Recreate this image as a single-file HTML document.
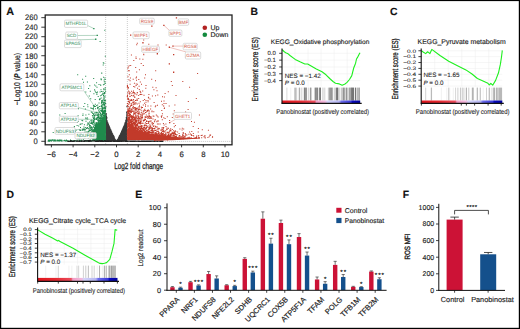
<!DOCTYPE html>
<html><head><meta charset="utf-8"><style>
html,body{margin:0;padding:0;background:#fff;overflow:hidden;width:520px;height:329px;}
svg{display:block;}
text{font-family:"Liberation Sans",sans-serif;text-rendering:geometricPrecision;}
</style></head><body>
<svg width="520" height="329" viewBox="0 0 520 329">
<rect x="0" y="0" width="520" height="329" fill="#fff"/>
<text x="6.20" y="14.70" font-size="10.8" text-anchor="start" fill="#111" font-weight="bold" font-style="normal" stroke="#111" stroke-width="0.14" >A</text>
<line x1="41.30" y1="141.30" x2="45.20" y2="141.30" stroke="#222" stroke-width="0.9" />
<text x="37.70" y="144.10" font-size="8.0" text-anchor="end" fill="#222" font-weight="normal" font-style="normal" stroke="#222" stroke-width="0.14" textLength="4.2" lengthAdjust="spacingAndGlyphs">0</text>
<line x1="41.30" y1="131.79" x2="45.20" y2="131.79" stroke="#222" stroke-width="0.9" />
<text x="37.70" y="134.59" font-size="8.0" text-anchor="end" fill="#222" font-weight="normal" font-style="normal" stroke="#222" stroke-width="0.14" textLength="8.4" lengthAdjust="spacingAndGlyphs">20</text>
<line x1="41.30" y1="122.28" x2="45.20" y2="122.28" stroke="#222" stroke-width="0.9" />
<text x="37.70" y="125.08" font-size="8.0" text-anchor="end" fill="#222" font-weight="normal" font-style="normal" stroke="#222" stroke-width="0.14" textLength="8.4" lengthAdjust="spacingAndGlyphs">40</text>
<line x1="41.30" y1="112.77" x2="45.20" y2="112.77" stroke="#222" stroke-width="0.9" />
<text x="37.70" y="115.57" font-size="8.0" text-anchor="end" fill="#222" font-weight="normal" font-style="normal" stroke="#222" stroke-width="0.14" textLength="8.4" lengthAdjust="spacingAndGlyphs">60</text>
<line x1="41.30" y1="103.26" x2="45.20" y2="103.26" stroke="#222" stroke-width="0.9" />
<text x="37.70" y="106.06" font-size="8.0" text-anchor="end" fill="#222" font-weight="normal" font-style="normal" stroke="#222" stroke-width="0.14" textLength="8.4" lengthAdjust="spacingAndGlyphs">80</text>
<line x1="41.30" y1="93.75" x2="45.20" y2="93.75" stroke="#222" stroke-width="0.9" />
<text x="37.70" y="96.55" font-size="8.0" text-anchor="end" fill="#222" font-weight="normal" font-style="normal" stroke="#222" stroke-width="0.14" textLength="12.6" lengthAdjust="spacingAndGlyphs">100</text>
<line x1="41.30" y1="84.24" x2="45.20" y2="84.24" stroke="#222" stroke-width="0.9" />
<text x="37.70" y="87.04" font-size="8.0" text-anchor="end" fill="#222" font-weight="normal" font-style="normal" stroke="#222" stroke-width="0.14" textLength="12.6" lengthAdjust="spacingAndGlyphs">120</text>
<line x1="41.30" y1="74.73" x2="45.20" y2="74.73" stroke="#222" stroke-width="0.9" />
<text x="37.70" y="77.53" font-size="8.0" text-anchor="end" fill="#222" font-weight="normal" font-style="normal" stroke="#222" stroke-width="0.14" textLength="12.6" lengthAdjust="spacingAndGlyphs">140</text>
<line x1="41.30" y1="65.22" x2="45.20" y2="65.22" stroke="#222" stroke-width="0.9" />
<text x="37.70" y="68.02" font-size="8.0" text-anchor="end" fill="#222" font-weight="normal" font-style="normal" stroke="#222" stroke-width="0.14" textLength="12.6" lengthAdjust="spacingAndGlyphs">160</text>
<line x1="41.30" y1="55.71" x2="45.20" y2="55.71" stroke="#222" stroke-width="0.9" />
<text x="37.70" y="58.51" font-size="8.0" text-anchor="end" fill="#222" font-weight="normal" font-style="normal" stroke="#222" stroke-width="0.14" textLength="12.6" lengthAdjust="spacingAndGlyphs">180</text>
<line x1="41.30" y1="46.20" x2="45.20" y2="46.20" stroke="#222" stroke-width="0.9" />
<text x="37.70" y="49.00" font-size="8.0" text-anchor="end" fill="#222" font-weight="normal" font-style="normal" stroke="#222" stroke-width="0.14" textLength="12.6" lengthAdjust="spacingAndGlyphs">200</text>
<line x1="41.30" y1="36.69" x2="45.20" y2="36.69" stroke="#222" stroke-width="0.9" />
<text x="37.70" y="39.49" font-size="8.0" text-anchor="end" fill="#222" font-weight="normal" font-style="normal" stroke="#222" stroke-width="0.14" textLength="12.6" lengthAdjust="spacingAndGlyphs">220</text>
<line x1="41.30" y1="27.18" x2="45.20" y2="27.18" stroke="#222" stroke-width="0.9" />
<text x="37.70" y="29.98" font-size="8.0" text-anchor="end" fill="#222" font-weight="normal" font-style="normal" stroke="#222" stroke-width="0.14" textLength="12.6" lengthAdjust="spacingAndGlyphs">240</text>
<line x1="41.30" y1="17.67" x2="45.20" y2="17.67" stroke="#222" stroke-width="0.9" />
<text x="37.70" y="20.47" font-size="8.0" text-anchor="end" fill="#222" font-weight="normal" font-style="normal" stroke="#222" stroke-width="0.14" textLength="12.6" lengthAdjust="spacingAndGlyphs">260</text>
<line x1="51.40" y1="144.80" x2="51.40" y2="147.30" stroke="#222" stroke-width="0.9" />
<text x="51.40" y="157.00" font-size="7.8" text-anchor="middle" fill="#222" font-weight="normal" font-style="normal" stroke="#222" stroke-width="0.14" >&#8722;6</text>
<line x1="73.10" y1="144.80" x2="73.10" y2="147.30" stroke="#222" stroke-width="0.9" />
<text x="73.10" y="157.00" font-size="7.8" text-anchor="middle" fill="#222" font-weight="normal" font-style="normal" stroke="#222" stroke-width="0.14" >&#8722;4</text>
<line x1="94.80" y1="144.80" x2="94.80" y2="147.30" stroke="#222" stroke-width="0.9" />
<text x="94.80" y="157.00" font-size="7.8" text-anchor="middle" fill="#222" font-weight="normal" font-style="normal" stroke="#222" stroke-width="0.14" >&#8722;2</text>
<line x1="116.50" y1="144.80" x2="116.50" y2="147.30" stroke="#222" stroke-width="0.9" />
<text x="116.50" y="157.00" font-size="7.8" text-anchor="middle" fill="#222" font-weight="normal" font-style="normal" stroke="#222" stroke-width="0.14" >0</text>
<line x1="138.20" y1="144.80" x2="138.20" y2="147.30" stroke="#222" stroke-width="0.9" />
<text x="138.20" y="157.00" font-size="7.8" text-anchor="middle" fill="#222" font-weight="normal" font-style="normal" stroke="#222" stroke-width="0.14" >2</text>
<line x1="159.90" y1="144.80" x2="159.90" y2="147.30" stroke="#222" stroke-width="0.9" />
<text x="159.90" y="157.00" font-size="7.8" text-anchor="middle" fill="#222" font-weight="normal" font-style="normal" stroke="#222" stroke-width="0.14" >4</text>
<line x1="181.60" y1="144.80" x2="181.60" y2="147.30" stroke="#222" stroke-width="0.9" />
<text x="181.60" y="157.00" font-size="7.8" text-anchor="middle" fill="#222" font-weight="normal" font-style="normal" stroke="#222" stroke-width="0.14" >6</text>
<line x1="203.30" y1="144.80" x2="203.30" y2="147.30" stroke="#222" stroke-width="0.9" />
<text x="203.30" y="157.00" font-size="7.8" text-anchor="middle" fill="#222" font-weight="normal" font-style="normal" stroke="#222" stroke-width="0.14" >8</text>
<line x1="225.00" y1="144.80" x2="225.00" y2="147.30" stroke="#222" stroke-width="0.9" />
<text x="225.00" y="157.00" font-size="7.8" text-anchor="middle" fill="#222" font-weight="normal" font-style="normal" stroke="#222" stroke-width="0.14" >10</text>
<text transform="translate(20.2,79) rotate(-90)" font-size="8.4" text-anchor="middle" fill="#222" stroke="#222" stroke-width="0.2" textLength="52.3" lengthAdjust="spacingAndGlyphs">&#8722;Log10 (<tspan font-style="italic" font-weight="bold">P</tspan> value)</text>
<text x="138.65" y="169.40" font-size="9.0" text-anchor="middle" fill="#222" font-weight="normal" font-style="normal"  textLength="49" lengthAdjust="spacingAndGlyphs" stroke="#222" stroke-width="0.25">Log2 fold change</text>
<line x1="105.65" y1="15.00" x2="105.65" y2="144.80" stroke="#999" stroke-width="0.5" stroke-dasharray="1,1"/>
<line x1="127.35" y1="15.00" x2="127.35" y2="144.80" stroke="#999" stroke-width="0.5" stroke-dasharray="1,1"/>
<line x1="45.20" y1="141.40" x2="232.00" y2="141.40" stroke="#aaa" stroke-width="0.7" stroke-dasharray="1,1"/>
<polygon points="105.65,118.48 106.19,119.73 106.73,120.97 107.28,122.21 107.82,123.44 108.36,124.67 108.91,125.88 109.45,127.09 109.99,128.29 110.53,129.48 111.08,130.65 111.62,131.82 112.16,132.97 112.70,134.11 113.25,135.23 113.79,136.33 114.33,137.41 114.87,138.47 115.42,139.49 115.96,140.45 116.50,141.30 117.04,140.45 117.59,139.49 118.13,138.47 118.67,137.41 119.21,136.33 119.75,135.23 120.30,134.11 120.84,132.97 121.38,131.82 121.92,130.65 122.47,129.48 123.01,128.29 123.55,127.09 124.09,125.88 124.64,124.67 125.18,123.44 125.72,122.21 126.27,120.97 126.81,119.73 127.35,118.48 127.35,141.54 105.65,141.54" fill="#3a3a3a"/>
<polygon points="127.4,128.3 135,129.5 140,131.0 145,133.0 155,134.2 163,135.3 172,136.5 182,137.4 192,137.9 200,137.8 200,138.5 192,139.1 182,139.8 172,140.3 127.4,140.3" fill="#c23a2a"/>
<polygon points="92.5,132 95,126 98,123.5 102,122.5 105.6,121.5 105.6,140.3 92.5,140.3" fill="#1f8a4c"/>
<path d="M106.4,121.8h1.1v1.1h-1.1zM107.1,122.3h1.1v1.1h-1.1zM107.8,124.2h1.1v1.1h-1.1zM125.7,121.0h1.1v1.1h-1.1zM126.3,112.7h1.1v1.1h-1.1zM107.7,123.9h1.1v1.1h-1.1zM109.0,128.0h1.1v1.1h-1.1zM106.5,120.9h1.1v1.1h-1.1zM122.3,129.7h1.1v1.1h-1.1zM124.1,125.9h1.1v1.1h-1.1zM126.4,117.1h1.1v1.1h-1.1zM121.5,130.0h1.1v1.1h-1.1zM106.0,118.2h1.1v1.1h-1.1zM117.5,138.5h1.1v1.1h-1.1zM115.0,140.4h1.1v1.1h-1.1zM106.4,121.4h1.1v1.1h-1.1zM126.7,119.0h1.1v1.1h-1.1zM113.5,136.3h1.1v1.1h-1.1zM108.7,126.4h1.1v1.1h-1.1zM121.8,129.4h1.1v1.1h-1.1zM113.6,136.6h1.1v1.1h-1.1zM117.0,140.6h1.1v1.1h-1.1zM124.3,128.1h1.1v1.1h-1.1zM108.9,127.0h1.1v1.1h-1.1zM117.4,139.9h1.1v1.1h-1.1zM118.5,136.2h1.1v1.1h-1.1zM122.0,131.6h1.1v1.1h-1.1zM107.3,124.5h1.1v1.1h-1.1zM106.6,121.4h1.1v1.1h-1.1zM105.1,117.5h1.1v1.1h-1.1zM124.1,125.5h1.1v1.1h-1.1zM123.5,132.4h1.1v1.1h-1.1zM107.3,123.5h1.1v1.1h-1.1zM123.1,126.6h1.1v1.1h-1.1zM125.7,121.2h1.1v1.1h-1.1zM116.6,140.6h1.1v1.1h-1.1zM121.9,130.1h1.1v1.1h-1.1zM122.7,133.1h1.1v1.1h-1.1zM122.6,129.9h1.1v1.1h-1.1zM110.0,130.0h1.1v1.1h-1.1zM105.7,118.5h1.1v1.1h-1.1zM110.7,135.0h1.1v1.1h-1.1zM125.4,123.7h1.1v1.1h-1.1zM110.0,129.3h1.1v1.1h-1.1zM118.6,138.4h1.1v1.1h-1.1zM119.3,134.7h1.1v1.1h-1.1zM124.8,123.8h1.1v1.1h-1.1zM122.2,128.8h1.1v1.1h-1.1zM126.2,118.5h1.1v1.1h-1.1zM125.6,122.1h1.1v1.1h-1.1zM107.9,124.0h1.1v1.1h-1.1zM122.6,127.6h1.1v1.1h-1.1zM126.4,118.9h1.1v1.1h-1.1zM105.4,119.3h1.1v1.1h-1.1zM116.5,140.7h1.1v1.1h-1.1zM123.0,126.8h1.1v1.1h-1.1zM124.8,122.7h1.1v1.1h-1.1zM117.8,138.3h1.1v1.1h-1.1zM105.2,119.4h1.1v1.1h-1.1zM115.4,140.5h1.1v1.1h-1.1zM117.2,138.9h1.1v1.1h-1.1zM110.5,130.5h1.1v1.1h-1.1zM121.6,133.1h1.1v1.1h-1.1zM116.2,140.5h1.1v1.1h-1.1zM125.5,119.8h1.1v1.1h-1.1zM125.5,120.1h1.1v1.1h-1.1zM125.6,123.2h1.1v1.1h-1.1zM107.7,124.8h1.1v1.1h-1.1zM110.3,129.8h1.1v1.1h-1.1zM122.1,131.7h1.1v1.1h-1.1zM120.6,131.9h1.1v1.1h-1.1zM126.1,111.8h1.1v1.1h-1.1zM126.6,120.2h1.1v1.1h-1.1zM112.0,133.3h1.1v1.1h-1.1zM112.3,134.9h1.1v1.1h-1.1zM126.5,106.2h1.1v1.1h-1.1zM107.4,123.6h1.1v1.1h-1.1zM122.0,129.2h1.1v1.1h-1.1zM114.3,140.2h1.1v1.1h-1.1zM108.3,128.8h1.1v1.1h-1.1zM106.3,121.7h1.1v1.1h-1.1zM106.7,124.6h1.1v1.1h-1.1zM122.5,127.8h1.1v1.1h-1.1zM106.5,123.4h1.1v1.1h-1.1zM125.2,121.9h1.1v1.1h-1.1zM107.5,123.6h1.1v1.1h-1.1zM109.5,128.4h1.1v1.1h-1.1zM121.6,130.1h1.1v1.1h-1.1zM109.0,127.3h1.1v1.1h-1.1zM109.2,128.1h1.1v1.1h-1.1zM107.4,125.4h1.1v1.1h-1.1zM115.8,140.4h1.1v1.1h-1.1zM126.4,112.5h1.1v1.1h-1.1zM120.4,132.9h1.1v1.1h-1.1zM106.3,120.7h1.1v1.1h-1.1zM108.6,126.0h1.1v1.1h-1.1zM124.0,125.9h1.1v1.1h-1.1zM110.4,130.2h1.1v1.1h-1.1zM108.5,126.5h1.1v1.1h-1.1zM126.0,123.2h1.1v1.1h-1.1zM110.4,134.7h1.1v1.1h-1.1zM105.6,118.7h1.1v1.1h-1.1zM121.4,131.6h1.1v1.1h-1.1zM124.2,124.5h1.1v1.1h-1.1zM126.5,113.6h1.1v1.1h-1.1zM123.2,129.2h1.1v1.1h-1.1zM121.0,131.1h1.1v1.1h-1.1zM116.0,140.5h1.1v1.1h-1.1zM124.5,124.5h1.1v1.1h-1.1zM110.1,129.2h1.1v1.1h-1.1zM123.2,127.1h1.1v1.1h-1.1zM118.7,136.7h1.1v1.1h-1.1zM122.4,129.8h1.1v1.1h-1.1zM116.7,139.6h1.1v1.1h-1.1zM110.9,131.2h1.1v1.1h-1.1zM126.3,118.5h1.1v1.1h-1.1zM115.5,140.4h1.1v1.1h-1.1zM106.8,121.8h1.1v1.1h-1.1zM106.4,120.0h1.1v1.1h-1.1zM120.1,133.3h1.1v1.1h-1.1zM107.7,126.9h1.1v1.1h-1.1zM126.3,122.9h1.1v1.1h-1.1zM115.1,140.6h1.1v1.1h-1.1zM109.7,132.4h1.1v1.1h-1.1zM116.5,140.1h1.1v1.1h-1.1zM116.1,140.3h1.1v1.1h-1.1zM105.2,115.8h1.1v1.1h-1.1zM123.3,125.7h1.1v1.1h-1.1zM123.3,125.9h1.1v1.1h-1.1zM120.6,132.3h1.1v1.1h-1.1zM113.6,137.8h1.1v1.1h-1.1zM106.1,117.3h1.1v1.1h-1.1zM111.3,132.2h1.1v1.1h-1.1zM113.2,138.8h1.1v1.1h-1.1zM118.8,139.6h1.1v1.1h-1.1zM121.4,131.5h1.1v1.1h-1.1zM106.2,123.9h1.1v1.1h-1.1zM111.6,137.7h1.1v1.1h-1.1zM108.7,126.4h1.1v1.1h-1.1zM124.8,123.5h1.1v1.1h-1.1zM124.8,130.3h1.1v1.1h-1.1zM108.1,125.1h1.1v1.1h-1.1zM110.3,130.0h1.1v1.1h-1.1zM124.4,125.3h1.1v1.1h-1.1zM106.4,117.3h1.1v1.1h-1.1zM107.8,125.0h1.1v1.1h-1.1zM123.8,125.0h1.1v1.1h-1.1zM110.5,130.8h1.1v1.1h-1.1zM125.8,119.1h1.1v1.1h-1.1zM105.6,114.8h1.1v1.1h-1.1zM124.5,123.7h1.1v1.1h-1.1zM105.1,103.2h1.1v1.1h-1.1zM123.0,129.1h1.1v1.1h-1.1zM110.5,130.2h1.1v1.1h-1.1zM116.4,140.4h1.1v1.1h-1.1zM121.7,130.3h1.1v1.1h-1.1zM106.0,121.5h1.1v1.1h-1.1zM125.1,123.1h1.1v1.1h-1.1zM107.9,124.5h1.1v1.1h-1.1zM106.6,121.7h1.1v1.1h-1.1zM125.9,116.9h1.1v1.1h-1.1zM110.5,134.6h1.1v1.1h-1.1zM115.9,140.4h1.1v1.1h-1.1zM125.2,122.0h1.1v1.1h-1.1zM122.4,129.8h1.1v1.1h-1.1zM109.6,133.0h1.1v1.1h-1.1zM122.9,127.1h1.1v1.1h-1.1zM121.6,130.1h1.1v1.1h-1.1zM109.9,129.6h1.1v1.1h-1.1zM125.7,119.9h1.1v1.1h-1.1zM109.7,133.6h1.1v1.1h-1.1zM106.2,119.8h1.1v1.1h-1.1zM124.6,125.5h1.1v1.1h-1.1zM126.7,119.6h1.1v1.1h-1.1zM109.1,130.9h1.1v1.1h-1.1zM105.8,119.8h1.1v1.1h-1.1zM108.8,126.3h1.1v1.1h-1.1zM112.7,134.9h1.1v1.1h-1.1zM109.6,128.7h1.1v1.1h-1.1zM122.9,127.5h1.1v1.1h-1.1zM125.1,121.9h1.1v1.1h-1.1zM124.6,122.9h1.1v1.1h-1.1zM122.7,129.2h1.1v1.1h-1.1zM105.9,113.5h1.1v1.1h-1.1zM110.7,133.7h1.1v1.1h-1.1zM111.0,132.5h1.1v1.1h-1.1zM121.5,133.4h1.1v1.1h-1.1zM125.6,120.4h1.1v1.1h-1.1zM115.4,140.6h1.1v1.1h-1.1zM125.2,120.3h1.1v1.1h-1.1zM121.1,132.8h1.1v1.1h-1.1zM113.0,135.3h1.1v1.1h-1.1zM121.4,130.4h1.1v1.1h-1.1zM105.8,119.8h1.1v1.1h-1.1zM126.4,105.8h1.1v1.1h-1.1zM107.2,123.1h1.1v1.1h-1.1zM114.1,139.2h1.1v1.1h-1.1zM123.5,127.0h1.1v1.1h-1.1zM123.3,126.2h1.1v1.1h-1.1zM113.2,136.0h1.1v1.1h-1.1zM110.4,130.1h1.1v1.1h-1.1zM113.7,137.7h1.1v1.1h-1.1zM122.6,128.8h1.1v1.1h-1.1zM107.3,123.3h1.1v1.1h-1.1zM123.3,129.3h1.1v1.1h-1.1zM109.2,132.4h1.1v1.1h-1.1zM125.3,120.1h1.1v1.1h-1.1zM122.0,132.9h1.1v1.1h-1.1zM118.0,137.4h1.1v1.1h-1.1zM108.2,125.2h1.1v1.1h-1.1zM118.1,137.2h1.1v1.1h-1.1zM112.2,134.0h1.1v1.1h-1.1zM109.5,130.2h1.1v1.1h-1.1zM106.5,120.6h1.1v1.1h-1.1zM117.0,139.1h1.1v1.1h-1.1zM125.8,119.3h1.1v1.1h-1.1zM123.9,132.7h1.1v1.1h-1.1zM109.4,129.5h1.1v1.1h-1.1zM105.2,118.7h1.1v1.1h-1.1zM122.9,127.4h1.1v1.1h-1.1zM105.4,115.6h1.1v1.1h-1.1zM124.8,122.0h1.1v1.1h-1.1zM108.3,125.5h1.1v1.1h-1.1zM125.2,121.2h1.1v1.1h-1.1zM122.6,132.4h1.1v1.1h-1.1zM107.8,127.6h1.1v1.1h-1.1zM125.2,120.3h1.1v1.1h-1.1zM118.6,136.2h1.1v1.1h-1.1zM109.9,129.5h1.1v1.1h-1.1zM123.1,126.6h1.1v1.1h-1.1zM110.5,131.8h1.1v1.1h-1.1zM106.0,118.2h1.1v1.1h-1.1zM105.9,122.1h1.1v1.1h-1.1zM114.3,138.8h1.1v1.1h-1.1zM105.6,118.2h1.1v1.1h-1.1zM110.2,131.5h1.1v1.1h-1.1zM107.9,125.1h1.1v1.1h-1.1zM106.0,121.2h1.1v1.1h-1.1zM121.0,131.9h1.1v1.1h-1.1zM125.7,117.2h1.1v1.1h-1.1zM126.7,110.9h1.1v1.1h-1.1zM109.3,133.1h1.1v1.1h-1.1zM125.9,123.3h1.1v1.1h-1.1zM122.2,132.1h1.1v1.1h-1.1zM112.7,135.0h1.1v1.1h-1.1zM111.1,131.5h1.1v1.1h-1.1zM125.1,122.0h1.1v1.1h-1.1zM105.9,119.6h1.1v1.1h-1.1zM125.4,120.1h1.1v1.1h-1.1zM108.8,128.4h1.1v1.1h-1.1zM116.6,140.3h1.1v1.1h-1.1zM124.3,122.7h1.1v1.1h-1.1zM122.4,128.2h1.1v1.1h-1.1zM121.7,130.2h1.1v1.1h-1.1zM122.9,127.2h1.1v1.1h-1.1zM126.5,115.6h1.1v1.1h-1.1zM105.8,117.4h1.1v1.1h-1.1zM124.5,123.2h1.1v1.1h-1.1zM105.2,118.1h1.1v1.1h-1.1zM109.5,129.3h1.1v1.1h-1.1zM108.0,128.5h1.1v1.1h-1.1zM108.3,125.4h1.1v1.1h-1.1zM124.0,126.4h1.1v1.1h-1.1zM112.7,135.5h1.1v1.1h-1.1zM124.7,122.4h1.1v1.1h-1.1zM106.4,123.0h1.1v1.1h-1.1zM117.1,139.1h1.1v1.1h-1.1zM119.0,135.3h1.1v1.1h-1.1zM124.4,125.2h1.1v1.1h-1.1zM105.2,113.9h1.1v1.1h-1.1zM115.2,140.4h1.1v1.1h-1.1zM107.4,123.5h1.1v1.1h-1.1zM112.4,135.7h1.1v1.1h-1.1zM122.2,129.3h1.1v1.1h-1.1zM119.0,135.4h1.1v1.1h-1.1zM105.4,118.0h1.1v1.1h-1.1zM121.2,132.3h1.1v1.1h-1.1zM124.2,124.4h1.1v1.1h-1.1zM124.8,123.3h1.1v1.1h-1.1zM119.5,134.9h1.1v1.1h-1.1zM120.2,133.3h1.1v1.1h-1.1zM109.7,129.7h1.1v1.1h-1.1zM124.9,122.6h1.1v1.1h-1.1zM107.4,126.9h1.1v1.1h-1.1zM108.2,125.0h1.1v1.1h-1.1zM120.1,134.5h1.1v1.1h-1.1zM106.5,122.0h1.1v1.1h-1.1zM122.8,129.3h1.1v1.1h-1.1zM106.5,121.4h1.1v1.1h-1.1zM125.6,120.5h1.1v1.1h-1.1zM107.5,123.0h1.1v1.1h-1.1zM122.7,128.6h1.1v1.1h-1.1zM107.3,122.5h1.1v1.1h-1.1zM109.5,128.5h1.1v1.1h-1.1zM105.6,118.2h1.1v1.1h-1.1zM112.1,134.4h1.1v1.1h-1.1zM121.9,129.6h1.1v1.1h-1.1zM123.8,124.7h1.1v1.1h-1.1zM108.8,126.3h1.1v1.1h-1.1zM121.6,135.0h1.1v1.1h-1.1zM122.4,128.2h1.1v1.1h-1.1zM112.6,135.0h1.1v1.1h-1.1zM107.5,124.8h1.1v1.1h-1.1zM122.2,130.0h1.1v1.1h-1.1zM124.4,122.8h1.1v1.1h-1.1zM105.6,118.5h1.1v1.1h-1.1zM124.7,123.6h1.1v1.1h-1.1zM124.3,123.9h1.1v1.1h-1.1zM116.6,140.6h1.1v1.1h-1.1zM123.4,127.1h1.1v1.1h-1.1zM108.8,127.0h1.1v1.1h-1.1zM115.1,139.8h1.1v1.1h-1.1zM111.6,135.1h1.1v1.1h-1.1zM108.5,126.0h1.1v1.1h-1.1zM126.3,120.7h1.1v1.1h-1.1zM126.0,118.8h1.1v1.1h-1.1zM126.4,115.7h1.1v1.1h-1.1zM109.6,128.7h1.1v1.1h-1.1zM113.8,138.5h1.1v1.1h-1.1zM108.2,126.2h1.1v1.1h-1.1zM121.2,131.3h1.1v1.1h-1.1zM110.1,130.9h1.1v1.1h-1.1zM121.9,130.7h1.1v1.1h-1.1zM119.8,134.2h1.1v1.1h-1.1zM114.2,139.5h1.1v1.1h-1.1zM115.0,139.9h1.1v1.1h-1.1zM125.3,120.7h1.1v1.1h-1.1zM122.0,129.5h1.1v1.1h-1.1zM126.2,116.8h1.1v1.1h-1.1zM108.6,127.9h1.1v1.1h-1.1zM119.0,136.2h1.1v1.1h-1.1zM125.7,119.0h1.1v1.1h-1.1zM113.6,136.7h1.1v1.1h-1.1zM105.4,117.0h1.1v1.1h-1.1zM121.2,131.6h1.1v1.1h-1.1zM122.5,128.4h1.1v1.1h-1.1zM107.9,126.2h1.1v1.1h-1.1zM126.0,117.9h1.1v1.1h-1.1zM122.9,129.2h1.1v1.1h-1.1zM107.8,126.6h1.1v1.1h-1.1zM123.6,125.7h1.1v1.1h-1.1zM109.1,127.0h1.1v1.1h-1.1zM114.4,139.6h1.1v1.1h-1.1zM125.3,124.2h1.1v1.1h-1.1zM123.1,129.7h1.1v1.1h-1.1zM108.1,127.3h1.1v1.1h-1.1zM105.4,106.2h1.1v1.1h-1.1zM107.3,123.1h1.1v1.1h-1.1zM121.9,129.5h1.1v1.1h-1.1zM124.7,124.8h1.1v1.1h-1.1zM124.4,124.2h1.1v1.1h-1.1zM119.6,136.1h1.1v1.1h-1.1zM109.4,129.3h1.1v1.1h-1.1zM124.3,124.8h1.1v1.1h-1.1zM110.2,129.6h1.1v1.1h-1.1zM106.4,121.5h1.1v1.1h-1.1zM116.8,139.4h1.1v1.1h-1.1zM119.5,134.7h1.1v1.1h-1.1zM125.9,117.8h1.1v1.1h-1.1zM118.3,140.3h1.1v1.1h-1.1zM126.4,117.3h1.1v1.1h-1.1zM124.6,122.6h1.1v1.1h-1.1zM123.8,125.3h1.1v1.1h-1.1zM116.5,140.2h1.1v1.1h-1.1zM123.0,126.9h1.1v1.1h-1.1zM126.3,115.7h1.1v1.1h-1.1zM118.9,135.4h1.1v1.1h-1.1zM124.3,124.7h1.1v1.1h-1.1zM109.2,130.9h1.1v1.1h-1.1zM119.4,137.8h1.1v1.1h-1.1zM118.5,137.8h1.1v1.1h-1.1zM121.7,129.7h1.1v1.1h-1.1zM105.9,116.1h1.1v1.1h-1.1zM123.0,128.8h1.1v1.1h-1.1zM114.4,140.5h1.1v1.1h-1.1zM106.0,116.4h1.1v1.1h-1.1zM117.6,138.7h1.1v1.1h-1.1zM125.4,125.9h1.1v1.1h-1.1zM108.4,125.4h1.1v1.1h-1.1zM126.1,114.5h1.1v1.1h-1.1zM107.9,124.1h1.1v1.1h-1.1zM110.4,131.6h1.1v1.1h-1.1zM106.2,120.5h1.1v1.1h-1.1zM123.7,126.9h1.1v1.1h-1.1zM118.7,136.5h1.1v1.1h-1.1zM110.6,132.1h1.1v1.1h-1.1zM105.4,113.1h1.1v1.1h-1.1zM106.8,121.5h1.1v1.1h-1.1zM108.7,128.9h1.1v1.1h-1.1zM106.4,120.5h1.1v1.1h-1.1zM114.6,138.7h1.1v1.1h-1.1zM113.0,136.7h1.1v1.1h-1.1zM113.5,140.4h1.1v1.1h-1.1zM106.4,124.6h1.1v1.1h-1.1zM123.1,127.0h1.1v1.1h-1.1zM126.3,118.5h1.1v1.1h-1.1zM124.4,123.8h1.1v1.1h-1.1zM118.2,139.1h1.1v1.1h-1.1zM105.1,115.3h1.1v1.1h-1.1zM117.8,140.5h1.1v1.1h-1.1zM123.2,128.4h1.1v1.1h-1.1zM123.6,127.5h1.1v1.1h-1.1zM124.9,122.8h1.1v1.1h-1.1zM117.1,139.1h1.1v1.1h-1.1zM125.3,120.8h1.1v1.1h-1.1zM109.6,128.5h1.1v1.1h-1.1zM122.3,129.0h1.1v1.1h-1.1zM122.6,129.5h1.1v1.1h-1.1zM117.7,140.5h1.1v1.1h-1.1zM109.3,127.6h1.1v1.1h-1.1zM108.3,124.9h1.1v1.1h-1.1zM118.8,135.7h1.1v1.1h-1.1z" fill="#3a3a3a" fill-opacity="1"/>
<path d="M103.1,125.9h1.0v1.0h-1.0zM105.0,131.9h1.0v1.0h-1.0zM82.4,115.0h1.0v1.0h-1.0zM101.9,125.1h1.0v1.0h-1.0zM103.6,119.3h1.0v1.0h-1.0zM102.4,107.2h1.0v1.0h-1.0zM98.0,117.6h1.0v1.0h-1.0zM89.0,129.7h1.0v1.0h-1.0zM104.9,130.3h1.0v1.0h-1.0zM104.2,131.5h1.0v1.0h-1.0zM104.9,125.2h1.0v1.0h-1.0zM95.1,127.0h1.0v1.0h-1.0zM90.8,111.6h1.0v1.0h-1.0zM104.8,124.4h1.0v1.0h-1.0zM102.7,131.1h1.0v1.0h-1.0zM89.5,129.7h1.0v1.0h-1.0zM101.1,123.5h1.0v1.0h-1.0zM89.8,122.7h1.0v1.0h-1.0zM102.7,127.1h1.0v1.0h-1.0zM104.3,103.3h1.0v1.0h-1.0zM81.7,130.1h1.0v1.0h-1.0zM104.9,129.7h1.0v1.0h-1.0zM103.0,112.3h1.0v1.0h-1.0zM93.7,116.7h1.0v1.0h-1.0zM104.9,119.0h1.0v1.0h-1.0zM99.1,123.3h1.0v1.0h-1.0zM84.5,131.7h1.0v1.0h-1.0zM104.4,120.2h1.0v1.0h-1.0zM91.4,122.6h1.0v1.0h-1.0zM103.4,124.6h1.0v1.0h-1.0zM98.2,131.3h1.0v1.0h-1.0zM103.2,129.7h1.0v1.0h-1.0zM104.5,126.6h1.0v1.0h-1.0zM104.2,129.9h1.0v1.0h-1.0zM104.4,122.5h1.0v1.0h-1.0zM105.1,121.4h1.0v1.0h-1.0zM104.1,131.9h1.0v1.0h-1.0zM92.3,130.1h1.0v1.0h-1.0zM91.9,115.0h1.0v1.0h-1.0zM94.4,130.9h1.0v1.0h-1.0zM102.2,131.3h1.0v1.0h-1.0zM92.2,116.4h1.0v1.0h-1.0zM100.3,127.1h1.0v1.0h-1.0zM103.1,117.4h1.0v1.0h-1.0zM102.0,123.8h1.0v1.0h-1.0zM104.4,130.1h1.0v1.0h-1.0zM104.8,121.5h1.0v1.0h-1.0zM101.2,130.9h1.0v1.0h-1.0zM95.1,129.6h1.0v1.0h-1.0zM102.5,130.8h1.0v1.0h-1.0zM103.6,116.6h1.0v1.0h-1.0zM103.1,130.6h1.0v1.0h-1.0zM101.8,128.9h1.0v1.0h-1.0zM93.7,131.2h1.0v1.0h-1.0zM86.4,131.7h1.0v1.0h-1.0zM94.1,122.8h1.0v1.0h-1.0zM104.0,126.7h1.0v1.0h-1.0zM103.5,129.7h1.0v1.0h-1.0zM104.0,128.3h1.0v1.0h-1.0zM82.1,78.7h1.0v1.0h-1.0zM92.5,131.3h1.0v1.0h-1.0zM103.5,112.8h1.0v1.0h-1.0zM104.8,121.1h1.0v1.0h-1.0zM103.4,99.3h1.0v1.0h-1.0zM105.1,118.1h1.0v1.0h-1.0zM103.1,130.9h1.0v1.0h-1.0zM105.1,116.9h1.0v1.0h-1.0zM101.5,130.5h1.0v1.0h-1.0zM102.3,111.4h1.0v1.0h-1.0zM103.9,125.0h1.0v1.0h-1.0zM104.4,130.5h1.0v1.0h-1.0zM97.9,121.6h1.0v1.0h-1.0zM104.1,131.5h1.0v1.0h-1.0zM104.7,124.2h1.0v1.0h-1.0zM101.8,129.5h1.0v1.0h-1.0zM104.0,124.1h1.0v1.0h-1.0zM99.1,117.9h1.0v1.0h-1.0zM100.9,130.3h1.0v1.0h-1.0zM104.8,120.9h1.0v1.0h-1.0zM102.6,121.3h1.0v1.0h-1.0zM104.9,118.0h1.0v1.0h-1.0zM103.1,116.4h1.0v1.0h-1.0zM95.4,126.4h1.0v1.0h-1.0zM105.1,111.6h1.0v1.0h-1.0zM102.0,114.6h1.0v1.0h-1.0zM103.6,130.5h1.0v1.0h-1.0zM96.4,128.3h1.0v1.0h-1.0zM104.3,128.3h1.0v1.0h-1.0zM100.7,132.2h1.0v1.0h-1.0zM101.5,127.2h1.0v1.0h-1.0zM101.6,131.1h1.0v1.0h-1.0zM99.0,117.7h1.0v1.0h-1.0zM95.3,128.9h1.0v1.0h-1.0zM99.1,128.1h1.0v1.0h-1.0zM98.3,131.7h1.0v1.0h-1.0zM95.1,105.9h1.0v1.0h-1.0zM101.8,126.1h1.0v1.0h-1.0zM101.4,125.6h1.0v1.0h-1.0zM105.0,102.9h1.0v1.0h-1.0zM103.9,130.5h1.0v1.0h-1.0zM104.6,129.8h1.0v1.0h-1.0zM96.8,132.0h1.0v1.0h-1.0zM104.6,121.9h1.0v1.0h-1.0zM104.1,132.1h1.0v1.0h-1.0zM100.7,124.9h1.0v1.0h-1.0zM101.5,121.8h1.0v1.0h-1.0zM104.6,114.8h1.0v1.0h-1.0zM99.0,131.8h1.0v1.0h-1.0zM104.5,126.4h1.0v1.0h-1.0zM101.7,129.4h1.0v1.0h-1.0zM104.5,127.8h1.0v1.0h-1.0zM104.4,124.6h1.0v1.0h-1.0zM95.5,130.9h1.0v1.0h-1.0zM101.0,120.5h1.0v1.0h-1.0zM104.3,117.3h1.0v1.0h-1.0zM91.6,128.0h1.0v1.0h-1.0zM102.5,116.6h1.0v1.0h-1.0zM101.5,127.9h1.0v1.0h-1.0zM91.3,119.4h1.0v1.0h-1.0zM103.1,129.9h1.0v1.0h-1.0zM103.1,127.3h1.0v1.0h-1.0zM85.7,118.3h1.0v1.0h-1.0zM93.2,117.8h1.0v1.0h-1.0zM95.9,131.7h1.0v1.0h-1.0zM101.6,105.1h1.0v1.0h-1.0zM91.8,129.8h1.0v1.0h-1.0zM102.5,123.6h1.0v1.0h-1.0zM102.9,125.7h1.0v1.0h-1.0zM104.8,127.4h1.0v1.0h-1.0zM101.7,132.0h1.0v1.0h-1.0zM104.4,102.3h1.0v1.0h-1.0zM97.8,108.6h1.0v1.0h-1.0zM100.2,118.0h1.0v1.0h-1.0zM94.6,113.7h1.0v1.0h-1.0zM105.0,123.4h1.0v1.0h-1.0zM103.6,122.5h1.0v1.0h-1.0zM103.6,125.5h1.0v1.0h-1.0zM92.5,123.9h1.0v1.0h-1.0zM103.7,125.9h1.0v1.0h-1.0zM102.4,106.4h1.0v1.0h-1.0zM103.5,129.1h1.0v1.0h-1.0zM100.0,131.1h1.0v1.0h-1.0zM100.7,105.5h1.0v1.0h-1.0zM101.6,129.5h1.0v1.0h-1.0zM102.1,125.7h1.0v1.0h-1.0zM104.3,131.1h1.0v1.0h-1.0zM104.4,129.2h1.0v1.0h-1.0zM102.6,129.3h1.0v1.0h-1.0zM103.8,131.4h1.0v1.0h-1.0zM101.3,116.5h1.0v1.0h-1.0zM100.5,125.0h1.0v1.0h-1.0zM100.0,130.3h1.0v1.0h-1.0zM99.1,126.9h1.0v1.0h-1.0zM101.3,124.1h1.0v1.0h-1.0zM102.0,129.0h1.0v1.0h-1.0zM103.8,130.1h1.0v1.0h-1.0zM101.6,128.1h1.0v1.0h-1.0zM100.8,132.1h1.0v1.0h-1.0zM103.0,115.3h1.0v1.0h-1.0zM103.8,125.3h1.0v1.0h-1.0zM101.8,129.4h1.0v1.0h-1.0zM83.7,129.2h1.0v1.0h-1.0zM97.9,130.7h1.0v1.0h-1.0zM104.8,114.7h1.0v1.0h-1.0zM102.3,131.7h1.0v1.0h-1.0zM102.7,127.3h1.0v1.0h-1.0zM98.6,131.2h1.0v1.0h-1.0zM103.9,104.8h1.0v1.0h-1.0zM98.6,130.8h1.0v1.0h-1.0zM103.1,128.5h1.0v1.0h-1.0zM99.6,124.0h1.0v1.0h-1.0zM95.9,117.5h1.0v1.0h-1.0zM101.6,120.7h1.0v1.0h-1.0zM98.5,120.0h1.0v1.0h-1.0zM102.0,119.1h1.0v1.0h-1.0zM99.1,111.2h1.0v1.0h-1.0zM104.5,114.7h1.0v1.0h-1.0zM105.1,119.8h1.0v1.0h-1.0zM100.8,126.3h1.0v1.0h-1.0zM89.1,125.0h1.0v1.0h-1.0zM102.5,119.1h1.0v1.0h-1.0zM95.1,124.2h1.0v1.0h-1.0zM102.8,127.1h1.0v1.0h-1.0zM102.1,121.2h1.0v1.0h-1.0zM103.4,128.0h1.0v1.0h-1.0zM101.2,128.1h1.0v1.0h-1.0zM103.2,119.0h1.0v1.0h-1.0zM95.9,126.3h1.0v1.0h-1.0zM102.3,130.5h1.0v1.0h-1.0zM103.4,130.9h1.0v1.0h-1.0zM100.9,124.8h1.0v1.0h-1.0zM104.7,110.6h1.0v1.0h-1.0zM103.2,116.4h1.0v1.0h-1.0zM96.2,104.9h1.0v1.0h-1.0zM104.0,127.5h1.0v1.0h-1.0zM93.3,132.1h1.0v1.0h-1.0zM104.9,125.1h1.0v1.0h-1.0zM101.8,110.6h1.0v1.0h-1.0zM97.9,125.6h1.0v1.0h-1.0zM73.9,126.0h1.0v1.0h-1.0zM101.6,122.3h1.0v1.0h-1.0zM102.7,128.4h1.0v1.0h-1.0zM100.7,128.5h1.0v1.0h-1.0zM90.7,122.6h1.0v1.0h-1.0zM101.5,131.3h1.0v1.0h-1.0zM102.8,127.8h1.0v1.0h-1.0zM101.1,124.9h1.0v1.0h-1.0zM94.8,103.7h1.0v1.0h-1.0zM101.9,127.3h1.0v1.0h-1.0zM100.3,84.7h1.0v1.0h-1.0zM103.1,125.8h1.0v1.0h-1.0zM96.9,130.6h1.0v1.0h-1.0zM103.3,99.4h1.0v1.0h-1.0zM96.6,126.1h1.0v1.0h-1.0zM104.6,113.0h1.0v1.0h-1.0zM99.4,117.5h1.0v1.0h-1.0zM82.5,113.5h1.0v1.0h-1.0zM102.5,130.8h1.0v1.0h-1.0zM103.5,126.1h1.0v1.0h-1.0zM101.7,130.4h1.0v1.0h-1.0zM104.1,123.7h1.0v1.0h-1.0zM100.6,128.5h1.0v1.0h-1.0zM80.4,123.6h1.0v1.0h-1.0zM104.9,127.7h1.0v1.0h-1.0zM97.6,129.1h1.0v1.0h-1.0zM99.4,132.2h1.0v1.0h-1.0zM103.4,116.4h1.0v1.0h-1.0zM100.8,122.8h1.0v1.0h-1.0zM104.1,126.3h1.0v1.0h-1.0zM101.2,129.6h1.0v1.0h-1.0zM100.0,125.7h1.0v1.0h-1.0zM76.6,124.9h1.0v1.0h-1.0zM102.5,131.1h1.0v1.0h-1.0zM104.3,120.0h1.0v1.0h-1.0zM104.6,131.3h1.0v1.0h-1.0zM104.2,125.9h1.0v1.0h-1.0zM96.7,124.1h1.0v1.0h-1.0zM97.1,131.7h1.0v1.0h-1.0zM105.1,119.6h1.0v1.0h-1.0zM103.2,121.5h1.0v1.0h-1.0zM103.0,130.6h1.0v1.0h-1.0zM103.6,131.3h1.0v1.0h-1.0zM93.7,124.7h1.0v1.0h-1.0zM103.0,127.1h1.0v1.0h-1.0zM102.8,131.7h1.0v1.0h-1.0zM94.3,124.7h1.0v1.0h-1.0zM89.5,127.3h1.0v1.0h-1.0zM100.4,129.8h1.0v1.0h-1.0zM104.9,109.4h1.0v1.0h-1.0zM95.7,129.0h1.0v1.0h-1.0zM93.9,117.7h1.0v1.0h-1.0zM103.4,124.3h1.0v1.0h-1.0zM89.4,126.4h1.0v1.0h-1.0zM90.5,129.8h1.0v1.0h-1.0zM102.7,121.4h1.0v1.0h-1.0zM103.9,129.1h1.0v1.0h-1.0zM95.0,126.6h1.0v1.0h-1.0zM97.4,129.8h1.0v1.0h-1.0zM104.2,128.4h1.0v1.0h-1.0zM104.1,101.8h1.0v1.0h-1.0zM103.5,125.2h1.0v1.0h-1.0zM104.5,125.7h1.0v1.0h-1.0zM102.8,127.8h1.0v1.0h-1.0zM104.8,131.1h1.0v1.0h-1.0zM96.6,128.5h1.0v1.0h-1.0zM103.8,130.4h1.0v1.0h-1.0zM103.5,129.9h1.0v1.0h-1.0zM105.0,122.9h1.0v1.0h-1.0zM103.1,130.8h1.0v1.0h-1.0zM99.2,131.4h1.0v1.0h-1.0zM103.6,116.8h1.0v1.0h-1.0zM104.5,127.2h1.0v1.0h-1.0zM96.3,118.2h1.0v1.0h-1.0zM104.3,128.5h1.0v1.0h-1.0zM98.9,128.2h1.0v1.0h-1.0zM89.6,130.2h1.0v1.0h-1.0zM90.4,126.2h1.0v1.0h-1.0zM103.9,127.1h1.0v1.0h-1.0zM104.4,121.7h1.0v1.0h-1.0zM103.7,112.5h1.0v1.0h-1.0zM100.8,128.3h1.0v1.0h-1.0zM103.7,124.2h1.0v1.0h-1.0zM104.0,114.6h1.0v1.0h-1.0zM104.5,126.1h1.0v1.0h-1.0zM101.3,129.5h1.0v1.0h-1.0zM97.9,128.1h1.0v1.0h-1.0zM99.9,125.0h1.0v1.0h-1.0zM103.3,128.0h1.0v1.0h-1.0zM104.7,130.6h1.0v1.0h-1.0zM95.8,128.9h1.0v1.0h-1.0zM99.8,131.2h1.0v1.0h-1.0zM101.1,128.4h1.0v1.0h-1.0zM101.7,129.2h1.0v1.0h-1.0zM104.8,129.0h1.0v1.0h-1.0zM103.9,131.1h1.0v1.0h-1.0zM99.0,129.4h1.0v1.0h-1.0zM102.6,111.7h1.0v1.0h-1.0zM97.8,113.9h1.0v1.0h-1.0zM95.5,131.0h1.0v1.0h-1.0zM103.5,132.0h1.0v1.0h-1.0zM99.6,122.9h1.0v1.0h-1.0zM103.0,127.7h1.0v1.0h-1.0zM99.9,121.9h1.0v1.0h-1.0zM103.7,116.2h1.0v1.0h-1.0zM103.0,123.7h1.0v1.0h-1.0zM104.2,131.2h1.0v1.0h-1.0zM93.2,120.9h1.0v1.0h-1.0zM99.0,131.9h1.0v1.0h-1.0zM104.9,130.7h1.0v1.0h-1.0zM104.1,129.1h1.0v1.0h-1.0zM102.8,131.9h1.0v1.0h-1.0zM103.3,123.5h1.0v1.0h-1.0zM104.2,116.6h1.0v1.0h-1.0zM101.0,121.4h1.0v1.0h-1.0zM103.7,127.3h1.0v1.0h-1.0zM99.5,128.5h1.0v1.0h-1.0zM105.1,116.8h1.0v1.0h-1.0zM97.8,129.3h1.0v1.0h-1.0zM104.9,115.7h1.0v1.0h-1.0zM100.6,131.8h1.0v1.0h-1.0zM103.8,131.2h1.0v1.0h-1.0zM97.5,130.2h1.0v1.0h-1.0zM93.1,120.4h1.0v1.0h-1.0zM104.7,122.1h1.0v1.0h-1.0zM102.7,120.4h1.0v1.0h-1.0zM96.5,129.4h1.0v1.0h-1.0zM104.7,107.2h1.0v1.0h-1.0zM102.4,109.4h1.0v1.0h-1.0zM99.4,120.7h1.0v1.0h-1.0zM96.5,123.8h1.0v1.0h-1.0zM102.2,131.7h1.0v1.0h-1.0zM99.3,127.4h1.0v1.0h-1.0zM101.6,109.7h1.0v1.0h-1.0zM104.5,119.9h1.0v1.0h-1.0zM104.9,121.8h1.0v1.0h-1.0zM97.1,129.6h1.0v1.0h-1.0zM101.3,102.4h1.0v1.0h-1.0zM100.2,125.5h1.0v1.0h-1.0zM103.7,131.7h1.0v1.0h-1.0zM103.0,127.7h1.0v1.0h-1.0zM104.0,129.0h1.0v1.0h-1.0zM104.4,121.7h1.0v1.0h-1.0zM99.7,129.9h1.0v1.0h-1.0zM103.8,126.0h1.0v1.0h-1.0zM102.3,108.7h1.0v1.0h-1.0zM103.0,129.2h1.0v1.0h-1.0zM94.6,130.9h1.0v1.0h-1.0zM101.1,128.7h1.0v1.0h-1.0zM96.9,125.4h1.0v1.0h-1.0zM98.2,130.6h1.0v1.0h-1.0zM99.8,124.4h1.0v1.0h-1.0zM102.1,119.8h1.0v1.0h-1.0zM96.4,131.2h1.0v1.0h-1.0zM103.5,128.4h1.0v1.0h-1.0zM104.0,131.7h1.0v1.0h-1.0zM103.5,130.3h1.0v1.0h-1.0zM99.2,127.1h1.0v1.0h-1.0zM104.5,128.9h1.0v1.0h-1.0zM102.0,128.4h1.0v1.0h-1.0zM104.2,131.6h1.0v1.0h-1.0zM105.1,90.8h1.0v1.0h-1.0zM98.4,131.5h1.0v1.0h-1.0zM99.0,98.6h1.0v1.0h-1.0zM101.1,131.2h1.0v1.0h-1.0zM101.9,127.3h1.0v1.0h-1.0zM104.1,125.5h1.0v1.0h-1.0zM105.1,110.7h1.0v1.0h-1.0zM100.1,123.8h1.0v1.0h-1.0zM91.8,123.2h1.0v1.0h-1.0zM103.7,129.8h1.0v1.0h-1.0zM104.4,132.0h1.0v1.0h-1.0zM97.9,116.6h1.0v1.0h-1.0zM103.4,130.5h1.0v1.0h-1.0zM100.2,116.2h1.0v1.0h-1.0zM92.4,130.6h1.0v1.0h-1.0zM97.6,117.0h1.0v1.0h-1.0zM98.5,128.8h1.0v1.0h-1.0zM104.1,117.3h1.0v1.0h-1.0zM103.2,128.3h1.0v1.0h-1.0zM101.2,128.3h1.0v1.0h-1.0zM96.4,129.9h1.0v1.0h-1.0zM104.9,125.1h1.0v1.0h-1.0zM100.3,117.6h1.0v1.0h-1.0zM99.2,112.1h1.0v1.0h-1.0zM91.0,126.4h1.0v1.0h-1.0zM101.8,130.8h1.0v1.0h-1.0zM103.4,124.8h1.0v1.0h-1.0zM104.7,122.3h1.0v1.0h-1.0zM104.3,127.2h1.0v1.0h-1.0zM88.0,131.4h1.0v1.0h-1.0zM104.9,127.3h1.0v1.0h-1.0zM104.1,121.2h1.0v1.0h-1.0zM105.1,116.5h1.0v1.0h-1.0zM95.7,119.0h1.0v1.0h-1.0zM102.4,129.4h1.0v1.0h-1.0zM99.8,126.0h1.0v1.0h-1.0zM102.5,128.7h1.0v1.0h-1.0zM102.3,122.8h1.0v1.0h-1.0zM96.6,112.2h1.0v1.0h-1.0zM104.3,129.2h1.0v1.0h-1.0zM102.3,125.1h1.0v1.0h-1.0zM103.0,130.4h1.0v1.0h-1.0zM104.7,128.9h1.0v1.0h-1.0zM102.1,101.8h1.0v1.0h-1.0zM93.4,115.1h1.0v1.0h-1.0zM87.2,104.3h1.0v1.0h-1.0zM100.4,118.0h1.0v1.0h-1.0zM104.8,122.6h1.0v1.0h-1.0zM100.5,129.2h1.0v1.0h-1.0zM101.0,106.1h1.0v1.0h-1.0zM101.9,123.3h1.0v1.0h-1.0zM103.4,128.6h1.0v1.0h-1.0zM94.6,132.0h1.0v1.0h-1.0zM104.1,122.5h1.0v1.0h-1.0zM102.2,131.5h1.0v1.0h-1.0zM99.9,128.2h1.0v1.0h-1.0zM100.9,127.6h1.0v1.0h-1.0zM101.4,125.1h1.0v1.0h-1.0zM102.7,131.2h1.0v1.0h-1.0zM104.2,113.3h1.0v1.0h-1.0zM101.3,131.2h1.0v1.0h-1.0zM95.5,129.7h1.0v1.0h-1.0zM104.6,125.7h1.0v1.0h-1.0zM103.7,126.5h1.0v1.0h-1.0zM101.2,130.0h1.0v1.0h-1.0zM101.0,131.2h1.0v1.0h-1.0zM101.6,124.6h1.0v1.0h-1.0zM104.7,127.7h1.0v1.0h-1.0zM104.8,127.3h1.0v1.0h-1.0zM95.4,125.4h1.0v1.0h-1.0zM99.0,120.1h1.0v1.0h-1.0zM104.5,92.2h1.0v1.0h-1.0zM98.9,131.3h1.0v1.0h-1.0zM96.5,128.0h1.0v1.0h-1.0zM104.2,104.7h1.0v1.0h-1.0zM101.1,119.5h1.0v1.0h-1.0zM104.4,119.4h1.0v1.0h-1.0zM104.8,129.9h1.0v1.0h-1.0zM102.9,132.1h1.0v1.0h-1.0zM100.7,130.2h1.0v1.0h-1.0zM103.4,121.7h1.0v1.0h-1.0zM102.4,113.4h1.0v1.0h-1.0zM100.4,114.6h1.0v1.0h-1.0zM101.1,110.9h1.0v1.0h-1.0zM95.1,130.6h1.0v1.0h-1.0zM98.4,128.6h1.0v1.0h-1.0zM98.1,122.5h1.0v1.0h-1.0zM96.6,131.1h1.0v1.0h-1.0zM102.9,120.8h1.0v1.0h-1.0zM90.7,121.3h1.0v1.0h-1.0zM104.9,124.3h1.0v1.0h-1.0zM104.6,125.4h1.0v1.0h-1.0zM97.2,131.2h1.0v1.0h-1.0zM92.5,122.6h1.0v1.0h-1.0zM103.7,130.4h1.0v1.0h-1.0zM102.2,116.6h1.0v1.0h-1.0zM100.9,131.2h1.0v1.0h-1.0zM105.0,131.2h1.0v1.0h-1.0zM97.3,130.5h1.0v1.0h-1.0zM101.2,129.3h1.0v1.0h-1.0zM99.5,128.1h1.0v1.0h-1.0zM104.4,114.4h1.0v1.0h-1.0zM101.4,122.2h1.0v1.0h-1.0zM97.1,106.8h1.0v1.0h-1.0zM105.1,128.6h1.0v1.0h-1.0zM104.3,126.3h1.0v1.0h-1.0zM95.1,118.4h1.0v1.0h-1.0zM105.0,130.5h1.0v1.0h-1.0zM96.8,122.5h1.0v1.0h-1.0zM102.7,126.7h1.0v1.0h-1.0zM104.3,116.3h1.0v1.0h-1.0zM102.7,114.6h1.0v1.0h-1.0zM100.5,131.5h1.0v1.0h-1.0zM103.2,130.1h1.0v1.0h-1.0zM94.2,124.6h1.0v1.0h-1.0zM104.9,130.6h1.0v1.0h-1.0zM102.9,126.8h1.0v1.0h-1.0zM100.9,128.0h1.0v1.0h-1.0zM103.0,132.2h1.0v1.0h-1.0zM100.9,128.7h1.0v1.0h-1.0zM105.0,127.0h1.0v1.0h-1.0zM84.1,131.8h1.0v1.0h-1.0zM104.4,122.7h1.0v1.0h-1.0zM103.6,129.5h1.0v1.0h-1.0zM101.7,129.6h1.0v1.0h-1.0zM101.0,125.8h1.0v1.0h-1.0zM89.8,90.7h1.0v1.0h-1.0zM105.0,125.2h1.0v1.0h-1.0zM97.9,114.6h1.0v1.0h-1.0zM97.9,123.6h1.0v1.0h-1.0zM100.2,128.4h1.0v1.0h-1.0zM103.5,118.6h1.0v1.0h-1.0zM95.1,108.3h1.0v1.0h-1.0zM99.5,129.1h1.0v1.0h-1.0zM98.1,120.7h1.0v1.0h-1.0zM101.7,123.6h1.0v1.0h-1.0zM103.0,125.4h1.0v1.0h-1.0zM102.6,131.7h1.0v1.0h-1.0zM103.1,128.9h1.0v1.0h-1.0zM83.4,126.6h1.0v1.0h-1.0zM102.9,129.8h1.0v1.0h-1.0zM103.8,128.5h1.0v1.0h-1.0zM104.4,132.2h1.0v1.0h-1.0zM95.1,127.1h1.0v1.0h-1.0zM102.3,125.0h1.0v1.0h-1.0zM103.4,130.6h1.0v1.0h-1.0zM104.8,129.1h1.0v1.0h-1.0zM103.3,121.1h1.0v1.0h-1.0zM101.2,108.5h1.0v1.0h-1.0zM103.1,110.5h1.0v1.0h-1.0zM100.9,131.5h1.0v1.0h-1.0zM104.2,124.8h1.0v1.0h-1.0zM83.7,128.4h1.0v1.0h-1.0zM97.9,127.4h1.0v1.0h-1.0zM95.2,131.6h1.0v1.0h-1.0zM101.9,112.6h1.0v1.0h-1.0zM103.6,129.7h1.0v1.0h-1.0zM105.0,130.7h1.0v1.0h-1.0zM103.6,121.8h1.0v1.0h-1.0zM103.9,127.9h1.0v1.0h-1.0zM104.0,124.3h1.0v1.0h-1.0zM95.4,123.3h1.0v1.0h-1.0zM104.1,120.9h1.0v1.0h-1.0zM89.0,124.4h1.0v1.0h-1.0zM104.7,118.0h1.0v1.0h-1.0zM95.0,128.6h1.0v1.0h-1.0zM104.4,130.4h1.0v1.0h-1.0zM101.4,114.4h1.0v1.0h-1.0zM100.1,110.3h1.0v1.0h-1.0zM104.0,128.8h1.0v1.0h-1.0zM98.4,123.3h1.0v1.0h-1.0zM102.6,122.5h1.0v1.0h-1.0zM103.1,131.7h1.0v1.0h-1.0zM102.5,131.8h1.0v1.0h-1.0zM100.3,128.7h1.0v1.0h-1.0zM101.8,124.4h1.0v1.0h-1.0zM103.7,126.9h1.0v1.0h-1.0zM105.1,110.0h1.0v1.0h-1.0zM101.1,94.7h1.0v1.0h-1.0zM104.8,124.1h1.0v1.0h-1.0zM98.8,128.8h1.0v1.0h-1.0zM104.7,130.8h1.0v1.0h-1.0zM104.4,119.7h1.0v1.0h-1.0zM104.7,117.8h1.0v1.0h-1.0zM102.4,125.6h1.0v1.0h-1.0zM100.8,125.3h1.0v1.0h-1.0zM99.9,124.3h1.0v1.0h-1.0zM103.2,120.7h1.0v1.0h-1.0zM103.7,121.6h1.0v1.0h-1.0zM98.1,119.4h1.0v1.0h-1.0zM103.3,119.5h1.0v1.0h-1.0zM86.6,127.1h1.0v1.0h-1.0zM103.5,125.9h1.0v1.0h-1.0zM91.3,131.0h1.0v1.0h-1.0zM105.1,126.7h1.0v1.0h-1.0zM99.9,119.5h1.0v1.0h-1.0zM102.9,93.2h1.0v1.0h-1.0zM103.9,120.1h1.0v1.0h-1.0zM104.7,132.0h1.0v1.0h-1.0zM104.4,131.7h1.0v1.0h-1.0zM101.7,125.3h1.0v1.0h-1.0zM104.2,108.2h1.0v1.0h-1.0zM102.9,130.8h1.0v1.0h-1.0zM104.2,120.8h1.0v1.0h-1.0zM92.7,130.7h1.0v1.0h-1.0zM105.0,119.3h1.0v1.0h-1.0zM103.8,97.7h1.0v1.0h-1.0zM101.8,123.6h1.0v1.0h-1.0zM103.1,118.4h1.0v1.0h-1.0zM102.1,128.9h1.0v1.0h-1.0zM93.7,131.2h1.0v1.0h-1.0zM98.7,131.6h1.0v1.0h-1.0zM100.1,127.8h1.0v1.0h-1.0zM95.4,131.7h1.0v1.0h-1.0zM101.1,127.7h1.0v1.0h-1.0zM92.9,107.4h1.0v1.0h-1.0zM100.3,130.0h1.0v1.0h-1.0zM103.7,129.6h1.0v1.0h-1.0zM102.4,130.0h1.0v1.0h-1.0zM104.0,120.0h1.0v1.0h-1.0zM100.1,129.2h1.0v1.0h-1.0zM79.9,130.1h1.0v1.0h-1.0zM101.0,130.8h1.0v1.0h-1.0zM95.4,114.8h1.0v1.0h-1.0zM103.6,120.3h1.0v1.0h-1.0zM96.7,129.4h1.0v1.0h-1.0zM103.2,126.5h1.0v1.0h-1.0zM94.3,130.7h1.0v1.0h-1.0zM99.5,124.4h1.0v1.0h-1.0zM102.2,124.8h1.0v1.0h-1.0zM94.7,130.2h1.0v1.0h-1.0zM94.6,128.4h1.0v1.0h-1.0zM97.7,115.2h1.0v1.0h-1.0zM104.1,115.1h1.0v1.0h-1.0zM79.4,129.2h1.0v1.0h-1.0zM105.0,131.2h1.0v1.0h-1.0zM87.2,132.1h1.0v1.0h-1.0zM93.3,130.8h1.0v1.0h-1.0zM98.6,131.3h1.0v1.0h-1.0zM104.2,122.4h1.0v1.0h-1.0zM104.7,128.7h1.0v1.0h-1.0zM92.9,121.4h1.0v1.0h-1.0zM94.7,98.9h1.0v1.0h-1.0zM105.0,129.9h1.0v1.0h-1.0zM97.5,122.2h1.0v1.0h-1.0zM104.9,126.2h1.0v1.0h-1.0zM103.8,127.4h1.0v1.0h-1.0zM104.6,132.0h1.0v1.0h-1.0zM82.2,129.0h1.0v1.0h-1.0zM94.8,131.1h1.0v1.0h-1.0zM101.9,131.0h1.0v1.0h-1.0zM102.4,130.5h1.0v1.0h-1.0zM99.5,130.9h1.0v1.0h-1.0zM98.6,126.3h1.0v1.0h-1.0zM104.5,128.5h1.0v1.0h-1.0zM101.8,110.7h1.0v1.0h-1.0zM103.0,130.1h1.0v1.0h-1.0zM88.4,113.8h1.0v1.0h-1.0zM98.7,129.5h1.0v1.0h-1.0zM104.2,129.6h1.0v1.0h-1.0zM104.8,131.8h1.0v1.0h-1.0zM101.7,127.7h1.0v1.0h-1.0zM101.2,128.4h1.0v1.0h-1.0zM105.1,122.2h1.0v1.0h-1.0zM100.0,125.5h1.0v1.0h-1.0zM101.2,122.2h1.0v1.0h-1.0zM85.4,114.5h1.0v1.0h-1.0zM99.0,127.9h1.0v1.0h-1.0zM103.3,127.6h1.0v1.0h-1.0zM87.5,128.0h1.0v1.0h-1.0zM102.8,127.7h1.0v1.0h-1.0zM104.4,77.4h1.0v1.0h-1.0zM105.1,124.2h1.0v1.0h-1.0zM92.4,129.7h1.0v1.0h-1.0zM100.5,128.2h1.0v1.0h-1.0zM103.8,130.3h1.0v1.0h-1.0zM104.5,116.4h1.0v1.0h-1.0zM97.6,111.8h1.0v1.0h-1.0zM104.9,122.1h1.0v1.0h-1.0zM103.2,123.3h1.0v1.0h-1.0zM101.2,129.0h1.0v1.0h-1.0zM87.7,132.2h1.0v1.0h-1.0zM98.4,115.8h1.0v1.0h-1.0zM101.6,124.5h1.0v1.0h-1.0zM79.5,129.9h1.0v1.0h-1.0zM100.3,120.6h1.0v1.0h-1.0zM102.8,121.6h1.0v1.0h-1.0zM102.7,125.8h1.0v1.0h-1.0zM100.5,122.5h1.0v1.0h-1.0zM103.2,123.7h1.0v1.0h-1.0zM101.3,130.1h1.0v1.0h-1.0zM100.5,129.6h1.0v1.0h-1.0zM93.4,126.7h1.0v1.0h-1.0zM98.9,125.9h1.0v1.0h-1.0zM102.0,130.1h1.0v1.0h-1.0zM104.4,109.8h1.0v1.0h-1.0zM101.5,125.9h1.0v1.0h-1.0zM101.5,117.9h1.0v1.0h-1.0zM103.8,130.6h1.0v1.0h-1.0zM96.7,126.9h1.0v1.0h-1.0zM100.1,117.2h1.0v1.0h-1.0zM94.2,114.9h1.0v1.0h-1.0zM104.9,128.1h1.0v1.0h-1.0zM96.4,117.6h1.0v1.0h-1.0zM104.5,130.8h1.0v1.0h-1.0zM103.7,131.3h1.0v1.0h-1.0zM103.0,118.3h1.0v1.0h-1.0zM101.5,127.1h1.0v1.0h-1.0zM104.7,127.9h1.0v1.0h-1.0zM76.8,122.1h1.0v1.0h-1.0zM102.2,126.7h1.0v1.0h-1.0zM97.3,120.0h1.0v1.0h-1.0zM104.3,122.5h1.0v1.0h-1.0zM102.9,125.9h1.0v1.0h-1.0zM103.8,128.3h1.0v1.0h-1.0zM103.1,128.1h1.0v1.0h-1.0zM105.0,130.3h1.0v1.0h-1.0zM101.0,131.7h1.0v1.0h-1.0zM104.2,121.4h1.0v1.0h-1.0zM103.6,128.9h1.0v1.0h-1.0zM103.8,116.8h1.0v1.0h-1.0zM104.7,123.6h1.0v1.0h-1.0zM95.6,130.3h1.0v1.0h-1.0zM102.4,118.8h1.0v1.0h-1.0zM100.4,128.2h1.0v1.0h-1.0zM104.9,127.2h1.0v1.0h-1.0zM102.9,121.6h1.0v1.0h-1.0zM103.4,127.7h1.0v1.0h-1.0zM100.0,118.0h1.0v1.0h-1.0zM103.0,128.1h1.0v1.0h-1.0zM100.9,110.1h1.0v1.0h-1.0zM104.1,101.8h1.0v1.0h-1.0zM99.1,128.2h1.0v1.0h-1.0zM99.8,128.8h1.0v1.0h-1.0zM104.8,120.1h1.0v1.0h-1.0zM102.8,125.8h1.0v1.0h-1.0zM101.8,112.4h1.0v1.0h-1.0zM98.2,132.0h1.0v1.0h-1.0zM100.7,126.9h1.0v1.0h-1.0zM102.1,116.6h1.0v1.0h-1.0zM102.5,126.7h1.0v1.0h-1.0zM94.3,127.3h1.0v1.0h-1.0zM101.8,126.1h1.0v1.0h-1.0zM96.6,122.7h1.0v1.0h-1.0zM98.5,127.8h1.0v1.0h-1.0zM104.9,122.5h1.0v1.0h-1.0zM101.2,119.7h1.0v1.0h-1.0zM98.0,131.1h1.0v1.0h-1.0zM103.9,131.5h1.0v1.0h-1.0zM96.8,131.3h1.0v1.0h-1.0zM104.7,120.2h1.0v1.0h-1.0zM101.1,131.7h1.0v1.0h-1.0zM99.6,121.6h1.0v1.0h-1.0zM101.9,131.7h1.0v1.0h-1.0zM99.4,127.6h1.0v1.0h-1.0zM100.8,78.6h1.0v1.0h-1.0zM96.8,114.6h1.0v1.0h-1.0zM104.4,128.7h1.0v1.0h-1.0zM101.6,132.2h1.0v1.0h-1.0zM83.3,129.5h1.0v1.0h-1.0zM103.6,129.0h1.0v1.0h-1.0zM103.7,115.5h1.0v1.0h-1.0zM101.2,126.1h1.0v1.0h-1.0zM102.5,131.8h1.0v1.0h-1.0zM103.4,115.0h1.0v1.0h-1.0zM97.2,115.6h1.0v1.0h-1.0zM103.7,130.3h1.0v1.0h-1.0zM104.9,125.6h1.0v1.0h-1.0zM102.8,126.9h1.0v1.0h-1.0zM101.9,124.7h1.0v1.0h-1.0zM102.9,118.4h1.0v1.0h-1.0zM104.0,110.7h1.0v1.0h-1.0zM101.2,131.8h1.0v1.0h-1.0zM103.3,125.7h1.0v1.0h-1.0zM102.6,125.1h1.0v1.0h-1.0zM103.2,129.5h1.0v1.0h-1.0zM97.4,129.3h1.0v1.0h-1.0zM99.1,118.3h1.0v1.0h-1.0zM100.8,127.0h1.0v1.0h-1.0zM91.8,127.2h1.0v1.0h-1.0zM94.9,131.7h1.0v1.0h-1.0zM102.4,123.5h1.0v1.0h-1.0zM104.9,115.2h1.0v1.0h-1.0zM104.8,124.5h1.0v1.0h-1.0zM104.2,110.3h1.0v1.0h-1.0zM101.1,118.4h1.0v1.0h-1.0zM101.8,122.6h1.0v1.0h-1.0zM99.6,129.2h1.0v1.0h-1.0zM104.0,116.6h1.0v1.0h-1.0zM104.4,110.8h1.0v1.0h-1.0zM104.0,131.3h1.0v1.0h-1.0zM104.6,119.1h1.0v1.0h-1.0zM90.4,127.6h1.0v1.0h-1.0zM99.9,129.7h1.0v1.0h-1.0zM93.6,122.3h1.0v1.0h-1.0zM104.3,131.7h1.0v1.0h-1.0zM99.3,131.9h1.0v1.0h-1.0zM96.3,129.2h1.0v1.0h-1.0zM103.8,124.8h1.0v1.0h-1.0zM103.3,125.2h1.0v1.0h-1.0zM104.3,111.4h1.0v1.0h-1.0zM103.2,116.5h1.0v1.0h-1.0zM104.3,118.5h1.0v1.0h-1.0zM86.0,128.0h1.0v1.0h-1.0zM105.0,128.1h1.0v1.0h-1.0zM100.1,130.1h1.0v1.0h-1.0zM101.3,131.4h1.0v1.0h-1.0zM102.1,121.1h1.0v1.0h-1.0zM102.4,122.5h1.0v1.0h-1.0zM104.5,117.1h1.0v1.0h-1.0zM104.5,110.2h1.0v1.0h-1.0zM78.0,108.2h1.0v1.0h-1.0zM101.5,129.3h1.0v1.0h-1.0zM103.0,120.3h1.0v1.0h-1.0zM101.8,109.5h1.0v1.0h-1.0zM104.7,126.5h1.0v1.0h-1.0zM95.4,124.4h1.0v1.0h-1.0zM101.3,131.4h1.0v1.0h-1.0zM104.4,129.5h1.0v1.0h-1.0zM94.2,116.2h1.0v1.0h-1.0zM103.9,110.1h1.0v1.0h-1.0zM105.0,124.4h1.0v1.0h-1.0zM88.4,128.6h1.0v1.0h-1.0zM91.0,123.1h1.0v1.0h-1.0zM104.9,128.8h1.0v1.0h-1.0zM102.2,129.8h1.0v1.0h-1.0zM98.5,130.5h1.0v1.0h-1.0zM97.6,129.2h1.0v1.0h-1.0zM104.8,125.2h1.0v1.0h-1.0zM104.6,125.4h1.0v1.0h-1.0zM97.6,124.5h1.0v1.0h-1.0zM102.1,131.9h1.0v1.0h-1.0zM101.6,131.3h1.0v1.0h-1.0zM100.0,131.0h1.0v1.0h-1.0zM100.9,128.5h1.0v1.0h-1.0zM102.8,122.9h1.0v1.0h-1.0zM104.3,130.6h1.0v1.0h-1.0zM91.3,128.8h1.0v1.0h-1.0zM96.1,114.5h1.0v1.0h-1.0zM101.9,130.8h1.0v1.0h-1.0zM104.6,114.1h1.0v1.0h-1.0zM104.5,126.4h1.0v1.0h-1.0zM101.4,131.2h1.0v1.0h-1.0zM102.1,130.7h1.0v1.0h-1.0zM101.4,126.2h1.0v1.0h-1.0zM102.9,130.3h1.0v1.0h-1.0zM102.6,130.3h1.0v1.0h-1.0zM104.5,129.9h1.0v1.0h-1.0zM95.1,126.3h1.0v1.0h-1.0zM94.3,132.1h1.0v1.0h-1.0zM91.1,126.5h1.0v1.0h-1.0zM97.5,125.0h1.0v1.0h-1.0zM99.4,130.0h1.0v1.0h-1.0zM98.4,130.8h1.0v1.0h-1.0zM103.6,132.0h1.0v1.0h-1.0zM102.7,126.0h1.0v1.0h-1.0zM103.4,113.3h1.0v1.0h-1.0zM104.7,124.8h1.0v1.0h-1.0zM103.8,124.5h1.0v1.0h-1.0zM97.6,121.6h1.0v1.0h-1.0zM104.8,129.8h1.0v1.0h-1.0zM100.7,97.4h1.0v1.0h-1.0zM104.9,124.0h1.0v1.0h-1.0zM99.4,117.8h1.0v1.0h-1.0zM103.1,118.0h1.0v1.0h-1.0zM102.1,110.5h1.0v1.0h-1.0zM105.1,108.1h1.0v1.0h-1.0zM102.5,127.7h1.0v1.0h-1.0zM104.7,129.8h1.0v1.0h-1.0zM98.7,122.5h1.0v1.0h-1.0zM104.3,128.6h1.0v1.0h-1.0zM104.4,130.3h1.0v1.0h-1.0zM103.9,128.8h1.0v1.0h-1.0zM86.9,81.6h1.0v1.0h-1.0zM97.5,126.6h1.0v1.0h-1.0zM101.8,119.3h1.0v1.0h-1.0zM93.5,120.3h1.0v1.0h-1.0zM100.2,130.3h1.0v1.0h-1.0zM100.3,116.2h1.0v1.0h-1.0zM97.6,131.4h1.0v1.0h-1.0zM99.0,128.5h1.0v1.0h-1.0zM104.3,103.3h1.0v1.0h-1.0zM99.7,120.5h1.0v1.0h-1.0zM104.4,117.1h1.0v1.0h-1.0zM91.6,112.1h1.0v1.0h-1.0zM98.5,116.9h1.0v1.0h-1.0zM97.2,124.6h1.0v1.0h-1.0zM102.3,117.3h1.0v1.0h-1.0zM97.6,114.7h1.0v1.0h-1.0zM103.4,104.5h1.0v1.0h-1.0zM101.4,107.2h1.0v1.0h-1.0zM104.5,102.6h1.0v1.0h-1.0zM97.6,129.7h1.0v1.0h-1.0zM96.2,130.0h1.0v1.0h-1.0zM104.1,127.0h1.0v1.0h-1.0zM103.8,126.4h1.0v1.0h-1.0zM93.5,122.3h1.0v1.0h-1.0zM99.1,128.0h1.0v1.0h-1.0zM97.7,118.7h1.0v1.0h-1.0zM99.5,107.9h1.0v1.0h-1.0zM96.6,127.8h1.0v1.0h-1.0zM104.7,123.2h1.0v1.0h-1.0zM96.3,128.7h1.0v1.0h-1.0zM100.7,116.7h1.0v1.0h-1.0zM97.4,132.2h1.0v1.0h-1.0zM101.9,132.1h1.0v1.0h-1.0zM104.6,117.9h1.0v1.0h-1.0zM102.5,124.3h1.0v1.0h-1.0zM102.1,128.7h1.0v1.0h-1.0zM104.0,128.5h1.0v1.0h-1.0zM96.0,124.0h1.0v1.0h-1.0zM103.4,131.4h1.0v1.0h-1.0zM103.6,121.9h1.0v1.0h-1.0zM102.3,123.0h1.0v1.0h-1.0zM97.1,131.1h1.0v1.0h-1.0zM99.5,131.9h1.0v1.0h-1.0zM96.7,130.5h1.0v1.0h-1.0zM103.6,105.1h1.0v1.0h-1.0zM102.9,130.0h1.0v1.0h-1.0zM94.4,124.2h1.0v1.0h-1.0zM94.2,127.9h1.0v1.0h-1.0zM101.7,105.5h1.0v1.0h-1.0zM101.7,94.0h1.0v1.0h-1.0zM104.1,117.0h1.0v1.0h-1.0zM104.3,125.8h1.0v1.0h-1.0zM105.1,130.6h1.0v1.0h-1.0zM91.0,127.0h1.0v1.0h-1.0zM97.0,129.7h1.0v1.0h-1.0zM103.0,131.3h1.0v1.0h-1.0zM101.2,115.3h1.0v1.0h-1.0zM101.6,128.2h1.0v1.0h-1.0zM92.2,113.0h1.0v1.0h-1.0zM99.8,131.5h1.0v1.0h-1.0zM100.4,127.2h1.0v1.0h-1.0zM89.7,128.4h1.0v1.0h-1.0zM99.8,123.7h1.0v1.0h-1.0zM102.8,125.9h1.0v1.0h-1.0zM99.6,111.9h1.0v1.0h-1.0zM101.8,128.4h1.0v1.0h-1.0zM86.9,131.7h1.0v1.0h-1.0zM96.3,122.4h1.0v1.0h-1.0zM101.2,127.1h1.0v1.0h-1.0zM98.3,113.2h1.0v1.0h-1.0zM98.8,120.4h1.0v1.0h-1.0zM105.0,128.9h1.0v1.0h-1.0zM104.4,106.1h1.0v1.0h-1.0zM94.3,130.9h1.0v1.0h-1.0zM100.8,124.9h1.0v1.0h-1.0zM104.9,128.0h1.0v1.0h-1.0zM98.4,123.4h1.0v1.0h-1.0zM103.5,119.9h1.0v1.0h-1.0zM103.4,125.5h1.0v1.0h-1.0zM102.5,99.5h1.0v1.0h-1.0zM100.0,118.2h1.0v1.0h-1.0zM99.6,128.1h1.0v1.0h-1.0zM89.0,121.6h1.0v1.0h-1.0zM99.4,129.4h1.0v1.0h-1.0zM104.3,124.9h1.0v1.0h-1.0zM96.6,118.7h1.0v1.0h-1.0zM103.0,130.9h1.0v1.0h-1.0zM101.6,114.3h1.0v1.0h-1.0zM104.3,120.7h1.0v1.0h-1.0zM104.2,129.0h1.0v1.0h-1.0zM104.9,129.2h1.0v1.0h-1.0zM102.8,103.0h1.0v1.0h-1.0zM89.1,130.4h1.0v1.0h-1.0zM103.3,107.6h1.0v1.0h-1.0zM104.1,128.9h1.0v1.0h-1.0zM102.3,131.2h1.0v1.0h-1.0zM103.7,127.9h1.0v1.0h-1.0zM102.8,103.9h1.0v1.0h-1.0zM103.6,130.3h1.0v1.0h-1.0zM93.4,127.1h1.0v1.0h-1.0zM96.3,123.5h1.0v1.0h-1.0zM97.8,129.0h1.0v1.0h-1.0zM104.3,120.1h1.0v1.0h-1.0zM102.0,125.2h1.0v1.0h-1.0zM99.7,120.3h1.0v1.0h-1.0zM103.6,128.4h1.0v1.0h-1.0zM92.9,125.8h1.0v1.0h-1.0zM103.5,123.7h1.0v1.0h-1.0zM103.7,119.6h1.0v1.0h-1.0zM104.9,117.2h1.0v1.0h-1.0zM101.0,128.5h1.0v1.0h-1.0zM91.4,129.6h1.0v1.0h-1.0zM103.8,131.6h1.0v1.0h-1.0zM101.2,120.2h1.0v1.0h-1.0zM99.6,127.7h1.0v1.0h-1.0zM97.1,131.2h1.0v1.0h-1.0zM103.3,123.4h1.0v1.0h-1.0zM88.4,123.6h1.0v1.0h-1.0zM99.4,119.5h1.0v1.0h-1.0zM102.7,108.1h1.0v1.0h-1.0zM98.5,128.6h1.0v1.0h-1.0zM102.7,118.2h1.0v1.0h-1.0zM103.0,130.5h1.0v1.0h-1.0zM95.1,125.7h1.0v1.0h-1.0zM101.5,122.7h1.0v1.0h-1.0zM93.8,131.0h1.0v1.0h-1.0zM103.1,131.6h1.0v1.0h-1.0zM102.5,126.3h1.0v1.0h-1.0zM95.8,122.8h1.0v1.0h-1.0zM100.9,127.8h1.0v1.0h-1.0zM101.0,129.5h1.0v1.0h-1.0zM96.0,118.9h1.0v1.0h-1.0zM96.2,130.8h1.0v1.0h-1.0zM99.7,120.2h1.0v1.0h-1.0zM101.7,112.7h1.0v1.0h-1.0zM93.9,120.6h1.0v1.0h-1.0zM96.7,123.3h1.0v1.0h-1.0zM94.8,131.0h1.0v1.0h-1.0zM99.2,121.8h1.0v1.0h-1.0zM100.5,129.5h1.0v1.0h-1.0zM104.8,124.3h1.0v1.0h-1.0zM96.6,129.5h1.0v1.0h-1.0zM104.0,130.1h1.0v1.0h-1.0zM104.6,122.6h1.0v1.0h-1.0zM87.2,118.4h1.0v1.0h-1.0zM103.0,121.9h1.0v1.0h-1.0zM104.8,116.6h1.0v1.0h-1.0zM103.2,132.2h1.0v1.0h-1.0zM100.3,130.9h1.0v1.0h-1.0zM103.6,131.7h1.0v1.0h-1.0zM102.2,125.3h1.0v1.0h-1.0zM97.1,131.9h1.0v1.0h-1.0zM96.6,131.2h1.0v1.0h-1.0zM103.9,123.7h1.0v1.0h-1.0zM103.1,128.8h1.0v1.0h-1.0zM101.0,130.1h1.0v1.0h-1.0zM97.4,130.2h1.0v1.0h-1.0zM96.2,118.1h1.0v1.0h-1.0zM101.4,132.0h1.0v1.0h-1.0zM97.8,132.0h1.0v1.0h-1.0zM101.7,127.5h1.0v1.0h-1.0zM104.8,123.7h1.0v1.0h-1.0zM98.8,124.7h1.0v1.0h-1.0zM102.6,126.1h1.0v1.0h-1.0zM100.8,130.0h1.0v1.0h-1.0zM95.3,85.6h1.0v1.0h-1.0zM97.2,104.4h1.0v1.0h-1.0zM103.6,79.6h1.0v1.0h-1.0zM104.8,131.5h1.0v1.0h-1.0zM104.6,132.1h1.0v1.0h-1.0zM100.8,123.2h1.0v1.0h-1.0zM102.8,134.8h1.0v1.0h-1.0zM104.3,133.4h1.0v1.0h-1.0zM103.9,137.7h1.0v1.0h-1.0zM100.1,130.4h1.0v1.0h-1.0zM102.9,137.6h1.0v1.0h-1.0zM100.5,137.7h1.0v1.0h-1.0zM104.0,129.1h1.0v1.0h-1.0zM100.5,89.2h1.0v1.0h-1.0zM99.9,98.5h1.0v1.0h-1.0zM95.5,122.5h1.0v1.0h-1.0zM100.3,139.9h1.0v1.0h-1.0zM104.3,140.6h1.0v1.0h-1.0zM97.6,122.5h1.0v1.0h-1.0zM101.4,136.4h1.0v1.0h-1.0zM103.5,138.2h1.0v1.0h-1.0zM101.3,72.8h1.0v1.0h-1.0zM103.7,140.1h1.0v1.0h-1.0zM104.4,134.5h1.0v1.0h-1.0zM96.4,117.5h1.0v1.0h-1.0zM102.8,139.2h1.0v1.0h-1.0zM104.7,138.4h1.0v1.0h-1.0zM99.4,131.7h1.0v1.0h-1.0zM87.4,106.2h1.0v1.0h-1.0zM99.1,131.6h1.0v1.0h-1.0zM98.6,138.8h1.0v1.0h-1.0zM104.7,129.0h1.0v1.0h-1.0zM102.4,137.4h1.0v1.0h-1.0zM104.0,140.5h1.0v1.0h-1.0zM96.0,123.1h1.0v1.0h-1.0zM94.1,84.6h1.0v1.0h-1.0zM103.0,122.0h1.0v1.0h-1.0zM103.3,116.9h1.0v1.0h-1.0zM98.1,138.7h1.0v1.0h-1.0zM105.1,137.3h1.0v1.0h-1.0zM101.8,134.0h1.0v1.0h-1.0zM105.1,115.5h1.0v1.0h-1.0zM99.3,131.9h1.0v1.0h-1.0zM105.0,109.4h1.0v1.0h-1.0zM102.2,139.7h1.0v1.0h-1.0zM103.6,126.8h1.0v1.0h-1.0zM96.9,131.3h1.0v1.0h-1.0zM101.3,137.5h1.0v1.0h-1.0zM104.1,107.1h1.0v1.0h-1.0zM103.3,139.2h1.0v1.0h-1.0zM101.7,138.9h1.0v1.0h-1.0zM104.3,132.1h1.0v1.0h-1.0zM101.8,126.3h1.0v1.0h-1.0zM100.5,132.5h1.0v1.0h-1.0zM104.9,122.4h1.0v1.0h-1.0zM104.9,131.7h1.0v1.0h-1.0zM103.2,124.8h1.0v1.0h-1.0zM100.4,136.9h1.0v1.0h-1.0zM101.1,124.0h1.0v1.0h-1.0zM102.7,138.6h1.0v1.0h-1.0zM96.0,127.7h1.0v1.0h-1.0zM104.9,136.9h1.0v1.0h-1.0zM88.7,137.1h1.0v1.0h-1.0zM103.2,118.6h1.0v1.0h-1.0zM98.5,126.4h1.0v1.0h-1.0zM100.0,140.2h1.0v1.0h-1.0zM104.8,87.5h1.0v1.0h-1.0zM99.0,140.2h1.0v1.0h-1.0zM104.9,136.9h1.0v1.0h-1.0zM95.0,137.2h1.0v1.0h-1.0zM100.9,102.8h1.0v1.0h-1.0zM101.3,104.9h1.0v1.0h-1.0zM104.0,138.4h1.0v1.0h-1.0zM105.1,120.6h1.0v1.0h-1.0zM104.7,89.2h1.0v1.0h-1.0zM100.4,137.8h1.0v1.0h-1.0zM98.9,138.2h1.0v1.0h-1.0zM102.4,139.2h1.0v1.0h-1.0zM99.3,109.3h1.0v1.0h-1.0zM95.7,140.7h1.0v1.0h-1.0zM97.9,129.2h1.0v1.0h-1.0zM98.6,130.8h1.0v1.0h-1.0zM101.5,127.9h1.0v1.0h-1.0zM99.0,139.6h1.0v1.0h-1.0zM104.9,129.5h1.0v1.0h-1.0zM103.8,133.6h1.0v1.0h-1.0zM105.1,121.3h1.0v1.0h-1.0zM105.0,115.5h1.0v1.0h-1.0zM98.8,132.0h1.0v1.0h-1.0zM104.6,125.8h1.0v1.0h-1.0zM104.2,132.8h1.0v1.0h-1.0zM104.7,87.3h1.0v1.0h-1.0zM102.1,134.6h1.0v1.0h-1.0zM104.8,122.1h1.0v1.0h-1.0zM97.9,113.9h1.0v1.0h-1.0zM104.7,134.2h1.0v1.0h-1.0zM103.8,120.3h1.0v1.0h-1.0zM104.5,127.5h1.0v1.0h-1.0zM90.5,119.9h1.0v1.0h-1.0zM105.1,139.7h1.0v1.0h-1.0zM104.7,124.0h1.0v1.0h-1.0zM101.7,130.3h1.0v1.0h-1.0zM102.8,133.3h1.0v1.0h-1.0zM101.5,125.9h1.0v1.0h-1.0zM95.7,122.0h1.0v1.0h-1.0zM99.1,106.0h1.0v1.0h-1.0zM98.2,122.8h1.0v1.0h-1.0zM105.0,124.5h1.0v1.0h-1.0zM97.9,132.7h1.0v1.0h-1.0zM97.1,138.0h1.0v1.0h-1.0zM94.3,132.5h1.0v1.0h-1.0zM100.5,136.6h1.0v1.0h-1.0zM103.8,134.7h1.0v1.0h-1.0zM103.6,139.4h1.0v1.0h-1.0zM102.9,84.3h1.0v1.0h-1.0zM101.1,102.4h1.0v1.0h-1.0zM99.7,114.9h1.0v1.0h-1.0zM85.5,120.8h1.0v1.0h-1.0zM103.9,136.7h1.0v1.0h-1.0zM103.1,140.5h1.0v1.0h-1.0zM104.1,109.8h1.0v1.0h-1.0zM95.5,135.1h1.0v1.0h-1.0zM99.5,119.5h1.0v1.0h-1.0zM96.8,118.2h1.0v1.0h-1.0zM102.2,139.2h1.0v1.0h-1.0zM98.5,135.4h1.0v1.0h-1.0zM101.4,134.3h1.0v1.0h-1.0zM102.2,92.7h1.0v1.0h-1.0zM104.5,130.0h1.0v1.0h-1.0zM101.1,129.8h1.0v1.0h-1.0zM94.6,133.3h1.0v1.0h-1.0zM95.8,124.1h1.0v1.0h-1.0zM92.1,139.4h1.0v1.0h-1.0zM104.2,135.9h1.0v1.0h-1.0zM96.1,140.6h1.0v1.0h-1.0zM104.0,122.8h1.0v1.0h-1.0zM87.8,138.0h1.0v1.0h-1.0zM102.9,124.2h1.0v1.0h-1.0zM100.7,121.2h1.0v1.0h-1.0zM99.8,136.7h1.0v1.0h-1.0zM104.0,140.4h1.0v1.0h-1.0zM100.7,137.4h1.0v1.0h-1.0zM104.0,93.2h1.0v1.0h-1.0zM101.2,128.0h1.0v1.0h-1.0zM101.1,127.8h1.0v1.0h-1.0zM100.6,135.6h1.0v1.0h-1.0zM104.9,139.8h1.0v1.0h-1.0zM105.1,134.4h1.0v1.0h-1.0zM104.5,139.1h1.0v1.0h-1.0zM102.5,91.0h1.0v1.0h-1.0zM100.7,136.2h1.0v1.0h-1.0zM99.6,138.0h1.0v1.0h-1.0zM104.7,135.6h1.0v1.0h-1.0zM103.1,124.1h1.0v1.0h-1.0zM102.9,122.2h1.0v1.0h-1.0zM104.8,102.4h1.0v1.0h-1.0zM103.5,115.3h1.0v1.0h-1.0zM105.0,115.6h1.0v1.0h-1.0zM104.2,113.2h1.0v1.0h-1.0zM99.0,124.9h1.0v1.0h-1.0zM103.9,140.6h1.0v1.0h-1.0zM104.3,107.2h1.0v1.0h-1.0zM104.5,125.4h1.0v1.0h-1.0zM101.8,125.3h1.0v1.0h-1.0zM104.4,138.6h1.0v1.0h-1.0zM104.7,82.9h1.0v1.0h-1.0zM103.3,125.7h1.0v1.0h-1.0zM101.9,137.2h1.0v1.0h-1.0zM104.9,140.6h1.0v1.0h-1.0zM97.9,138.8h1.0v1.0h-1.0zM92.6,134.3h1.0v1.0h-1.0zM100.3,138.7h1.0v1.0h-1.0zM99.2,136.6h1.0v1.0h-1.0zM103.4,130.2h1.0v1.0h-1.0zM104.7,136.7h1.0v1.0h-1.0zM99.1,136.0h1.0v1.0h-1.0zM103.3,120.1h1.0v1.0h-1.0zM104.2,137.7h1.0v1.0h-1.0zM104.2,133.9h1.0v1.0h-1.0zM103.4,126.1h1.0v1.0h-1.0zM102.7,111.7h1.0v1.0h-1.0zM104.9,125.2h1.0v1.0h-1.0zM98.3,137.0h1.0v1.0h-1.0zM105.0,132.6h1.0v1.0h-1.0zM104.7,132.0h1.0v1.0h-1.0zM100.4,139.4h1.0v1.0h-1.0zM104.7,131.5h1.0v1.0h-1.0zM104.4,137.0h1.0v1.0h-1.0zM102.9,139.0h1.0v1.0h-1.0zM104.9,134.4h1.0v1.0h-1.0zM102.7,101.4h1.0v1.0h-1.0zM102.1,139.7h1.0v1.0h-1.0zM104.2,121.3h1.0v1.0h-1.0zM102.0,111.7h1.0v1.0h-1.0zM92.7,112.9h1.0v1.0h-1.0zM104.7,99.7h1.0v1.0h-1.0zM102.3,136.9h1.0v1.0h-1.0zM104.4,112.3h1.0v1.0h-1.0zM104.2,139.5h1.0v1.0h-1.0zM104.0,104.0h1.0v1.0h-1.0zM102.8,122.0h1.0v1.0h-1.0zM104.8,132.2h1.0v1.0h-1.0zM103.7,137.5h1.0v1.0h-1.0zM101.0,134.4h1.0v1.0h-1.0zM104.6,81.6h1.0v1.0h-1.0zM102.6,137.9h1.0v1.0h-1.0zM105.1,125.7h1.0v1.0h-1.0zM102.4,140.4h1.0v1.0h-1.0zM102.7,121.5h1.0v1.0h-1.0zM102.2,137.0h1.0v1.0h-1.0zM102.5,127.5h1.0v1.0h-1.0zM101.1,138.5h1.0v1.0h-1.0zM98.9,99.3h1.0v1.0h-1.0zM100.0,113.0h1.0v1.0h-1.0zM103.4,107.5h1.0v1.0h-1.0zM104.4,137.1h1.0v1.0h-1.0zM101.7,107.7h1.0v1.0h-1.0zM104.8,137.3h1.0v1.0h-1.0zM105.0,132.5h1.0v1.0h-1.0zM104.6,137.7h1.0v1.0h-1.0zM99.9,128.3h1.0v1.0h-1.0zM94.5,133.4h1.0v1.0h-1.0zM100.8,140.6h1.0v1.0h-1.0zM93.9,137.0h1.0v1.0h-1.0zM102.7,130.6h1.0v1.0h-1.0zM93.9,131.1h1.0v1.0h-1.0zM86.9,126.9h1.0v1.0h-1.0zM104.2,115.2h1.0v1.0h-1.0zM104.3,29.8h1.0v1.0h-1.0zM102.8,137.1h1.0v1.0h-1.0zM92.8,135.2h1.0v1.0h-1.0zM103.1,134.8h1.0v1.0h-1.0zM100.9,140.4h1.0v1.0h-1.0zM103.4,138.3h1.0v1.0h-1.0zM98.4,140.8h1.0v1.0h-1.0zM101.6,136.5h1.0v1.0h-1.0zM102.8,129.0h1.0v1.0h-1.0zM100.4,138.7h1.0v1.0h-1.0zM104.1,138.9h1.0v1.0h-1.0zM92.9,138.5h1.0v1.0h-1.0zM104.6,130.2h1.0v1.0h-1.0zM101.8,109.7h1.0v1.0h-1.0zM104.9,137.0h1.0v1.0h-1.0zM104.4,128.2h1.0v1.0h-1.0zM102.8,133.3h1.0v1.0h-1.0zM96.8,125.3h1.0v1.0h-1.0zM97.7,95.9h1.0v1.0h-1.0zM103.9,100.2h1.0v1.0h-1.0zM103.1,140.0h1.0v1.0h-1.0zM95.8,139.2h1.0v1.0h-1.0zM105.1,135.9h1.0v1.0h-1.0zM103.8,92.2h1.0v1.0h-1.0zM97.4,133.0h1.0v1.0h-1.0zM102.3,113.8h1.0v1.0h-1.0zM98.9,125.7h1.0v1.0h-1.0zM102.4,139.0h1.0v1.0h-1.0zM104.1,125.5h1.0v1.0h-1.0zM101.8,117.7h1.0v1.0h-1.0zM96.4,94.0h1.0v1.0h-1.0zM104.3,139.7h1.0v1.0h-1.0zM96.5,128.7h1.0v1.0h-1.0zM104.4,124.0h1.0v1.0h-1.0zM104.0,136.9h1.0v1.0h-1.0zM103.4,130.2h1.0v1.0h-1.0zM100.8,139.7h1.0v1.0h-1.0zM100.0,126.8h1.0v1.0h-1.0zM102.7,124.9h1.0v1.0h-1.0zM99.0,140.6h1.0v1.0h-1.0zM102.7,124.6h1.0v1.0h-1.0zM100.4,125.9h1.0v1.0h-1.0zM104.4,95.4h1.0v1.0h-1.0zM99.3,137.0h1.0v1.0h-1.0zM103.0,95.6h1.0v1.0h-1.0zM104.2,133.3h1.0v1.0h-1.0zM92.8,107.9h1.0v1.0h-1.0zM104.1,121.8h1.0v1.0h-1.0zM103.4,125.3h1.0v1.0h-1.0zM99.6,138.8h1.0v1.0h-1.0zM104.2,137.3h1.0v1.0h-1.0zM104.0,140.3h1.0v1.0h-1.0zM104.6,133.3h1.0v1.0h-1.0zM103.1,139.6h1.0v1.0h-1.0zM101.8,100.1h1.0v1.0h-1.0zM101.9,134.5h1.0v1.0h-1.0zM100.5,132.6h1.0v1.0h-1.0zM104.4,131.4h1.0v1.0h-1.0zM105.1,124.7h1.0v1.0h-1.0zM104.5,134.2h1.0v1.0h-1.0zM92.7,120.0h1.0v1.0h-1.0zM98.3,126.1h1.0v1.0h-1.0zM101.3,123.4h1.0v1.0h-1.0zM92.3,137.7h1.0v1.0h-1.0zM99.6,135.7h1.0v1.0h-1.0zM104.0,116.2h1.0v1.0h-1.0zM101.6,113.8h1.0v1.0h-1.0zM97.2,128.1h1.0v1.0h-1.0zM104.3,140.6h1.0v1.0h-1.0zM102.2,122.3h1.0v1.0h-1.0zM103.9,139.7h1.0v1.0h-1.0zM105.1,138.1h1.0v1.0h-1.0zM100.6,140.7h1.0v1.0h-1.0zM104.1,136.4h1.0v1.0h-1.0zM100.4,78.6h1.0v1.0h-1.0zM105.1,139.0h1.0v1.0h-1.0zM94.8,90.8h1.0v1.0h-1.0zM104.5,135.0h1.0v1.0h-1.0zM102.3,135.3h1.0v1.0h-1.0zM103.1,131.5h1.0v1.0h-1.0zM104.0,140.0h1.0v1.0h-1.0zM104.8,138.3h1.0v1.0h-1.0zM104.8,126.8h1.0v1.0h-1.0zM100.6,136.4h1.0v1.0h-1.0zM99.2,122.2h1.0v1.0h-1.0zM103.5,131.1h1.0v1.0h-1.0zM104.3,103.1h1.0v1.0h-1.0zM102.0,140.0h1.0v1.0h-1.0zM104.5,124.0h1.0v1.0h-1.0zM103.3,122.8h1.0v1.0h-1.0zM104.1,118.0h1.0v1.0h-1.0zM99.0,139.4h1.0v1.0h-1.0zM101.8,137.8h1.0v1.0h-1.0zM100.5,117.5h1.0v1.0h-1.0zM99.2,137.0h1.0v1.0h-1.0zM104.8,125.2h1.0v1.0h-1.0zM102.0,138.7h1.0v1.0h-1.0zM104.3,128.3h1.0v1.0h-1.0zM104.7,126.4h1.0v1.0h-1.0zM104.1,136.5h1.0v1.0h-1.0zM103.0,129.9h1.0v1.0h-1.0zM100.2,140.3h1.0v1.0h-1.0zM100.2,137.2h1.0v1.0h-1.0zM103.8,126.2h1.0v1.0h-1.0zM100.7,127.2h1.0v1.0h-1.0zM96.3,137.5h1.0v1.0h-1.0zM103.7,125.3h1.0v1.0h-1.0zM104.0,138.3h1.0v1.0h-1.0zM104.2,119.7h1.0v1.0h-1.0zM98.5,122.8h1.0v1.0h-1.0zM93.0,118.2h1.0v1.0h-1.0zM103.7,135.4h1.0v1.0h-1.0zM100.3,140.0h1.0v1.0h-1.0zM101.6,139.4h1.0v1.0h-1.0zM104.9,130.5h1.0v1.0h-1.0zM104.5,102.5h1.0v1.0h-1.0zM97.2,131.9h1.0v1.0h-1.0zM104.3,139.0h1.0v1.0h-1.0zM102.4,130.3h1.0v1.0h-1.0zM103.4,122.8h1.0v1.0h-1.0zM102.3,119.5h1.0v1.0h-1.0zM104.7,139.7h1.0v1.0h-1.0zM103.3,131.4h1.0v1.0h-1.0zM104.0,125.0h1.0v1.0h-1.0zM103.0,132.6h1.0v1.0h-1.0zM99.5,114.1h1.0v1.0h-1.0zM92.4,130.8h1.0v1.0h-1.0zM100.0,84.6h1.0v1.0h-1.0zM81.5,120.1h1.0v1.0h-1.0zM104.2,127.8h1.0v1.0h-1.0zM96.3,133.8h1.0v1.0h-1.0zM104.8,55.8h1.0v1.0h-1.0zM84.3,137.8h1.0v1.0h-1.0zM99.7,120.1h1.0v1.0h-1.0zM102.0,139.3h1.0v1.0h-1.0zM93.1,109.3h1.0v1.0h-1.0zM100.1,138.9h1.0v1.0h-1.0zM100.8,138.7h1.0v1.0h-1.0zM76.4,139.7h1.0v1.0h-1.0zM102.2,109.5h1.0v1.0h-1.0zM103.9,138.4h1.0v1.0h-1.0zM104.5,136.9h1.0v1.0h-1.0zM98.5,102.5h1.0v1.0h-1.0zM103.5,136.7h1.0v1.0h-1.0zM92.6,128.9h1.0v1.0h-1.0zM101.5,138.0h1.0v1.0h-1.0zM102.7,64.5h1.0v1.0h-1.0zM104.1,134.3h1.0v1.0h-1.0zM93.4,93.2h1.0v1.0h-1.0zM84.8,127.1h1.0v1.0h-1.0zM77.9,121.0h1.0v1.0h-1.0zM102.2,127.4h1.0v1.0h-1.0zM94.2,112.4h1.0v1.0h-1.0zM103.9,136.2h1.0v1.0h-1.0zM77.6,138.4h1.0v1.0h-1.0zM90.6,131.9h1.0v1.0h-1.0zM102.7,134.5h1.0v1.0h-1.0zM99.6,41.0h1.0v1.0h-1.0zM103.7,99.5h1.0v1.0h-1.0zM101.8,136.7h1.0v1.0h-1.0zM93.3,131.8h1.0v1.0h-1.0zM103.3,129.2h1.0v1.0h-1.0zM90.2,98.2h1.0v1.0h-1.0zM97.7,140.6h1.0v1.0h-1.0zM92.6,120.8h1.0v1.0h-1.0zM85.2,75.8h1.0v1.0h-1.0zM101.7,100.4h1.0v1.0h-1.0zM90.3,134.2h1.0v1.0h-1.0zM101.2,130.7h1.0v1.0h-1.0zM101.4,130.6h1.0v1.0h-1.0zM104.1,135.3h1.0v1.0h-1.0zM84.3,129.5h1.0v1.0h-1.0zM96.4,94.1h1.0v1.0h-1.0zM92.9,134.8h1.0v1.0h-1.0zM83.3,105.9h1.0v1.0h-1.0zM64.6,112.9h1.0v1.0h-1.0zM92.9,104.9h1.0v1.0h-1.0zM102.6,118.0h1.0v1.0h-1.0zM101.0,101.6h1.0v1.0h-1.0zM103.9,124.2h1.0v1.0h-1.0zM101.6,104.0h1.0v1.0h-1.0zM101.5,101.0h1.0v1.0h-1.0zM88.8,95.6h1.0v1.0h-1.0zM103.8,81.2h1.0v1.0h-1.0zM93.3,116.6h1.0v1.0h-1.0zM96.0,139.7h1.0v1.0h-1.0zM87.4,123.8h1.0v1.0h-1.0zM99.9,131.9h1.0v1.0h-1.0zM91.9,108.2h1.0v1.0h-1.0zM87.4,135.6h1.0v1.0h-1.0zM101.5,134.6h1.0v1.0h-1.0zM104.2,132.3h1.0v1.0h-1.0zM104.9,106.7h1.0v1.0h-1.0zM102.9,139.2h1.0v1.0h-1.0zM104.5,111.9h1.0v1.0h-1.0zM103.2,127.5h1.0v1.0h-1.0zM100.7,106.1h1.0v1.0h-1.0zM78.4,132.8h1.0v1.0h-1.0zM96.4,92.6h1.0v1.0h-1.0zM99.6,91.6h1.0v1.0h-1.0zM93.6,132.8h1.0v1.0h-1.0zM87.2,122.6h1.0v1.0h-1.0zM104.2,121.8h1.0v1.0h-1.0zM89.8,125.1h1.0v1.0h-1.0zM99.4,129.3h1.0v1.0h-1.0zM86.7,117.3h1.0v1.0h-1.0zM103.1,131.2h1.0v1.0h-1.0zM101.2,72.6h1.0v1.0h-1.0zM94.8,137.9h1.0v1.0h-1.0zM83.8,140.0h1.0v1.0h-1.0zM97.4,128.7h1.0v1.0h-1.0zM94.2,128.8h1.0v1.0h-1.0zM104.3,124.9h1.0v1.0h-1.0zM90.2,107.5h1.0v1.0h-1.0zM101.3,135.4h1.0v1.0h-1.0zM93.3,106.2h1.0v1.0h-1.0zM103.0,94.8h1.0v1.0h-1.0zM62.7,128.6h1.0v1.0h-1.0zM101.0,114.3h1.0v1.0h-1.0zM82.1,136.0h1.0v1.0h-1.0zM102.0,132.2h1.0v1.0h-1.0zM93.7,136.4h1.0v1.0h-1.0zM98.3,125.9h1.0v1.0h-1.0zM95.5,137.5h1.0v1.0h-1.0zM98.0,106.8h1.0v1.0h-1.0zM103.4,89.2h1.0v1.0h-1.0zM98.2,110.3h1.0v1.0h-1.0zM87.5,131.2h1.0v1.0h-1.0zM82.8,135.8h1.0v1.0h-1.0zM104.9,125.8h1.0v1.0h-1.0zM85.3,91.4h1.0v1.0h-1.0zM78.2,125.5h1.0v1.0h-1.0zM81.7,123.2h1.0v1.0h-1.0zM103.8,119.4h1.0v1.0h-1.0zM91.0,129.0h1.0v1.0h-1.0zM97.1,134.4h1.0v1.0h-1.0zM102.3,129.1h1.0v1.0h-1.0zM98.9,127.3h1.0v1.0h-1.0zM104.3,140.7h1.0v1.0h-1.0zM101.5,113.8h1.0v1.0h-1.0zM93.2,135.0h1.0v1.0h-1.0zM102.6,125.2h1.0v1.0h-1.0zM103.5,121.0h1.0v1.0h-1.0zM84.8,136.0h1.0v1.0h-1.0zM97.5,113.5h1.0v1.0h-1.0zM93.1,114.1h1.0v1.0h-1.0zM94.4,134.0h1.0v1.0h-1.0zM89.3,85.3h1.0v1.0h-1.0zM104.7,79.1h1.0v1.0h-1.0zM100.1,138.8h1.0v1.0h-1.0zM104.5,106.7h1.0v1.0h-1.0zM95.3,137.5h1.0v1.0h-1.0zM99.8,119.0h1.0v1.0h-1.0zM52.7,132.0h1.0v1.0h-1.0zM92.5,134.8h1.0v1.0h-1.0zM103.2,137.0h1.0v1.0h-1.0zM100.5,120.2h1.0v1.0h-1.0zM102.0,137.0h1.0v1.0h-1.0zM103.0,138.9h1.0v1.0h-1.0zM103.3,132.7h1.0v1.0h-1.0zM99.0,136.4h1.0v1.0h-1.0zM99.5,128.4h1.0v1.0h-1.0zM73.8,126.5h1.0v1.0h-1.0zM80.0,127.1h1.0v1.0h-1.0zM103.2,121.6h1.0v1.0h-1.0zM103.8,136.8h1.0v1.0h-1.0zM104.5,114.9h1.0v1.0h-1.0zM75.5,129.7h1.0v1.0h-1.0zM101.3,128.9h1.0v1.0h-1.0zM101.4,115.7h1.0v1.0h-1.0zM100.8,137.2h1.0v1.0h-1.0zM87.8,122.6h1.0v1.0h-1.0zM105.1,100.3h1.0v1.0h-1.0zM93.8,131.4h1.0v1.0h-1.0zM96.5,86.7h1.0v1.0h-1.0zM100.7,128.7h1.0v1.0h-1.0zM102.1,123.5h1.0v1.0h-1.0zM95.7,112.4h1.0v1.0h-1.0zM79.2,137.4h1.0v1.0h-1.0zM101.2,100.0h1.0v1.0h-1.0zM91.5,121.7h1.0v1.0h-1.0zM95.3,131.9h1.0v1.0h-1.0zM80.0,123.7h1.0v1.0h-1.0zM100.7,136.5h1.0v1.0h-1.0zM104.1,92.0h1.0v1.0h-1.0zM91.1,140.2h1.0v1.0h-1.0zM101.7,126.8h1.0v1.0h-1.0zM99.2,131.1h1.0v1.0h-1.0zM85.6,131.6h1.0v1.0h-1.0zM98.5,84.1h1.0v1.0h-1.0zM96.3,126.9h1.0v1.0h-1.0zM101.6,130.3h1.0v1.0h-1.0zM97.0,107.8h1.0v1.0h-1.0zM102.5,130.9h1.0v1.0h-1.0zM100.9,131.1h1.0v1.0h-1.0zM83.9,124.2h1.0v1.0h-1.0zM102.3,132.1h1.0v1.0h-1.0zM90.2,137.0h1.0v1.0h-1.0zM95.0,140.3h1.0v1.0h-1.0zM103.3,139.5h1.0v1.0h-1.0zM90.9,137.4h1.0v1.0h-1.0zM102.9,139.5h1.0v1.0h-1.0zM102.5,112.5h1.0v1.0h-1.0zM94.1,89.2h1.0v1.0h-1.0zM79.6,123.7h1.0v1.0h-1.0zM83.0,138.8h1.0v1.0h-1.0zM82.6,128.6h1.0v1.0h-1.0zM103.3,111.3h1.0v1.0h-1.0zM88.2,130.4h1.0v1.0h-1.0zM104.3,96.6h1.0v1.0h-1.0zM93.0,121.3h1.0v1.0h-1.0zM72.5,139.9h1.0v1.0h-1.0zM104.6,137.9h1.0v1.0h-1.0zM104.9,114.4h1.0v1.0h-1.0zM96.5,138.2h1.0v1.0h-1.0zM103.6,136.5h1.0v1.0h-1.0zM97.0,116.9h1.0v1.0h-1.0zM74.8,131.2h1.0v1.0h-1.0zM71.6,128.6h1.0v1.0h-1.0zM100.8,134.5h1.0v1.0h-1.0zM102.8,62.2h1.0v1.0h-1.0zM59.3,114.6h1.0v1.0h-1.0zM103.5,136.5h1.0v1.0h-1.0zM103.7,131.5h1.0v1.0h-1.0zM93.5,139.5h1.0v1.0h-1.0zM98.6,116.4h1.0v1.0h-1.0zM104.8,128.4h1.0v1.0h-1.0zM91.5,122.4h1.0v1.0h-1.0zM99.9,95.2h1.0v1.0h-1.0zM97.2,132.0h1.0v1.0h-1.0zM100.8,79.3h1.0v1.0h-1.0zM88.1,88.1h1.0v1.0h-1.0zM98.0,137.5h1.0v1.0h-1.0zM103.5,130.4h1.0v1.0h-1.0zM94.9,140.7h1.0v1.0h-1.0zM91.1,107.8h1.0v1.0h-1.0zM98.9,140.7h1.0v1.0h-1.0zM91.2,129.3h1.0v1.0h-1.0zM95.5,122.7h1.0v1.0h-1.0zM93.8,129.5h1.0v1.0h-1.0zM77.2,74.2h1.0v1.0h-1.0zM82.2,120.3h1.0v1.0h-1.0zM101.8,130.7h1.0v1.0h-1.0zM83.0,81.7h1.0v1.0h-1.0zM88.7,126.2h1.0v1.0h-1.0zM85.1,129.2h1.0v1.0h-1.0zM91.8,134.2h1.0v1.0h-1.0zM77.6,115.3h1.0v1.0h-1.0zM85.2,134.6h1.0v1.0h-1.0zM84.9,108.4h1.0v1.0h-1.0zM71.6,107.2h1.0v1.0h-1.0zM103.8,83.7h1.0v1.0h-1.0zM103.6,128.5h1.0v1.0h-1.0zM103.4,62.8h1.0v1.0h-1.0zM96.9,91.5h1.0v1.0h-1.0zM100.9,90.9h1.0v1.0h-1.0zM90.4,136.9h1.0v1.0h-1.0zM95.5,92.1h1.0v1.0h-1.0zM101.7,100.4h1.0v1.0h-1.0zM100.5,123.2h1.0v1.0h-1.0zM93.2,77.9h1.0v1.0h-1.0zM85.1,117.6h1.0v1.0h-1.0zM77.0,121.3h1.0v1.0h-1.0zM62.9,116.4h1.0v1.0h-1.0zM103.3,88.2h1.0v1.0h-1.0zM102.9,97.5h1.0v1.0h-1.0zM94.1,89.5h1.0v1.0h-1.0zM103.1,102.2h1.0v1.0h-1.0zM98.5,129.9h1.0v1.0h-1.0zM81.3,139.5h1.0v1.0h-1.0zM96.0,137.3h1.0v1.0h-1.0zM104.6,117.0h1.0v1.0h-1.0zM96.2,92.5h1.0v1.0h-1.0zM86.7,124.8h1.0v1.0h-1.0zM67.0,133.0h1.0v1.0h-1.0zM103.1,76.7h1.0v1.0h-1.0zM103.3,133.0h1.0v1.0h-1.0zM95.3,125.2h1.0v1.0h-1.0zM96.1,82.2h1.0v1.0h-1.0zM84.3,102.9h1.0v1.0h-1.0zM54.0,139.6h1.0v1.0h-1.0zM60.5,139.4h1.0v1.0h-1.0zM53.3,140.6h1.0v1.0h-1.0zM89.5,140.0h1.0v1.0h-1.0zM76.2,140.5h1.0v1.0h-1.0zM89.5,139.4h1.0v1.0h-1.0zM100.7,139.9h1.0v1.0h-1.0zM51.4,139.9h1.0v1.0h-1.0zM75.2,140.4h1.0v1.0h-1.0zM59.5,139.8h1.0v1.0h-1.0zM70.0,139.5h1.0v1.0h-1.0zM105.0,140.2h1.0v1.0h-1.0zM50.1,140.2h1.0v1.0h-1.0zM69.1,140.7h1.0v1.0h-1.0zM49.0,140.6h1.0v1.0h-1.0zM65.8,140.4h1.0v1.0h-1.0zM48.1,139.4h1.0v1.0h-1.0zM78.6,140.3h1.0v1.0h-1.0zM65.1,140.4h1.0v1.0h-1.0zM60.4,140.4h1.0v1.0h-1.0zM64.5,140.5h1.0v1.0h-1.0zM53.3,139.9h1.0v1.0h-1.0zM92.8,140.3h1.0v1.0h-1.0zM48.1,140.3h1.0v1.0h-1.0zM79.1,139.4h1.0v1.0h-1.0zM71.0,140.1h1.0v1.0h-1.0zM93.5,139.4h1.0v1.0h-1.0zM104.1,139.8h1.0v1.0h-1.0zM68.1,140.4h1.0v1.0h-1.0zM57.5,139.9h1.0v1.0h-1.0zM90.2,139.5h1.0v1.0h-1.0zM92.1,139.5h1.0v1.0h-1.0zM57.5,139.9h1.0v1.0h-1.0zM49.9,139.9h1.0v1.0h-1.0zM51.5,140.0h1.0v1.0h-1.0zM64.2,139.8h1.0v1.0h-1.0zM63.4,140.0h1.0v1.0h-1.0zM66.7,140.5h1.0v1.0h-1.0zM89.9,140.7h1.0v1.0h-1.0zM80.3,139.8h1.0v1.0h-1.0zM61.8,140.5h1.0v1.0h-1.0zM91.2,140.6h1.0v1.0h-1.0zM66.4,140.1h1.0v1.0h-1.0zM55.3,139.6h1.0v1.0h-1.0zM57.3,140.2h1.0v1.0h-1.0zM86.4,140.3h1.0v1.0h-1.0zM58.4,140.3h1.0v1.0h-1.0zM58.5,139.5h1.0v1.0h-1.0zM86.1,140.5h1.0v1.0h-1.0zM89.1,140.6h1.0v1.0h-1.0zM54.3,140.4h1.0v1.0h-1.0zM88.9,140.7h1.0v1.0h-1.0zM61.4,140.4h1.0v1.0h-1.0zM63.8,140.1h1.0v1.0h-1.0zM48.6,140.7h1.0v1.0h-1.0zM59.1,140.0h1.0v1.0h-1.0zM65.4,140.2h1.0v1.0h-1.0zM48.1,140.7h1.0v1.0h-1.0zM57.8,140.5h1.0v1.0h-1.0zM56.6,140.3h1.0v1.0h-1.0zM58.9,140.3h1.0v1.0h-1.0zM87.3,140.4h1.0v1.0h-1.0zM104.6,140.5h1.0v1.0h-1.0zM63.5,140.0h1.0v1.0h-1.0zM97.0,140.1h1.0v1.0h-1.0zM49.9,139.6h1.0v1.0h-1.0zM52.5,139.4h1.0v1.0h-1.0zM67.1,140.4h1.0v1.0h-1.0zM58.9,140.5h1.0v1.0h-1.0zM60.1,140.0h1.0v1.0h-1.0zM69.7,140.0h1.0v1.0h-1.0zM53.5,139.5h1.0v1.0h-1.0zM57.1,139.4h1.0v1.0h-1.0zM61.4,139.7h1.0v1.0h-1.0zM96.7,140.6h1.0v1.0h-1.0zM78.6,139.9h1.0v1.0h-1.0zM84.4,140.5h1.0v1.0h-1.0zM94.1,139.7h1.0v1.0h-1.0zM81.7,140.7h1.0v1.0h-1.0zM65.9,139.5h1.0v1.0h-1.0zM53.6,140.1h1.0v1.0h-1.0zM73.8,140.6h1.0v1.0h-1.0zM93.5,139.5h1.0v1.0h-1.0zM51.1,140.5h1.0v1.0h-1.0zM64.4,140.0h1.0v1.0h-1.0zM79.4,140.5h1.0v1.0h-1.0zM66.7,140.6h1.0v1.0h-1.0zM59.4,139.5h1.0v1.0h-1.0zM84.1,140.2h1.0v1.0h-1.0zM47.9,140.5h1.0v1.0h-1.0zM59.9,140.1h1.0v1.0h-1.0zM99.0,140.2h1.0v1.0h-1.0zM103.0,140.3h1.0v1.0h-1.0zM49.2,140.8h1.0v1.0h-1.0zM73.8,139.9h1.0v1.0h-1.0zM67.0,140.5h1.0v1.0h-1.0zM92.8,140.0h1.0v1.0h-1.0zM80.4,140.4h1.0v1.0h-1.0zM92.0,139.9h1.0v1.0h-1.0zM104.2,140.1h1.0v1.0h-1.0zM97.9,140.2h1.0v1.0h-1.0zM52.2,139.5h1.0v1.0h-1.0zM68.3,140.7h1.0v1.0h-1.0zM87.2,139.9h1.0v1.0h-1.0zM55.5,140.4h1.0v1.0h-1.0zM49.0,139.5h1.0v1.0h-1.0zM48.4,139.4h1.0v1.0h-1.0zM47.8,139.9h1.0v1.0h-1.0zM61.4,140.0h1.0v1.0h-1.0zM50.6,140.2h1.0v1.0h-1.0zM98.6,139.4h1.0v1.0h-1.0z" fill="#1f8a4c" fill-opacity="1"/>
<path d="M79.7,140.9h1.1v1.1h-1.1zM70.1,140.5h1.1v1.1h-1.1zM70.0,140.8h1.1v1.1h-1.1zM100.8,140.7h1.1v1.1h-1.1zM88.5,141.0h1.1v1.1h-1.1zM97.8,140.4h1.1v1.1h-1.1zM77.8,140.6h1.1v1.1h-1.1zM79.1,140.6h1.1v1.1h-1.1zM95.9,141.0h1.1v1.1h-1.1zM78.5,140.9h1.1v1.1h-1.1zM70.4,140.9h1.1v1.1h-1.1zM86.1,140.4h1.1v1.1h-1.1zM76.2,140.8h1.1v1.1h-1.1zM98.9,140.1h1.1v1.1h-1.1zM94.7,140.7h1.1v1.1h-1.1zM100.3,140.1h1.1v1.1h-1.1zM74.0,140.3h1.1v1.1h-1.1zM95.4,140.8h1.1v1.1h-1.1zM76.2,140.5h1.1v1.1h-1.1zM77.1,140.5h1.1v1.1h-1.1zM104.9,140.8h1.1v1.1h-1.1zM102.5,140.7h1.1v1.1h-1.1zM70.9,140.5h1.1v1.1h-1.1zM98.9,140.7h1.1v1.1h-1.1zM102.6,140.7h1.1v1.1h-1.1zM81.0,140.8h1.1v1.1h-1.1zM68.5,140.9h1.1v1.1h-1.1zM101.4,140.8h1.1v1.1h-1.1zM73.9,140.7h1.1v1.1h-1.1zM102.1,140.5h1.1v1.1h-1.1zM99.4,140.4h1.1v1.1h-1.1zM102.5,140.8h1.1v1.1h-1.1zM87.7,140.3h1.1v1.1h-1.1zM94.8,140.6h1.1v1.1h-1.1zM69.7,140.9h1.1v1.1h-1.1zM102.2,140.8h1.1v1.1h-1.1zM83.3,140.9h1.1v1.1h-1.1zM69.9,140.1h1.1v1.1h-1.1zM101.7,140.4h1.1v1.1h-1.1zM67.4,140.6h1.1v1.1h-1.1zM85.4,140.3h1.1v1.1h-1.1zM100.0,140.9h1.1v1.1h-1.1zM88.7,140.9h1.1v1.1h-1.1zM98.2,140.7h1.1v1.1h-1.1zM89.1,140.8h1.1v1.1h-1.1zM94.2,140.6h1.1v1.1h-1.1zM71.3,140.7h1.1v1.1h-1.1zM95.7,140.6h1.1v1.1h-1.1zM93.6,140.2h1.1v1.1h-1.1zM82.8,140.6h1.1v1.1h-1.1zM90.0,140.3h1.1v1.1h-1.1zM96.4,140.3h1.1v1.1h-1.1zM73.2,140.9h1.1v1.1h-1.1zM89.4,140.3h1.1v1.1h-1.1zM98.8,140.1h1.1v1.1h-1.1zM85.3,140.7h1.1v1.1h-1.1zM104.7,141.0h1.1v1.1h-1.1zM89.2,140.3h1.1v1.1h-1.1zM73.9,140.3h1.1v1.1h-1.1zM74.8,140.2h1.1v1.1h-1.1zM76.4,141.0h1.1v1.1h-1.1zM91.7,140.5h1.1v1.1h-1.1zM101.4,140.6h1.1v1.1h-1.1zM89.7,140.0h1.1v1.1h-1.1zM96.1,140.4h1.1v1.1h-1.1zM88.7,140.2h1.1v1.1h-1.1zM88.3,140.7h1.1v1.1h-1.1zM84.0,140.9h1.1v1.1h-1.1zM102.6,140.5h1.1v1.1h-1.1zM93.6,140.1h1.1v1.1h-1.1zM99.4,140.6h1.1v1.1h-1.1zM91.2,140.7h1.1v1.1h-1.1zM102.8,140.9h1.1v1.1h-1.1zM71.8,140.7h1.1v1.1h-1.1zM86.6,140.6h1.1v1.1h-1.1zM99.7,140.6h1.1v1.1h-1.1zM84.3,140.3h1.1v1.1h-1.1zM70.1,140.5h1.1v1.1h-1.1zM98.1,140.3h1.1v1.1h-1.1zM95.2,140.4h1.1v1.1h-1.1zM99.3,140.5h1.1v1.1h-1.1zM100.9,140.9h1.1v1.1h-1.1zM92.6,140.4h1.1v1.1h-1.1zM77.6,140.6h1.1v1.1h-1.1zM72.1,141.0h1.1v1.1h-1.1zM104.8,140.2h1.1v1.1h-1.1zM97.9,141.0h1.1v1.1h-1.1zM91.1,140.4h1.1v1.1h-1.1zM101.4,140.7h1.1v1.1h-1.1zM85.3,140.1h1.1v1.1h-1.1zM100.5,140.2h1.1v1.1h-1.1zM95.7,140.8h1.1v1.1h-1.1zM97.2,140.5h1.1v1.1h-1.1zM90.0,140.3h1.1v1.1h-1.1zM71.7,140.8h1.1v1.1h-1.1zM81.3,140.3h1.1v1.1h-1.1zM90.2,140.7h1.1v1.1h-1.1zM73.2,140.4h1.1v1.1h-1.1zM97.2,140.2h1.1v1.1h-1.1zM95.4,140.4h1.1v1.1h-1.1zM70.4,140.3h1.1v1.1h-1.1zM102.2,140.8h1.1v1.1h-1.1zM97.0,140.8h1.1v1.1h-1.1zM98.8,140.5h1.1v1.1h-1.1zM79.4,140.2h1.1v1.1h-1.1zM104.8,141.0h1.1v1.1h-1.1zM92.7,140.4h1.1v1.1h-1.1zM72.4,140.9h1.1v1.1h-1.1zM72.7,140.5h1.1v1.1h-1.1zM103.9,140.7h1.1v1.1h-1.1zM102.7,140.7h1.1v1.1h-1.1zM67.4,141.0h1.1v1.1h-1.1zM91.5,140.2h1.1v1.1h-1.1zM104.3,140.1h1.1v1.1h-1.1zM88.1,140.1h1.1v1.1h-1.1zM81.0,140.3h1.1v1.1h-1.1zM87.2,140.5h1.1v1.1h-1.1zM77.1,140.2h1.1v1.1h-1.1zM83.6,140.3h1.1v1.1h-1.1zM72.7,141.0h1.1v1.1h-1.1zM85.2,140.7h1.1v1.1h-1.1zM101.1,140.2h1.1v1.1h-1.1zM101.6,140.1h1.1v1.1h-1.1zM104.6,140.8h1.1v1.1h-1.1zM87.9,140.9h1.1v1.1h-1.1zM88.6,140.1h1.1v1.1h-1.1zM88.0,140.9h1.1v1.1h-1.1zM94.3,140.6h1.1v1.1h-1.1zM96.2,141.0h1.1v1.1h-1.1zM85.1,140.4h1.1v1.1h-1.1zM101.9,141.0h1.1v1.1h-1.1zM89.0,141.0h1.1v1.1h-1.1zM100.2,140.9h1.1v1.1h-1.1zM98.3,140.2h1.1v1.1h-1.1zM86.7,140.2h1.1v1.1h-1.1zM104.0,140.1h1.1v1.1h-1.1zM102.2,140.4h1.1v1.1h-1.1zM67.5,140.8h1.1v1.1h-1.1zM85.5,140.7h1.1v1.1h-1.1zM94.4,140.2h1.1v1.1h-1.1zM82.0,140.5h1.1v1.1h-1.1zM81.5,140.6h1.1v1.1h-1.1zM95.3,140.8h1.1v1.1h-1.1zM103.0,140.7h1.1v1.1h-1.1zM74.5,140.3h1.1v1.1h-1.1zM102.4,140.5h1.1v1.1h-1.1zM72.3,140.8h1.1v1.1h-1.1zM86.2,140.3h1.1v1.1h-1.1zM72.2,140.5h1.1v1.1h-1.1zM127.3,140.7h1.1v1.1h-1.1zM161.0,140.5h1.1v1.1h-1.1zM131.5,140.7h1.1v1.1h-1.1zM118.1,140.9h1.1v1.1h-1.1zM132.3,140.6h1.1v1.1h-1.1zM111.2,140.7h1.1v1.1h-1.1zM115.1,140.6h1.1v1.1h-1.1zM124.9,140.6h1.1v1.1h-1.1zM150.1,140.7h1.1v1.1h-1.1zM127.1,140.9h1.1v1.1h-1.1zM117.3,140.6h1.1v1.1h-1.1zM151.5,140.9h1.1v1.1h-1.1zM161.2,140.4h1.1v1.1h-1.1zM126.1,140.6h1.1v1.1h-1.1zM143.8,140.8h1.1v1.1h-1.1zM126.2,140.5h1.1v1.1h-1.1zM133.0,140.7h1.1v1.1h-1.1zM137.5,140.9h1.1v1.1h-1.1zM132.2,140.8h1.1v1.1h-1.1zM114.7,140.6h1.1v1.1h-1.1zM145.5,140.6h1.1v1.1h-1.1zM133.8,140.6h1.1v1.1h-1.1zM129.3,140.4h1.1v1.1h-1.1zM117.4,140.9h1.1v1.1h-1.1zM137.8,140.5h1.1v1.1h-1.1zM127.1,140.7h1.1v1.1h-1.1zM124.8,140.8h1.1v1.1h-1.1zM150.6,140.4h1.1v1.1h-1.1zM121.2,140.6h1.1v1.1h-1.1zM131.5,140.9h1.1v1.1h-1.1zM147.3,140.6h1.1v1.1h-1.1zM162.1,140.4h1.1v1.1h-1.1zM157.0,140.8h1.1v1.1h-1.1zM111.4,140.5h1.1v1.1h-1.1zM111.3,140.5h1.1v1.1h-1.1zM115.2,140.5h1.1v1.1h-1.1zM108.2,140.9h1.1v1.1h-1.1zM155.0,140.6h1.1v1.1h-1.1zM131.0,140.4h1.1v1.1h-1.1zM150.2,140.8h1.1v1.1h-1.1zM145.7,140.7h1.1v1.1h-1.1zM131.8,140.8h1.1v1.1h-1.1zM118.2,140.8h1.1v1.1h-1.1zM120.8,140.8h1.1v1.1h-1.1zM155.3,140.7h1.1v1.1h-1.1zM137.3,140.5h1.1v1.1h-1.1zM144.1,140.9h1.1v1.1h-1.1zM159.9,140.4h1.1v1.1h-1.1zM153.4,140.8h1.1v1.1h-1.1zM152.8,140.6h1.1v1.1h-1.1zM106.9,140.7h1.1v1.1h-1.1zM145.2,140.6h1.1v1.1h-1.1zM159.6,140.5h1.1v1.1h-1.1zM153.2,140.4h1.1v1.1h-1.1zM124.8,140.4h1.1v1.1h-1.1zM105.2,140.5h1.1v1.1h-1.1zM110.2,140.7h1.1v1.1h-1.1zM130.5,140.9h1.1v1.1h-1.1zM141.7,140.5h1.1v1.1h-1.1zM118.0,140.8h1.1v1.1h-1.1zM149.4,140.6h1.1v1.1h-1.1zM106.2,140.8h1.1v1.1h-1.1zM159.4,140.8h1.1v1.1h-1.1zM121.7,140.7h1.1v1.1h-1.1zM156.1,140.5h1.1v1.1h-1.1zM127.2,140.6h1.1v1.1h-1.1zM106.7,140.9h1.1v1.1h-1.1zM126.5,140.6h1.1v1.1h-1.1zM113.2,140.9h1.1v1.1h-1.1zM154.2,140.8h1.1v1.1h-1.1zM108.2,140.9h1.1v1.1h-1.1zM109.6,140.8h1.1v1.1h-1.1zM138.4,140.6h1.1v1.1h-1.1zM121.5,140.6h1.1v1.1h-1.1zM124.2,140.6h1.1v1.1h-1.1zM111.4,140.6h1.1v1.1h-1.1zM105.1,140.4h1.1v1.1h-1.1zM117.1,140.6h1.1v1.1h-1.1zM115.9,140.7h1.1v1.1h-1.1zM120.3,140.6h1.1v1.1h-1.1zM149.9,140.5h1.1v1.1h-1.1zM161.1,140.7h1.1v1.1h-1.1zM136.7,140.7h1.1v1.1h-1.1zM121.7,140.7h1.1v1.1h-1.1zM161.1,140.9h1.1v1.1h-1.1zM148.1,140.8h1.1v1.1h-1.1zM139.5,140.8h1.1v1.1h-1.1zM146.4,140.7h1.1v1.1h-1.1zM122.9,140.7h1.1v1.1h-1.1zM105.4,140.9h1.1v1.1h-1.1zM157.3,140.9h1.1v1.1h-1.1zM128.0,140.6h1.1v1.1h-1.1zM107.2,140.4h1.1v1.1h-1.1zM117.0,140.4h1.1v1.1h-1.1zM130.0,140.6h1.1v1.1h-1.1zM139.8,140.9h1.1v1.1h-1.1zM134.2,140.5h1.1v1.1h-1.1zM150.5,140.5h1.1v1.1h-1.1zM144.2,140.9h1.1v1.1h-1.1zM128.6,140.6h1.1v1.1h-1.1zM107.4,140.5h1.1v1.1h-1.1zM111.0,140.6h1.1v1.1h-1.1zM120.5,140.8h1.1v1.1h-1.1zM159.9,140.6h1.1v1.1h-1.1zM147.2,140.6h1.1v1.1h-1.1zM137.5,140.4h1.1v1.1h-1.1zM108.7,140.7h1.1v1.1h-1.1zM117.7,140.6h1.1v1.1h-1.1zM127.8,140.4h1.1v1.1h-1.1zM118.5,140.8h1.1v1.1h-1.1zM157.8,140.5h1.1v1.1h-1.1zM129.8,140.7h1.1v1.1h-1.1zM147.3,140.9h1.1v1.1h-1.1zM146.6,140.8h1.1v1.1h-1.1zM151.5,140.9h1.1v1.1h-1.1zM157.7,140.4h1.1v1.1h-1.1zM106.5,140.8h1.1v1.1h-1.1zM157.7,140.5h1.1v1.1h-1.1zM121.9,140.5h1.1v1.1h-1.1zM138.5,140.8h1.1v1.1h-1.1zM144.7,140.7h1.1v1.1h-1.1zM113.3,140.5h1.1v1.1h-1.1zM146.4,140.8h1.1v1.1h-1.1zM129.7,140.6h1.1v1.1h-1.1zM126.4,140.8h1.1v1.1h-1.1zM135.4,140.4h1.1v1.1h-1.1zM110.6,140.8h1.1v1.1h-1.1zM132.9,140.4h1.1v1.1h-1.1zM162.2,140.9h1.1v1.1h-1.1zM142.0,140.9h1.1v1.1h-1.1zM117.0,140.9h1.1v1.1h-1.1zM133.8,140.4h1.1v1.1h-1.1zM160.6,140.7h1.1v1.1h-1.1zM156.8,140.5h1.1v1.1h-1.1zM109.4,140.4h1.1v1.1h-1.1zM120.8,140.4h1.1v1.1h-1.1zM112.7,140.4h1.1v1.1h-1.1zM134.6,140.6h1.1v1.1h-1.1zM115.6,140.7h1.1v1.1h-1.1zM148.8,140.6h1.1v1.1h-1.1zM161.5,140.6h1.1v1.1h-1.1zM157.1,140.9h1.1v1.1h-1.1zM147.5,140.6h1.1v1.1h-1.1zM155.9,140.7h1.1v1.1h-1.1zM131.7,140.5h1.1v1.1h-1.1zM119.8,140.7h1.1v1.1h-1.1zM153.8,140.6h1.1v1.1h-1.1zM133.2,140.9h1.1v1.1h-1.1zM149.0,140.7h1.1v1.1h-1.1zM118.8,140.7h1.1v1.1h-1.1zM113.0,140.5h1.1v1.1h-1.1zM150.9,140.4h1.1v1.1h-1.1zM143.9,140.8h1.1v1.1h-1.1zM129.4,140.4h1.1v1.1h-1.1zM105.2,140.7h1.1v1.1h-1.1zM113.7,140.8h1.1v1.1h-1.1zM120.9,140.6h1.1v1.1h-1.1zM109.0,140.4h1.1v1.1h-1.1zM129.8,140.8h1.1v1.1h-1.1zM110.9,140.6h1.1v1.1h-1.1zM125.2,140.7h1.1v1.1h-1.1zM111.3,140.7h1.1v1.1h-1.1zM134.2,140.9h1.1v1.1h-1.1zM133.9,140.5h1.1v1.1h-1.1zM139.0,140.9h1.1v1.1h-1.1zM141.4,140.9h1.1v1.1h-1.1zM113.3,140.9h1.1v1.1h-1.1zM135.6,140.8h1.1v1.1h-1.1zM121.1,140.9h1.1v1.1h-1.1zM156.6,140.9h1.1v1.1h-1.1zM143.9,140.5h1.1v1.1h-1.1zM130.9,140.6h1.1v1.1h-1.1zM124.3,140.5h1.1v1.1h-1.1zM144.5,140.9h1.1v1.1h-1.1zM145.6,140.9h1.1v1.1h-1.1zM132.8,140.8h1.1v1.1h-1.1zM133.0,140.6h1.1v1.1h-1.1zM147.3,140.8h1.1v1.1h-1.1zM108.2,140.7h1.1v1.1h-1.1zM157.7,140.6h1.1v1.1h-1.1zM140.7,140.5h1.1v1.1h-1.1zM141.8,140.4h1.1v1.1h-1.1zM160.0,140.5h1.1v1.1h-1.1zM151.5,140.9h1.1v1.1h-1.1zM120.3,140.5h1.1v1.1h-1.1zM138.5,140.4h1.1v1.1h-1.1zM149.6,140.8h1.1v1.1h-1.1zM115.0,140.6h1.1v1.1h-1.1zM111.5,140.7h1.1v1.1h-1.1zM121.0,140.7h1.1v1.1h-1.1zM142.7,140.6h1.1v1.1h-1.1zM140.6,140.9h1.1v1.1h-1.1zM156.5,140.5h1.1v1.1h-1.1zM157.3,140.6h1.1v1.1h-1.1zM142.3,140.4h1.1v1.1h-1.1zM148.0,140.6h1.1v1.1h-1.1zM107.4,140.9h1.1v1.1h-1.1zM146.3,140.5h1.1v1.1h-1.1zM127.3,140.8h1.1v1.1h-1.1zM130.5,140.5h1.1v1.1h-1.1zM148.5,140.9h1.1v1.1h-1.1zM116.7,140.8h1.1v1.1h-1.1zM148.0,140.8h1.1v1.1h-1.1zM156.2,140.7h1.1v1.1h-1.1zM116.2,140.7h1.1v1.1h-1.1zM113.1,140.4h1.1v1.1h-1.1zM106.4,140.7h1.1v1.1h-1.1zM126.9,140.9h1.1v1.1h-1.1zM117.9,140.4h1.1v1.1h-1.1zM154.5,140.7h1.1v1.1h-1.1zM155.3,140.4h1.1v1.1h-1.1zM154.4,140.5h1.1v1.1h-1.1zM137.7,140.6h1.1v1.1h-1.1zM146.3,140.6h1.1v1.1h-1.1zM161.1,140.8h1.1v1.1h-1.1zM156.8,140.5h1.1v1.1h-1.1zM130.5,140.5h1.1v1.1h-1.1zM121.6,140.7h1.1v1.1h-1.1zM138.3,140.4h1.1v1.1h-1.1zM119.0,140.5h1.1v1.1h-1.1zM142.9,140.4h1.1v1.1h-1.1zM122.3,140.6h1.1v1.1h-1.1zM156.2,140.4h1.1v1.1h-1.1zM145.3,140.5h1.1v1.1h-1.1zM141.6,140.6h1.1v1.1h-1.1zM116.2,140.6h1.1v1.1h-1.1zM161.3,140.4h1.1v1.1h-1.1zM107.5,140.8h1.1v1.1h-1.1zM118.9,140.5h1.1v1.1h-1.1zM115.6,140.5h1.1v1.1h-1.1zM116.4,140.7h1.1v1.1h-1.1zM161.0,140.9h1.1v1.1h-1.1zM138.5,140.8h1.1v1.1h-1.1zM148.6,140.9h1.1v1.1h-1.1zM144.0,140.8h1.1v1.1h-1.1zM160.2,140.8h1.1v1.1h-1.1zM143.6,140.9h1.1v1.1h-1.1zM159.1,140.6h1.1v1.1h-1.1zM157.7,140.5h1.1v1.1h-1.1zM108.6,140.5h1.1v1.1h-1.1zM127.0,140.8h1.1v1.1h-1.1zM156.3,140.6h1.1v1.1h-1.1zM125.2,140.9h1.1v1.1h-1.1zM142.4,140.9h1.1v1.1h-1.1zM118.9,140.9h1.1v1.1h-1.1zM115.0,140.5h1.1v1.1h-1.1zM120.5,140.4h1.1v1.1h-1.1zM121.2,140.5h1.1v1.1h-1.1zM147.4,140.6h1.1v1.1h-1.1zM139.9,140.9h1.1v1.1h-1.1zM152.8,140.4h1.1v1.1h-1.1zM135.6,140.8h1.1v1.1h-1.1zM110.0,140.8h1.1v1.1h-1.1zM161.0,140.8h1.1v1.1h-1.1zM121.2,140.6h1.1v1.1h-1.1zM107.1,140.5h1.1v1.1h-1.1zM149.9,140.8h1.1v1.1h-1.1zM106.8,140.4h1.1v1.1h-1.1zM151.7,140.5h1.1v1.1h-1.1zM117.2,140.4h1.1v1.1h-1.1z" fill="#222" fill-opacity="1"/>
<path d="M147.2,110.2h1.0v1.0h-1.0zM135.3,121.4h1.0v1.0h-1.0zM130.6,123.2h1.0v1.0h-1.0zM143.9,119.9h1.0v1.0h-1.0zM151.1,127.6h1.0v1.0h-1.0zM131.1,121.4h1.0v1.0h-1.0zM135.6,135.0h1.0v1.0h-1.0zM133.1,122.1h1.0v1.0h-1.0zM151.9,129.1h1.0v1.0h-1.0zM141.8,136.9h1.0v1.0h-1.0zM129.1,128.6h1.0v1.0h-1.0zM130.1,134.0h1.0v1.0h-1.0zM128.3,136.7h1.0v1.0h-1.0zM144.0,136.4h1.0v1.0h-1.0zM152.4,135.9h1.0v1.0h-1.0zM152.5,136.1h1.0v1.0h-1.0zM131.1,133.1h1.0v1.0h-1.0zM127.0,131.3h1.0v1.0h-1.0zM133.3,138.5h1.0v1.0h-1.0zM153.6,135.6h1.0v1.0h-1.0zM126.8,95.9h1.0v1.0h-1.0zM130.3,135.4h1.0v1.0h-1.0zM127.2,137.5h1.0v1.0h-1.0zM143.6,132.4h1.0v1.0h-1.0zM136.3,135.9h1.0v1.0h-1.0zM131.4,100.1h1.0v1.0h-1.0zM133.1,92.1h1.0v1.0h-1.0zM156.4,137.0h1.0v1.0h-1.0zM152.4,137.6h1.0v1.0h-1.0zM143.7,127.2h1.0v1.0h-1.0zM143.0,132.7h1.0v1.0h-1.0zM149.6,137.0h1.0v1.0h-1.0zM137.4,135.7h1.0v1.0h-1.0zM133.7,136.4h1.0v1.0h-1.0zM143.5,132.5h1.0v1.0h-1.0zM147.3,132.4h1.0v1.0h-1.0zM139.2,118.1h1.0v1.0h-1.0zM149.5,133.5h1.0v1.0h-1.0zM132.2,110.7h1.0v1.0h-1.0zM133.1,137.5h1.0v1.0h-1.0zM132.3,125.7h1.0v1.0h-1.0zM163.2,134.2h1.0v1.0h-1.0zM141.6,118.3h1.0v1.0h-1.0zM147.2,134.6h1.0v1.0h-1.0zM135.2,125.1h1.0v1.0h-1.0zM132.0,137.4h1.0v1.0h-1.0zM139.9,125.5h1.0v1.0h-1.0zM130.7,125.7h1.0v1.0h-1.0zM157.1,137.0h1.0v1.0h-1.0zM128.8,130.5h1.0v1.0h-1.0zM132.3,107.1h1.0v1.0h-1.0zM204.4,135.0h1.0v1.0h-1.0zM148.2,132.5h1.0v1.0h-1.0zM129.4,96.1h1.0v1.0h-1.0zM129.4,137.8h1.0v1.0h-1.0zM135.0,138.3h1.0v1.0h-1.0zM135.7,133.6h1.0v1.0h-1.0zM168.7,135.7h1.0v1.0h-1.0zM152.5,130.8h1.0v1.0h-1.0zM138.8,136.1h1.0v1.0h-1.0zM131.8,131.3h1.0v1.0h-1.0zM133.6,128.2h1.0v1.0h-1.0zM136.4,135.0h1.0v1.0h-1.0zM139.5,93.9h1.0v1.0h-1.0zM129.9,133.9h1.0v1.0h-1.0zM127.0,137.6h1.0v1.0h-1.0zM127.6,131.8h1.0v1.0h-1.0zM151.4,132.1h1.0v1.0h-1.0zM172.7,133.2h1.0v1.0h-1.0zM138.8,131.3h1.0v1.0h-1.0zM127.0,132.5h1.0v1.0h-1.0zM130.9,127.8h1.0v1.0h-1.0zM127.7,128.8h1.0v1.0h-1.0zM133.2,131.7h1.0v1.0h-1.0zM133.9,137.5h1.0v1.0h-1.0zM144.7,127.9h1.0v1.0h-1.0zM139.2,137.3h1.0v1.0h-1.0zM139.2,122.1h1.0v1.0h-1.0zM185.3,134.6h1.0v1.0h-1.0zM127.5,111.5h1.0v1.0h-1.0zM141.7,135.9h1.0v1.0h-1.0zM161.1,131.8h1.0v1.0h-1.0zM157.4,136.4h1.0v1.0h-1.0zM138.5,134.5h1.0v1.0h-1.0zM131.6,123.0h1.0v1.0h-1.0zM139.8,135.2h1.0v1.0h-1.0zM137.5,115.9h1.0v1.0h-1.0zM138.2,118.1h1.0v1.0h-1.0zM138.2,98.1h1.0v1.0h-1.0zM127.2,130.8h1.0v1.0h-1.0zM137.7,127.4h1.0v1.0h-1.0zM173.8,134.9h1.0v1.0h-1.0zM135.6,129.2h1.0v1.0h-1.0zM137.2,127.9h1.0v1.0h-1.0zM166.7,137.0h1.0v1.0h-1.0zM132.1,116.3h1.0v1.0h-1.0zM127.7,118.8h1.0v1.0h-1.0zM127.3,125.2h1.0v1.0h-1.0zM148.7,136.4h1.0v1.0h-1.0zM133.3,136.0h1.0v1.0h-1.0zM143.4,133.1h1.0v1.0h-1.0zM139.4,135.2h1.0v1.0h-1.0zM138.8,113.4h1.0v1.0h-1.0zM147.3,120.8h1.0v1.0h-1.0zM130.7,130.5h1.0v1.0h-1.0zM133.4,134.3h1.0v1.0h-1.0zM148.9,136.8h1.0v1.0h-1.0zM137.9,125.9h1.0v1.0h-1.0zM164.0,137.1h1.0v1.0h-1.0zM131.1,131.1h1.0v1.0h-1.0zM164.2,136.7h1.0v1.0h-1.0zM151.8,135.4h1.0v1.0h-1.0zM137.6,116.1h1.0v1.0h-1.0zM127.7,133.7h1.0v1.0h-1.0zM129.1,137.0h1.0v1.0h-1.0zM131.7,125.6h1.0v1.0h-1.0zM138.6,137.3h1.0v1.0h-1.0zM148.8,134.1h1.0v1.0h-1.0zM128.9,117.8h1.0v1.0h-1.0zM150.1,136.6h1.0v1.0h-1.0zM164.9,132.6h1.0v1.0h-1.0zM130.4,138.7h1.0v1.0h-1.0zM154.2,130.2h1.0v1.0h-1.0zM128.2,120.5h1.0v1.0h-1.0zM146.9,132.2h1.0v1.0h-1.0zM151.1,117.6h1.0v1.0h-1.0zM132.2,119.6h1.0v1.0h-1.0zM161.3,136.1h1.0v1.0h-1.0zM142.4,130.2h1.0v1.0h-1.0zM152.5,133.9h1.0v1.0h-1.0zM131.2,135.5h1.0v1.0h-1.0zM137.4,137.1h1.0v1.0h-1.0zM153.5,128.1h1.0v1.0h-1.0zM130.6,125.1h1.0v1.0h-1.0zM142.0,137.3h1.0v1.0h-1.0zM147.3,129.7h1.0v1.0h-1.0zM131.8,137.5h1.0v1.0h-1.0zM131.3,122.4h1.0v1.0h-1.0zM135.4,122.8h1.0v1.0h-1.0zM129.2,137.4h1.0v1.0h-1.0zM132.7,116.5h1.0v1.0h-1.0zM129.2,137.8h1.0v1.0h-1.0zM145.8,137.4h1.0v1.0h-1.0zM141.8,137.6h1.0v1.0h-1.0zM130.7,126.4h1.0v1.0h-1.0zM154.9,135.4h1.0v1.0h-1.0zM134.9,138.2h1.0v1.0h-1.0zM132.5,135.7h1.0v1.0h-1.0zM147.9,131.0h1.0v1.0h-1.0zM147.6,133.7h1.0v1.0h-1.0zM143.1,137.2h1.0v1.0h-1.0zM133.4,135.1h1.0v1.0h-1.0zM131.3,123.8h1.0v1.0h-1.0zM130.1,134.2h1.0v1.0h-1.0zM131.3,116.7h1.0v1.0h-1.0zM140.6,133.4h1.0v1.0h-1.0zM133.3,112.7h1.0v1.0h-1.0zM164.9,135.5h1.0v1.0h-1.0zM138.2,121.9h1.0v1.0h-1.0zM130.8,135.3h1.0v1.0h-1.0zM128.3,130.1h1.0v1.0h-1.0zM146.7,137.0h1.0v1.0h-1.0zM134.5,93.4h1.0v1.0h-1.0zM135.7,134.0h1.0v1.0h-1.0zM151.6,127.3h1.0v1.0h-1.0zM133.2,137.2h1.0v1.0h-1.0zM140.6,128.1h1.0v1.0h-1.0zM161.6,133.9h1.0v1.0h-1.0zM131.8,130.8h1.0v1.0h-1.0zM131.4,132.2h1.0v1.0h-1.0zM135.4,115.9h1.0v1.0h-1.0zM158.9,128.3h1.0v1.0h-1.0zM135.6,107.8h1.0v1.0h-1.0zM128.9,107.7h1.0v1.0h-1.0zM140.7,122.9h1.0v1.0h-1.0zM134.1,92.3h1.0v1.0h-1.0zM127.2,114.2h1.0v1.0h-1.0zM150.0,135.5h1.0v1.0h-1.0zM150.8,136.6h1.0v1.0h-1.0zM145.8,134.2h1.0v1.0h-1.0zM134.0,136.4h1.0v1.0h-1.0zM148.7,130.9h1.0v1.0h-1.0zM128.1,90.6h1.0v1.0h-1.0zM130.2,133.3h1.0v1.0h-1.0zM134.1,130.1h1.0v1.0h-1.0zM156.8,126.5h1.0v1.0h-1.0zM140.4,134.8h1.0v1.0h-1.0zM128.4,137.9h1.0v1.0h-1.0zM136.8,130.7h1.0v1.0h-1.0zM134.9,100.1h1.0v1.0h-1.0zM134.1,134.3h1.0v1.0h-1.0zM134.2,136.7h1.0v1.0h-1.0zM164.8,134.7h1.0v1.0h-1.0zM137.4,133.7h1.0v1.0h-1.0zM130.7,134.4h1.0v1.0h-1.0zM136.1,133.1h1.0v1.0h-1.0zM179.4,135.2h1.0v1.0h-1.0zM130.0,138.1h1.0v1.0h-1.0zM129.2,133.6h1.0v1.0h-1.0zM147.5,125.6h1.0v1.0h-1.0zM130.5,121.4h1.0v1.0h-1.0zM134.7,131.1h1.0v1.0h-1.0zM137.2,138.0h1.0v1.0h-1.0zM127.8,124.7h1.0v1.0h-1.0zM142.7,134.9h1.0v1.0h-1.0zM160.9,131.8h1.0v1.0h-1.0zM131.7,137.9h1.0v1.0h-1.0zM137.8,129.4h1.0v1.0h-1.0zM130.3,138.2h1.0v1.0h-1.0zM135.9,138.1h1.0v1.0h-1.0zM144.9,131.9h1.0v1.0h-1.0zM131.3,132.2h1.0v1.0h-1.0zM130.4,136.4h1.0v1.0h-1.0zM129.5,118.7h1.0v1.0h-1.0zM135.0,126.6h1.0v1.0h-1.0zM132.6,121.4h1.0v1.0h-1.0zM139.1,129.9h1.0v1.0h-1.0zM133.6,130.3h1.0v1.0h-1.0zM129.7,95.8h1.0v1.0h-1.0zM142.0,132.8h1.0v1.0h-1.0zM140.6,137.5h1.0v1.0h-1.0zM132.4,135.9h1.0v1.0h-1.0zM152.0,137.7h1.0v1.0h-1.0zM134.8,119.2h1.0v1.0h-1.0zM147.5,130.8h1.0v1.0h-1.0zM131.7,135.8h1.0v1.0h-1.0zM143.4,135.8h1.0v1.0h-1.0zM144.2,135.3h1.0v1.0h-1.0zM146.2,133.0h1.0v1.0h-1.0zM149.7,116.2h1.0v1.0h-1.0zM133.3,94.8h1.0v1.0h-1.0zM127.0,111.1h1.0v1.0h-1.0zM127.2,128.5h1.0v1.0h-1.0zM133.5,123.8h1.0v1.0h-1.0zM132.0,136.1h1.0v1.0h-1.0zM147.6,133.5h1.0v1.0h-1.0zM145.9,134.0h1.0v1.0h-1.0zM127.3,119.6h1.0v1.0h-1.0zM130.2,131.3h1.0v1.0h-1.0zM126.8,134.9h1.0v1.0h-1.0zM141.7,127.9h1.0v1.0h-1.0zM140.6,133.9h1.0v1.0h-1.0zM144.7,131.1h1.0v1.0h-1.0zM130.0,129.8h1.0v1.0h-1.0zM139.2,128.0h1.0v1.0h-1.0zM129.8,134.4h1.0v1.0h-1.0zM132.5,137.6h1.0v1.0h-1.0zM132.6,125.0h1.0v1.0h-1.0zM138.5,136.8h1.0v1.0h-1.0zM144.7,137.3h1.0v1.0h-1.0zM145.7,137.0h1.0v1.0h-1.0zM128.2,135.2h1.0v1.0h-1.0zM136.6,135.6h1.0v1.0h-1.0zM156.1,126.6h1.0v1.0h-1.0zM131.3,123.4h1.0v1.0h-1.0zM143.0,132.6h1.0v1.0h-1.0zM130.8,105.0h1.0v1.0h-1.0zM169.3,136.9h1.0v1.0h-1.0zM132.3,134.5h1.0v1.0h-1.0zM129.8,132.1h1.0v1.0h-1.0zM157.8,137.4h1.0v1.0h-1.0zM151.3,136.0h1.0v1.0h-1.0zM127.0,108.5h1.0v1.0h-1.0zM131.1,136.0h1.0v1.0h-1.0zM128.5,133.1h1.0v1.0h-1.0zM128.6,136.3h1.0v1.0h-1.0zM130.7,128.9h1.0v1.0h-1.0zM134.8,135.0h1.0v1.0h-1.0zM137.0,125.5h1.0v1.0h-1.0zM144.3,135.4h1.0v1.0h-1.0zM160.7,132.3h1.0v1.0h-1.0zM138.0,133.0h1.0v1.0h-1.0zM132.3,137.1h1.0v1.0h-1.0zM156.2,133.9h1.0v1.0h-1.0zM128.2,106.2h1.0v1.0h-1.0zM156.4,137.4h1.0v1.0h-1.0zM143.2,136.3h1.0v1.0h-1.0zM137.2,122.9h1.0v1.0h-1.0zM132.7,131.4h1.0v1.0h-1.0zM141.7,136.7h1.0v1.0h-1.0zM140.2,134.0h1.0v1.0h-1.0zM181.7,136.1h1.0v1.0h-1.0zM143.7,137.8h1.0v1.0h-1.0zM131.2,137.3h1.0v1.0h-1.0zM129.0,129.7h1.0v1.0h-1.0zM129.4,119.8h1.0v1.0h-1.0zM128.2,126.6h1.0v1.0h-1.0zM153.6,137.1h1.0v1.0h-1.0zM130.2,122.0h1.0v1.0h-1.0zM135.4,113.5h1.0v1.0h-1.0zM132.4,133.3h1.0v1.0h-1.0zM169.7,136.0h1.0v1.0h-1.0zM172.8,132.5h1.0v1.0h-1.0zM129.9,129.5h1.0v1.0h-1.0zM165.3,136.8h1.0v1.0h-1.0zM152.4,130.9h1.0v1.0h-1.0zM145.6,132.4h1.0v1.0h-1.0zM128.3,98.9h1.0v1.0h-1.0zM128.3,119.6h1.0v1.0h-1.0zM144.3,135.6h1.0v1.0h-1.0zM142.5,134.5h1.0v1.0h-1.0zM145.7,137.7h1.0v1.0h-1.0zM163.6,135.8h1.0v1.0h-1.0zM148.9,134.5h1.0v1.0h-1.0zM149.5,136.0h1.0v1.0h-1.0zM137.5,138.2h1.0v1.0h-1.0zM135.9,137.7h1.0v1.0h-1.0zM153.4,132.7h1.0v1.0h-1.0zM134.3,102.9h1.0v1.0h-1.0zM166.6,129.1h1.0v1.0h-1.0zM128.0,123.4h1.0v1.0h-1.0zM144.5,132.1h1.0v1.0h-1.0zM127.0,104.9h1.0v1.0h-1.0zM134.7,129.8h1.0v1.0h-1.0zM149.7,136.2h1.0v1.0h-1.0zM127.2,105.2h1.0v1.0h-1.0zM131.1,138.2h1.0v1.0h-1.0zM128.8,74.3h1.0v1.0h-1.0zM145.1,136.6h1.0v1.0h-1.0zM129.0,111.0h1.0v1.0h-1.0zM141.7,131.9h1.0v1.0h-1.0zM128.7,132.2h1.0v1.0h-1.0zM166.5,137.0h1.0v1.0h-1.0zM134.2,138.0h1.0v1.0h-1.0zM209.5,135.0h1.0v1.0h-1.0zM168.5,132.7h1.0v1.0h-1.0zM144.7,137.8h1.0v1.0h-1.0zM143.0,133.5h1.0v1.0h-1.0zM136.0,137.0h1.0v1.0h-1.0zM136.6,124.1h1.0v1.0h-1.0zM128.7,113.1h1.0v1.0h-1.0zM134.2,135.5h1.0v1.0h-1.0zM130.5,131.7h1.0v1.0h-1.0zM141.0,132.0h1.0v1.0h-1.0zM156.8,134.8h1.0v1.0h-1.0zM136.6,98.6h1.0v1.0h-1.0zM130.1,138.5h1.0v1.0h-1.0zM132.2,134.6h1.0v1.0h-1.0zM128.6,132.1h1.0v1.0h-1.0zM127.3,105.8h1.0v1.0h-1.0zM135.8,119.2h1.0v1.0h-1.0zM143.0,129.3h1.0v1.0h-1.0zM146.1,135.9h1.0v1.0h-1.0zM144.5,136.6h1.0v1.0h-1.0zM137.8,130.8h1.0v1.0h-1.0zM147.1,136.9h1.0v1.0h-1.0zM132.5,120.4h1.0v1.0h-1.0zM149.0,117.8h1.0v1.0h-1.0zM128.5,135.9h1.0v1.0h-1.0zM128.4,122.7h1.0v1.0h-1.0zM145.4,131.6h1.0v1.0h-1.0zM147.3,133.8h1.0v1.0h-1.0zM138.0,117.2h1.0v1.0h-1.0zM141.0,130.4h1.0v1.0h-1.0zM138.9,132.9h1.0v1.0h-1.0zM146.0,132.9h1.0v1.0h-1.0zM128.7,132.0h1.0v1.0h-1.0zM134.2,133.0h1.0v1.0h-1.0zM138.0,134.6h1.0v1.0h-1.0zM133.6,133.0h1.0v1.0h-1.0zM133.1,102.1h1.0v1.0h-1.0zM128.1,138.6h1.0v1.0h-1.0zM144.2,134.8h1.0v1.0h-1.0zM134.9,130.0h1.0v1.0h-1.0zM133.0,135.8h1.0v1.0h-1.0zM127.0,111.6h1.0v1.0h-1.0zM164.8,136.2h1.0v1.0h-1.0zM135.3,134.8h1.0v1.0h-1.0zM127.6,110.1h1.0v1.0h-1.0zM151.4,136.4h1.0v1.0h-1.0zM130.8,125.2h1.0v1.0h-1.0zM148.4,134.5h1.0v1.0h-1.0zM133.5,135.9h1.0v1.0h-1.0zM148.5,127.2h1.0v1.0h-1.0zM153.3,137.1h1.0v1.0h-1.0zM139.0,104.7h1.0v1.0h-1.0zM143.9,134.1h1.0v1.0h-1.0zM129.0,138.0h1.0v1.0h-1.0zM144.7,137.6h1.0v1.0h-1.0zM149.3,132.1h1.0v1.0h-1.0zM135.5,117.9h1.0v1.0h-1.0zM163.4,134.4h1.0v1.0h-1.0zM128.3,127.7h1.0v1.0h-1.0zM134.2,135.7h1.0v1.0h-1.0zM162.6,133.3h1.0v1.0h-1.0zM128.6,135.6h1.0v1.0h-1.0zM132.5,129.7h1.0v1.0h-1.0zM132.2,132.5h1.0v1.0h-1.0zM149.6,136.8h1.0v1.0h-1.0zM144.1,135.5h1.0v1.0h-1.0zM166.1,129.3h1.0v1.0h-1.0zM132.2,128.7h1.0v1.0h-1.0zM128.4,132.2h1.0v1.0h-1.0zM140.1,130.5h1.0v1.0h-1.0zM132.5,138.3h1.0v1.0h-1.0zM128.6,128.6h1.0v1.0h-1.0zM129.4,134.4h1.0v1.0h-1.0zM139.9,120.5h1.0v1.0h-1.0zM136.7,135.8h1.0v1.0h-1.0zM138.8,135.7h1.0v1.0h-1.0zM147.5,137.0h1.0v1.0h-1.0zM131.0,132.2h1.0v1.0h-1.0zM159.2,136.8h1.0v1.0h-1.0zM129.7,137.1h1.0v1.0h-1.0zM130.1,134.0h1.0v1.0h-1.0zM133.6,124.3h1.0v1.0h-1.0zM133.8,132.2h1.0v1.0h-1.0zM133.7,123.7h1.0v1.0h-1.0zM158.5,135.5h1.0v1.0h-1.0zM161.3,136.4h1.0v1.0h-1.0zM178.5,135.4h1.0v1.0h-1.0zM142.4,134.8h1.0v1.0h-1.0zM131.1,137.1h1.0v1.0h-1.0zM156.2,135.8h1.0v1.0h-1.0zM143.1,134.0h1.0v1.0h-1.0zM137.0,136.4h1.0v1.0h-1.0zM129.5,133.9h1.0v1.0h-1.0zM142.3,132.7h1.0v1.0h-1.0zM126.9,122.4h1.0v1.0h-1.0zM134.5,137.8h1.0v1.0h-1.0zM130.9,136.0h1.0v1.0h-1.0zM150.3,133.8h1.0v1.0h-1.0zM132.2,135.6h1.0v1.0h-1.0zM131.5,135.1h1.0v1.0h-1.0zM132.6,122.3h1.0v1.0h-1.0zM147.9,131.3h1.0v1.0h-1.0zM156.2,133.4h1.0v1.0h-1.0zM128.5,138.2h1.0v1.0h-1.0zM129.3,135.2h1.0v1.0h-1.0zM137.0,123.4h1.0v1.0h-1.0zM138.8,133.8h1.0v1.0h-1.0zM130.6,93.2h1.0v1.0h-1.0zM145.8,135.5h1.0v1.0h-1.0zM127.5,86.8h1.0v1.0h-1.0zM130.8,117.5h1.0v1.0h-1.0zM128.5,125.7h1.0v1.0h-1.0zM132.8,115.8h1.0v1.0h-1.0zM131.6,137.5h1.0v1.0h-1.0zM129.8,119.5h1.0v1.0h-1.0zM179.0,134.9h1.0v1.0h-1.0zM142.4,135.9h1.0v1.0h-1.0zM131.1,137.7h1.0v1.0h-1.0zM183.6,136.2h1.0v1.0h-1.0zM139.7,134.9h1.0v1.0h-1.0zM129.6,132.0h1.0v1.0h-1.0zM163.0,136.4h1.0v1.0h-1.0zM129.3,126.8h1.0v1.0h-1.0zM141.3,133.0h1.0v1.0h-1.0zM129.5,114.1h1.0v1.0h-1.0zM128.4,136.4h1.0v1.0h-1.0zM130.6,130.5h1.0v1.0h-1.0zM135.6,131.0h1.0v1.0h-1.0zM144.4,123.8h1.0v1.0h-1.0zM135.4,138.1h1.0v1.0h-1.0zM150.9,137.7h1.0v1.0h-1.0zM132.0,137.0h1.0v1.0h-1.0zM139.3,126.3h1.0v1.0h-1.0zM128.7,134.5h1.0v1.0h-1.0zM152.7,132.4h1.0v1.0h-1.0zM128.4,124.3h1.0v1.0h-1.0zM148.3,135.0h1.0v1.0h-1.0zM129.1,125.8h1.0v1.0h-1.0zM132.0,137.1h1.0v1.0h-1.0zM129.3,132.6h1.0v1.0h-1.0zM128.7,132.8h1.0v1.0h-1.0zM137.7,131.6h1.0v1.0h-1.0zM133.8,122.6h1.0v1.0h-1.0zM128.1,133.8h1.0v1.0h-1.0zM163.6,131.5h1.0v1.0h-1.0zM161.2,132.7h1.0v1.0h-1.0zM137.2,125.1h1.0v1.0h-1.0zM138.4,137.3h1.0v1.0h-1.0zM130.8,137.5h1.0v1.0h-1.0zM155.0,136.0h1.0v1.0h-1.0zM133.9,130.9h1.0v1.0h-1.0zM128.3,123.5h1.0v1.0h-1.0zM148.4,129.3h1.0v1.0h-1.0zM155.7,136.0h1.0v1.0h-1.0zM129.0,121.3h1.0v1.0h-1.0zM142.9,135.0h1.0v1.0h-1.0zM132.5,136.9h1.0v1.0h-1.0zM151.0,134.8h1.0v1.0h-1.0zM149.5,135.7h1.0v1.0h-1.0zM132.1,130.9h1.0v1.0h-1.0zM145.4,124.9h1.0v1.0h-1.0zM132.7,126.3h1.0v1.0h-1.0zM133.8,118.9h1.0v1.0h-1.0zM146.2,133.2h1.0v1.0h-1.0zM132.9,135.3h1.0v1.0h-1.0zM156.2,131.2h1.0v1.0h-1.0zM131.8,137.7h1.0v1.0h-1.0zM129.8,99.5h1.0v1.0h-1.0zM127.4,117.2h1.0v1.0h-1.0zM137.0,131.4h1.0v1.0h-1.0zM137.3,133.9h1.0v1.0h-1.0zM137.9,137.6h1.0v1.0h-1.0zM161.1,137.0h1.0v1.0h-1.0zM128.9,125.1h1.0v1.0h-1.0zM140.7,126.0h1.0v1.0h-1.0zM142.8,120.0h1.0v1.0h-1.0zM127.6,138.7h1.0v1.0h-1.0zM130.5,121.5h1.0v1.0h-1.0zM129.1,129.6h1.0v1.0h-1.0zM146.8,137.0h1.0v1.0h-1.0zM137.0,118.3h1.0v1.0h-1.0zM145.5,134.9h1.0v1.0h-1.0zM135.7,135.5h1.0v1.0h-1.0zM170.7,133.6h1.0v1.0h-1.0zM142.3,135.6h1.0v1.0h-1.0zM144.7,133.9h1.0v1.0h-1.0zM148.5,135.5h1.0v1.0h-1.0zM155.8,133.0h1.0v1.0h-1.0zM135.0,130.7h1.0v1.0h-1.0zM149.0,133.9h1.0v1.0h-1.0zM170.6,136.8h1.0v1.0h-1.0zM157.7,132.9h1.0v1.0h-1.0zM135.9,121.2h1.0v1.0h-1.0zM129.0,133.8h1.0v1.0h-1.0zM143.8,126.8h1.0v1.0h-1.0zM133.2,86.1h1.0v1.0h-1.0zM141.0,137.9h1.0v1.0h-1.0zM128.6,137.8h1.0v1.0h-1.0zM138.3,135.1h1.0v1.0h-1.0zM130.9,132.0h1.0v1.0h-1.0zM127.9,108.4h1.0v1.0h-1.0zM151.5,133.9h1.0v1.0h-1.0zM134.8,135.0h1.0v1.0h-1.0zM139.4,134.9h1.0v1.0h-1.0zM177.1,131.5h1.0v1.0h-1.0zM144.4,126.9h1.0v1.0h-1.0zM127.9,137.1h1.0v1.0h-1.0zM132.6,137.2h1.0v1.0h-1.0zM134.3,96.9h1.0v1.0h-1.0zM151.2,122.5h1.0v1.0h-1.0zM130.2,135.8h1.0v1.0h-1.0zM127.2,134.7h1.0v1.0h-1.0zM127.6,129.2h1.0v1.0h-1.0zM131.7,126.5h1.0v1.0h-1.0zM138.0,130.8h1.0v1.0h-1.0zM131.7,124.2h1.0v1.0h-1.0zM142.7,129.6h1.0v1.0h-1.0zM135.5,132.7h1.0v1.0h-1.0zM131.4,138.2h1.0v1.0h-1.0zM135.3,129.6h1.0v1.0h-1.0zM129.6,115.5h1.0v1.0h-1.0zM155.5,129.9h1.0v1.0h-1.0zM149.8,134.4h1.0v1.0h-1.0zM129.5,135.0h1.0v1.0h-1.0zM145.0,112.1h1.0v1.0h-1.0zM128.4,138.7h1.0v1.0h-1.0zM132.7,134.1h1.0v1.0h-1.0zM139.2,137.4h1.0v1.0h-1.0zM152.0,135.8h1.0v1.0h-1.0zM159.3,136.0h1.0v1.0h-1.0zM131.8,136.6h1.0v1.0h-1.0zM172.6,135.0h1.0v1.0h-1.0zM150.5,137.5h1.0v1.0h-1.0zM137.4,127.1h1.0v1.0h-1.0zM182.8,132.8h1.0v1.0h-1.0zM128.3,133.0h1.0v1.0h-1.0zM137.2,111.3h1.0v1.0h-1.0zM130.8,138.4h1.0v1.0h-1.0zM166.5,136.3h1.0v1.0h-1.0zM138.0,134.6h1.0v1.0h-1.0zM138.5,116.2h1.0v1.0h-1.0zM166.6,131.8h1.0v1.0h-1.0zM130.9,119.3h1.0v1.0h-1.0zM127.1,131.8h1.0v1.0h-1.0zM166.0,136.3h1.0v1.0h-1.0zM133.0,129.6h1.0v1.0h-1.0zM130.5,124.6h1.0v1.0h-1.0zM141.2,137.5h1.0v1.0h-1.0zM161.1,137.1h1.0v1.0h-1.0zM143.0,135.2h1.0v1.0h-1.0zM128.9,137.8h1.0v1.0h-1.0zM209.5,134.4h1.0v1.0h-1.0zM135.2,123.6h1.0v1.0h-1.0zM174.3,131.9h1.0v1.0h-1.0zM137.1,135.6h1.0v1.0h-1.0zM136.7,103.4h1.0v1.0h-1.0zM144.6,131.1h1.0v1.0h-1.0zM151.9,135.3h1.0v1.0h-1.0zM137.9,122.6h1.0v1.0h-1.0zM129.8,115.8h1.0v1.0h-1.0zM127.2,128.8h1.0v1.0h-1.0zM138.4,137.0h1.0v1.0h-1.0zM161.4,135.5h1.0v1.0h-1.0zM129.6,132.5h1.0v1.0h-1.0zM139.0,133.8h1.0v1.0h-1.0zM126.9,137.6h1.0v1.0h-1.0zM143.8,137.2h1.0v1.0h-1.0zM130.8,120.1h1.0v1.0h-1.0zM153.7,128.4h1.0v1.0h-1.0zM129.4,138.7h1.0v1.0h-1.0zM145.9,132.5h1.0v1.0h-1.0zM133.0,138.4h1.0v1.0h-1.0zM134.5,135.9h1.0v1.0h-1.0zM138.9,106.6h1.0v1.0h-1.0zM130.0,137.8h1.0v1.0h-1.0zM142.9,137.4h1.0v1.0h-1.0zM130.3,132.0h1.0v1.0h-1.0zM184.8,135.8h1.0v1.0h-1.0zM132.0,131.7h1.0v1.0h-1.0zM129.2,132.6h1.0v1.0h-1.0zM143.2,135.5h1.0v1.0h-1.0zM148.4,136.8h1.0v1.0h-1.0zM128.3,126.5h1.0v1.0h-1.0zM135.0,114.8h1.0v1.0h-1.0zM128.3,121.7h1.0v1.0h-1.0zM141.9,134.9h1.0v1.0h-1.0zM128.7,127.1h1.0v1.0h-1.0zM146.1,134.2h1.0v1.0h-1.0zM135.5,127.8h1.0v1.0h-1.0zM139.6,134.0h1.0v1.0h-1.0zM129.6,131.4h1.0v1.0h-1.0zM137.7,119.2h1.0v1.0h-1.0zM198.2,135.0h1.0v1.0h-1.0zM132.2,136.0h1.0v1.0h-1.0zM140.3,128.1h1.0v1.0h-1.0zM130.7,125.4h1.0v1.0h-1.0zM133.6,110.5h1.0v1.0h-1.0zM134.6,128.4h1.0v1.0h-1.0zM154.1,136.7h1.0v1.0h-1.0zM132.6,95.3h1.0v1.0h-1.0zM127.7,134.2h1.0v1.0h-1.0zM135.6,125.9h1.0v1.0h-1.0zM140.3,118.2h1.0v1.0h-1.0zM141.9,138.2h1.0v1.0h-1.0zM127.8,138.4h1.0v1.0h-1.0zM134.5,138.3h1.0v1.0h-1.0zM137.0,129.7h1.0v1.0h-1.0zM129.9,116.0h1.0v1.0h-1.0zM134.1,106.9h1.0v1.0h-1.0zM132.8,128.6h1.0v1.0h-1.0zM137.4,135.8h1.0v1.0h-1.0zM147.4,137.9h1.0v1.0h-1.0zM130.7,134.3h1.0v1.0h-1.0zM155.8,134.8h1.0v1.0h-1.0zM127.3,134.2h1.0v1.0h-1.0zM139.6,125.4h1.0v1.0h-1.0zM128.4,120.0h1.0v1.0h-1.0zM133.5,131.1h1.0v1.0h-1.0zM134.2,132.9h1.0v1.0h-1.0zM190.0,133.6h1.0v1.0h-1.0zM160.7,133.0h1.0v1.0h-1.0zM143.2,137.1h1.0v1.0h-1.0zM127.3,115.7h1.0v1.0h-1.0zM142.0,131.2h1.0v1.0h-1.0zM131.9,135.3h1.0v1.0h-1.0zM161.2,134.9h1.0v1.0h-1.0zM127.1,133.4h1.0v1.0h-1.0zM132.6,137.9h1.0v1.0h-1.0zM178.6,132.9h1.0v1.0h-1.0zM149.7,137.8h1.0v1.0h-1.0zM134.2,137.4h1.0v1.0h-1.0zM144.4,127.5h1.0v1.0h-1.0zM148.0,129.3h1.0v1.0h-1.0zM128.6,138.6h1.0v1.0h-1.0zM128.2,115.5h1.0v1.0h-1.0zM150.8,134.2h1.0v1.0h-1.0zM130.5,116.5h1.0v1.0h-1.0zM128.6,133.9h1.0v1.0h-1.0zM126.9,84.8h1.0v1.0h-1.0zM134.1,124.1h1.0v1.0h-1.0zM148.8,133.2h1.0v1.0h-1.0zM185.7,134.5h1.0v1.0h-1.0zM162.3,127.3h1.0v1.0h-1.0zM128.0,121.2h1.0v1.0h-1.0zM130.3,134.2h1.0v1.0h-1.0zM132.5,91.7h1.0v1.0h-1.0zM127.7,131.5h1.0v1.0h-1.0zM128.7,65.3h1.0v1.0h-1.0zM136.1,127.5h1.0v1.0h-1.0zM136.8,125.6h1.0v1.0h-1.0zM132.4,133.0h1.0v1.0h-1.0zM145.3,130.6h1.0v1.0h-1.0zM156.5,136.1h1.0v1.0h-1.0zM152.4,131.6h1.0v1.0h-1.0zM138.4,134.0h1.0v1.0h-1.0zM138.2,137.7h1.0v1.0h-1.0zM128.2,134.1h1.0v1.0h-1.0zM128.6,138.2h1.0v1.0h-1.0zM143.9,129.5h1.0v1.0h-1.0zM139.8,136.5h1.0v1.0h-1.0zM144.2,126.8h1.0v1.0h-1.0zM139.9,136.3h1.0v1.0h-1.0zM138.1,134.2h1.0v1.0h-1.0zM131.1,136.9h1.0v1.0h-1.0zM154.0,133.4h1.0v1.0h-1.0zM163.4,136.7h1.0v1.0h-1.0zM131.0,130.7h1.0v1.0h-1.0zM127.7,134.2h1.0v1.0h-1.0zM137.4,132.8h1.0v1.0h-1.0zM159.4,134.5h1.0v1.0h-1.0zM140.6,131.7h1.0v1.0h-1.0zM147.7,135.4h1.0v1.0h-1.0zM126.8,86.5h1.0v1.0h-1.0zM148.2,137.2h1.0v1.0h-1.0zM128.4,135.7h1.0v1.0h-1.0zM141.4,137.2h1.0v1.0h-1.0zM127.1,129.9h1.0v1.0h-1.0zM126.9,134.9h1.0v1.0h-1.0zM133.4,136.3h1.0v1.0h-1.0zM126.9,134.9h1.0v1.0h-1.0zM130.6,134.3h1.0v1.0h-1.0zM134.1,134.2h1.0v1.0h-1.0zM132.1,138.4h1.0v1.0h-1.0zM151.5,131.4h1.0v1.0h-1.0zM136.0,138.4h1.0v1.0h-1.0zM130.4,112.3h1.0v1.0h-1.0zM135.1,136.3h1.0v1.0h-1.0zM150.1,126.6h1.0v1.0h-1.0zM128.6,130.2h1.0v1.0h-1.0zM138.0,137.3h1.0v1.0h-1.0zM132.0,128.3h1.0v1.0h-1.0zM142.0,131.2h1.0v1.0h-1.0zM140.0,134.6h1.0v1.0h-1.0zM127.8,138.6h1.0v1.0h-1.0zM151.5,128.3h1.0v1.0h-1.0zM158.8,137.1h1.0v1.0h-1.0zM146.7,136.9h1.0v1.0h-1.0zM132.6,136.3h1.0v1.0h-1.0zM153.5,130.2h1.0v1.0h-1.0zM151.1,135.4h1.0v1.0h-1.0zM164.1,136.3h1.0v1.0h-1.0zM138.4,129.2h1.0v1.0h-1.0zM130.4,133.2h1.0v1.0h-1.0zM128.3,118.8h1.0v1.0h-1.0zM129.6,137.0h1.0v1.0h-1.0zM131.2,127.4h1.0v1.0h-1.0zM140.6,132.7h1.0v1.0h-1.0zM152.9,131.4h1.0v1.0h-1.0zM130.0,129.8h1.0v1.0h-1.0zM129.3,135.4h1.0v1.0h-1.0zM129.0,137.8h1.0v1.0h-1.0zM132.7,115.9h1.0v1.0h-1.0zM141.3,137.5h1.0v1.0h-1.0zM130.2,128.4h1.0v1.0h-1.0zM137.1,138.2h1.0v1.0h-1.0zM128.2,128.3h1.0v1.0h-1.0zM139.3,137.6h1.0v1.0h-1.0zM146.9,136.4h1.0v1.0h-1.0zM138.9,132.3h1.0v1.0h-1.0zM132.5,107.9h1.0v1.0h-1.0zM133.7,133.1h1.0v1.0h-1.0zM137.4,122.7h1.0v1.0h-1.0zM186.4,134.5h1.0v1.0h-1.0zM137.3,127.6h1.0v1.0h-1.0zM140.6,114.3h1.0v1.0h-1.0zM174.7,134.1h1.0v1.0h-1.0zM130.1,129.0h1.0v1.0h-1.0zM134.7,136.0h1.0v1.0h-1.0zM147.5,136.5h1.0v1.0h-1.0zM143.6,133.7h1.0v1.0h-1.0zM134.4,126.6h1.0v1.0h-1.0zM144.3,108.8h1.0v1.0h-1.0zM148.7,136.2h1.0v1.0h-1.0zM141.8,133.3h1.0v1.0h-1.0zM165.1,135.5h1.0v1.0h-1.0zM132.8,138.3h1.0v1.0h-1.0zM135.4,131.4h1.0v1.0h-1.0zM131.8,137.4h1.0v1.0h-1.0zM135.8,137.8h1.0v1.0h-1.0zM129.4,131.7h1.0v1.0h-1.0zM132.6,131.4h1.0v1.0h-1.0zM137.1,134.1h1.0v1.0h-1.0zM128.8,138.6h1.0v1.0h-1.0zM137.9,109.0h1.0v1.0h-1.0zM131.3,133.9h1.0v1.0h-1.0zM132.0,124.1h1.0v1.0h-1.0zM136.0,124.1h1.0v1.0h-1.0zM126.9,137.0h1.0v1.0h-1.0zM130.0,133.4h1.0v1.0h-1.0zM133.7,133.7h1.0v1.0h-1.0zM172.6,135.6h1.0v1.0h-1.0zM138.5,111.3h1.0v1.0h-1.0zM140.8,131.5h1.0v1.0h-1.0zM150.7,135.8h1.0v1.0h-1.0zM127.3,97.6h1.0v1.0h-1.0zM137.2,130.9h1.0v1.0h-1.0zM127.8,121.3h1.0v1.0h-1.0zM133.2,128.1h1.0v1.0h-1.0zM131.4,111.1h1.0v1.0h-1.0zM133.1,135.3h1.0v1.0h-1.0zM157.3,136.5h1.0v1.0h-1.0zM131.1,131.3h1.0v1.0h-1.0zM180.5,136.2h1.0v1.0h-1.0zM130.0,120.2h1.0v1.0h-1.0zM127.9,132.0h1.0v1.0h-1.0zM147.6,131.0h1.0v1.0h-1.0zM148.2,137.2h1.0v1.0h-1.0zM156.8,135.8h1.0v1.0h-1.0zM149.7,134.6h1.0v1.0h-1.0zM156.9,135.0h1.0v1.0h-1.0zM130.9,136.9h1.0v1.0h-1.0zM136.1,138.0h1.0v1.0h-1.0zM129.3,113.8h1.0v1.0h-1.0zM138.4,122.0h1.0v1.0h-1.0zM129.0,130.8h1.0v1.0h-1.0zM135.4,137.4h1.0v1.0h-1.0zM131.0,110.2h1.0v1.0h-1.0zM144.3,133.5h1.0v1.0h-1.0zM139.6,122.9h1.0v1.0h-1.0zM168.5,134.9h1.0v1.0h-1.0zM127.5,112.3h1.0v1.0h-1.0zM129.3,135.5h1.0v1.0h-1.0zM128.8,130.0h1.0v1.0h-1.0zM138.7,133.3h1.0v1.0h-1.0zM135.4,137.1h1.0v1.0h-1.0zM144.0,133.1h1.0v1.0h-1.0zM131.8,119.3h1.0v1.0h-1.0zM164.8,130.2h1.0v1.0h-1.0zM183.7,136.2h1.0v1.0h-1.0zM133.5,132.6h1.0v1.0h-1.0zM130.9,123.4h1.0v1.0h-1.0zM158.8,136.9h1.0v1.0h-1.0zM136.4,107.9h1.0v1.0h-1.0zM156.6,135.2h1.0v1.0h-1.0zM128.3,131.2h1.0v1.0h-1.0zM136.7,124.9h1.0v1.0h-1.0zM129.6,134.9h1.0v1.0h-1.0zM183.5,136.3h1.0v1.0h-1.0zM139.6,137.5h1.0v1.0h-1.0zM145.7,134.7h1.0v1.0h-1.0zM162.0,136.5h1.0v1.0h-1.0zM155.3,136.5h1.0v1.0h-1.0zM127.5,137.7h1.0v1.0h-1.0zM127.9,132.6h1.0v1.0h-1.0zM175.3,135.9h1.0v1.0h-1.0zM143.9,137.9h1.0v1.0h-1.0zM136.7,131.6h1.0v1.0h-1.0zM128.2,127.9h1.0v1.0h-1.0zM134.8,134.7h1.0v1.0h-1.0zM150.9,132.1h1.0v1.0h-1.0zM128.6,137.4h1.0v1.0h-1.0zM127.6,134.9h1.0v1.0h-1.0zM140.6,112.4h1.0v1.0h-1.0zM173.8,133.0h1.0v1.0h-1.0zM128.6,119.4h1.0v1.0h-1.0zM146.3,134.2h1.0v1.0h-1.0zM200.7,134.9h1.0v1.0h-1.0zM128.5,135.8h1.0v1.0h-1.0zM128.7,127.2h1.0v1.0h-1.0zM140.1,123.4h1.0v1.0h-1.0zM127.0,138.7h1.0v1.0h-1.0zM175.7,136.1h1.0v1.0h-1.0zM131.0,116.1h1.0v1.0h-1.0zM128.4,119.2h1.0v1.0h-1.0zM157.6,134.4h1.0v1.0h-1.0zM139.5,138.2h1.0v1.0h-1.0zM139.5,130.8h1.0v1.0h-1.0zM146.8,133.8h1.0v1.0h-1.0zM128.5,135.7h1.0v1.0h-1.0zM141.2,137.6h1.0v1.0h-1.0zM128.4,135.2h1.0v1.0h-1.0zM148.4,133.6h1.0v1.0h-1.0zM132.8,104.2h1.0v1.0h-1.0zM138.6,136.1h1.0v1.0h-1.0zM138.1,122.3h1.0v1.0h-1.0zM133.1,132.7h1.0v1.0h-1.0zM138.5,102.8h1.0v1.0h-1.0zM140.6,136.8h1.0v1.0h-1.0zM138.7,135.2h1.0v1.0h-1.0zM135.5,126.9h1.0v1.0h-1.0zM127.1,129.5h1.0v1.0h-1.0zM131.9,128.8h1.0v1.0h-1.0zM150.1,134.6h1.0v1.0h-1.0zM140.3,135.7h1.0v1.0h-1.0zM130.8,130.7h1.0v1.0h-1.0zM137.1,136.2h1.0v1.0h-1.0zM146.5,133.9h1.0v1.0h-1.0zM132.8,135.6h1.0v1.0h-1.0zM151.4,126.7h1.0v1.0h-1.0zM164.6,136.4h1.0v1.0h-1.0zM127.8,126.1h1.0v1.0h-1.0zM127.2,113.4h1.0v1.0h-1.0zM142.2,135.3h1.0v1.0h-1.0zM134.7,127.5h1.0v1.0h-1.0zM129.2,133.3h1.0v1.0h-1.0zM147.8,131.6h1.0v1.0h-1.0zM138.8,137.4h1.0v1.0h-1.0zM130.1,135.3h1.0v1.0h-1.0zM127.3,125.5h1.0v1.0h-1.0zM138.4,117.2h1.0v1.0h-1.0zM137.8,117.3h1.0v1.0h-1.0zM135.4,131.7h1.0v1.0h-1.0zM131.3,131.8h1.0v1.0h-1.0zM164.3,135.3h1.0v1.0h-1.0zM126.9,133.1h1.0v1.0h-1.0zM129.8,127.3h1.0v1.0h-1.0zM136.5,132.7h1.0v1.0h-1.0zM162.3,132.9h1.0v1.0h-1.0zM128.1,138.4h1.0v1.0h-1.0zM143.2,132.0h1.0v1.0h-1.0zM141.2,133.1h1.0v1.0h-1.0zM127.3,131.0h1.0v1.0h-1.0zM151.3,133.4h1.0v1.0h-1.0zM127.4,137.1h1.0v1.0h-1.0zM158.7,134.7h1.0v1.0h-1.0zM129.3,124.0h1.0v1.0h-1.0zM161.9,131.1h1.0v1.0h-1.0zM140.9,126.1h1.0v1.0h-1.0zM128.1,131.0h1.0v1.0h-1.0zM149.4,135.7h1.0v1.0h-1.0zM128.9,114.3h1.0v1.0h-1.0zM143.4,138.1h1.0v1.0h-1.0zM127.7,128.4h1.0v1.0h-1.0zM168.6,134.7h1.0v1.0h-1.0zM155.2,137.1h1.0v1.0h-1.0zM138.5,136.7h1.0v1.0h-1.0zM132.3,136.9h1.0v1.0h-1.0zM135.3,138.0h1.0v1.0h-1.0zM141.3,130.7h1.0v1.0h-1.0zM158.7,132.3h1.0v1.0h-1.0zM127.9,113.0h1.0v1.0h-1.0zM137.4,114.9h1.0v1.0h-1.0zM136.0,137.7h1.0v1.0h-1.0zM143.3,136.9h1.0v1.0h-1.0zM183.0,135.3h1.0v1.0h-1.0zM158.4,135.0h1.0v1.0h-1.0zM132.2,127.1h1.0v1.0h-1.0zM143.6,134.0h1.0v1.0h-1.0zM131.2,132.6h1.0v1.0h-1.0zM143.8,136.4h1.0v1.0h-1.0zM129.2,130.8h1.0v1.0h-1.0zM141.4,137.7h1.0v1.0h-1.0zM131.1,99.1h1.0v1.0h-1.0zM131.0,122.2h1.0v1.0h-1.0zM131.8,137.7h1.0v1.0h-1.0zM135.9,119.9h1.0v1.0h-1.0zM147.2,137.7h1.0v1.0h-1.0zM143.3,131.6h1.0v1.0h-1.0zM135.8,128.5h1.0v1.0h-1.0zM136.8,136.6h1.0v1.0h-1.0zM143.0,137.2h1.0v1.0h-1.0zM131.9,118.1h1.0v1.0h-1.0zM138.2,132.4h1.0v1.0h-1.0zM143.6,133.6h1.0v1.0h-1.0zM133.4,130.5h1.0v1.0h-1.0zM127.1,133.2h1.0v1.0h-1.0zM127.4,67.8h1.0v1.0h-1.0zM159.2,133.7h1.0v1.0h-1.0zM129.2,115.4h1.0v1.0h-1.0zM131.3,120.7h1.0v1.0h-1.0zM141.1,131.4h1.0v1.0h-1.0zM145.2,136.1h1.0v1.0h-1.0zM151.2,134.0h1.0v1.0h-1.0zM146.0,127.1h1.0v1.0h-1.0zM130.8,132.7h1.0v1.0h-1.0zM132.9,137.8h1.0v1.0h-1.0zM155.1,132.9h1.0v1.0h-1.0zM136.0,131.3h1.0v1.0h-1.0zM155.6,137.3h1.0v1.0h-1.0zM132.8,126.6h1.0v1.0h-1.0zM137.2,132.5h1.0v1.0h-1.0zM130.9,135.9h1.0v1.0h-1.0zM141.9,135.2h1.0v1.0h-1.0zM164.4,130.7h1.0v1.0h-1.0zM174.5,136.1h1.0v1.0h-1.0zM136.6,137.5h1.0v1.0h-1.0zM132.9,137.8h1.0v1.0h-1.0zM136.3,110.2h1.0v1.0h-1.0zM146.3,135.3h1.0v1.0h-1.0zM131.2,109.0h1.0v1.0h-1.0zM127.6,114.8h1.0v1.0h-1.0zM153.1,137.4h1.0v1.0h-1.0zM167.8,134.5h1.0v1.0h-1.0zM133.5,133.0h1.0v1.0h-1.0zM139.5,132.4h1.0v1.0h-1.0zM154.3,128.1h1.0v1.0h-1.0zM132.2,138.5h1.0v1.0h-1.0zM147.3,132.0h1.0v1.0h-1.0zM141.3,137.7h1.0v1.0h-1.0zM127.9,109.7h1.0v1.0h-1.0zM133.0,132.0h1.0v1.0h-1.0zM176.0,136.2h1.0v1.0h-1.0zM140.5,137.8h1.0v1.0h-1.0zM138.0,127.2h1.0v1.0h-1.0zM129.2,121.5h1.0v1.0h-1.0zM173.8,133.5h1.0v1.0h-1.0zM148.0,121.8h1.0v1.0h-1.0zM143.9,132.9h1.0v1.0h-1.0zM150.4,129.7h1.0v1.0h-1.0zM140.3,129.9h1.0v1.0h-1.0zM129.5,133.8h1.0v1.0h-1.0zM132.2,117.8h1.0v1.0h-1.0zM147.5,136.0h1.0v1.0h-1.0zM196.0,135.7h1.0v1.0h-1.0zM127.7,133.7h1.0v1.0h-1.0zM127.9,100.7h1.0v1.0h-1.0zM132.9,133.5h1.0v1.0h-1.0zM153.0,134.3h1.0v1.0h-1.0zM140.3,133.9h1.0v1.0h-1.0zM135.2,108.9h1.0v1.0h-1.0zM131.2,130.4h1.0v1.0h-1.0zM135.7,137.1h1.0v1.0h-1.0zM129.0,130.2h1.0v1.0h-1.0zM148.6,134.8h1.0v1.0h-1.0zM127.7,103.7h1.0v1.0h-1.0zM128.8,112.4h1.0v1.0h-1.0zM127.5,125.2h1.0v1.0h-1.0zM129.0,135.1h1.0v1.0h-1.0zM134.3,124.8h1.0v1.0h-1.0zM134.6,133.3h1.0v1.0h-1.0zM133.8,131.2h1.0v1.0h-1.0zM131.3,104.9h1.0v1.0h-1.0zM129.7,137.1h1.0v1.0h-1.0zM137.6,134.7h1.0v1.0h-1.0zM144.2,137.8h1.0v1.0h-1.0zM142.1,135.0h1.0v1.0h-1.0zM162.4,136.2h1.0v1.0h-1.0zM134.5,134.8h1.0v1.0h-1.0zM137.2,135.6h1.0v1.0h-1.0zM141.9,134.4h1.0v1.0h-1.0zM143.5,135.8h1.0v1.0h-1.0zM135.1,130.8h1.0v1.0h-1.0zM144.0,131.2h1.0v1.0h-1.0zM134.4,137.7h1.0v1.0h-1.0zM128.4,136.8h1.0v1.0h-1.0zM129.6,136.3h1.0v1.0h-1.0zM141.5,135.2h1.0v1.0h-1.0zM159.2,136.5h1.0v1.0h-1.0zM130.7,136.4h1.0v1.0h-1.0zM128.9,124.8h1.0v1.0h-1.0zM138.5,136.0h1.0v1.0h-1.0zM149.4,132.0h1.0v1.0h-1.0zM134.4,129.5h1.0v1.0h-1.0zM141.3,134.0h1.0v1.0h-1.0zM128.1,133.1h1.0v1.0h-1.0zM166.4,135.9h1.0v1.0h-1.0zM140.6,137.6h1.0v1.0h-1.0zM147.0,126.5h1.0v1.0h-1.0zM133.2,133.8h1.0v1.0h-1.0zM136.6,135.9h1.0v1.0h-1.0zM130.0,137.1h1.0v1.0h-1.0zM142.6,133.3h1.0v1.0h-1.0zM169.3,129.5h1.0v1.0h-1.0zM154.9,125.7h1.0v1.0h-1.0zM151.5,137.6h1.0v1.0h-1.0zM128.7,92.9h1.0v1.0h-1.0zM154.9,133.7h1.0v1.0h-1.0zM139.9,133.9h1.0v1.0h-1.0zM134.3,137.0h1.0v1.0h-1.0zM137.6,135.7h1.0v1.0h-1.0zM128.6,113.5h1.0v1.0h-1.0zM138.4,121.2h1.0v1.0h-1.0zM131.6,129.3h1.0v1.0h-1.0zM131.2,119.0h1.0v1.0h-1.0zM130.0,126.6h1.0v1.0h-1.0zM137.8,135.1h1.0v1.0h-1.0zM128.0,130.4h1.0v1.0h-1.0zM136.9,123.5h1.0v1.0h-1.0zM129.9,136.3h1.0v1.0h-1.0zM131.8,121.1h1.0v1.0h-1.0zM130.4,127.2h1.0v1.0h-1.0zM127.3,137.7h1.0v1.0h-1.0zM143.5,133.6h1.0v1.0h-1.0zM128.5,130.8h1.0v1.0h-1.0zM165.1,135.8h1.0v1.0h-1.0zM137.9,133.8h1.0v1.0h-1.0zM136.4,138.0h1.0v1.0h-1.0zM155.9,134.1h1.0v1.0h-1.0zM132.6,135.1h1.0v1.0h-1.0zM129.6,106.6h1.0v1.0h-1.0zM151.8,135.5h1.0v1.0h-1.0zM139.4,132.0h1.0v1.0h-1.0zM129.9,138.3h1.0v1.0h-1.0zM144.9,136.9h1.0v1.0h-1.0zM138.1,138.2h1.0v1.0h-1.0zM127.1,136.5h1.0v1.0h-1.0zM141.2,131.3h1.0v1.0h-1.0zM190.9,134.9h1.0v1.0h-1.0zM136.8,138.3h1.0v1.0h-1.0zM169.8,135.4h1.0v1.0h-1.0zM153.3,137.5h1.0v1.0h-1.0zM151.3,134.7h1.0v1.0h-1.0zM130.1,132.7h1.0v1.0h-1.0zM127.9,127.8h1.0v1.0h-1.0zM130.2,124.7h1.0v1.0h-1.0zM129.4,124.8h1.0v1.0h-1.0zM139.9,128.7h1.0v1.0h-1.0zM167.6,136.2h1.0v1.0h-1.0zM142.4,134.7h1.0v1.0h-1.0zM157.3,131.0h1.0v1.0h-1.0zM146.4,132.6h1.0v1.0h-1.0zM130.9,112.0h1.0v1.0h-1.0zM173.9,131.2h1.0v1.0h-1.0zM132.4,120.4h1.0v1.0h-1.0zM142.2,125.4h1.0v1.0h-1.0zM148.8,134.7h1.0v1.0h-1.0zM133.6,122.7h1.0v1.0h-1.0zM141.2,132.6h1.0v1.0h-1.0zM154.9,137.5h1.0v1.0h-1.0zM127.0,130.6h1.0v1.0h-1.0zM128.2,115.6h1.0v1.0h-1.0zM128.1,111.8h1.0v1.0h-1.0zM130.3,137.1h1.0v1.0h-1.0zM145.8,131.2h1.0v1.0h-1.0zM134.0,129.6h1.0v1.0h-1.0zM137.8,113.4h1.0v1.0h-1.0zM136.4,131.5h1.0v1.0h-1.0zM135.2,133.5h1.0v1.0h-1.0zM142.7,137.3h1.0v1.0h-1.0zM142.8,120.2h1.0v1.0h-1.0zM146.2,133.4h1.0v1.0h-1.0zM132.7,137.5h1.0v1.0h-1.0zM128.1,129.1h1.0v1.0h-1.0zM155.6,129.5h1.0v1.0h-1.0zM129.6,122.3h1.0v1.0h-1.0zM149.2,134.4h1.0v1.0h-1.0zM153.3,136.8h1.0v1.0h-1.0zM132.4,131.0h1.0v1.0h-1.0zM144.4,134.3h1.0v1.0h-1.0zM131.7,116.8h1.0v1.0h-1.0zM133.6,133.1h1.0v1.0h-1.0zM130.3,131.1h1.0v1.0h-1.0zM143.4,135.1h1.0v1.0h-1.0zM141.5,133.3h1.0v1.0h-1.0zM127.0,95.5h1.0v1.0h-1.0zM131.4,130.0h1.0v1.0h-1.0zM170.1,136.4h1.0v1.0h-1.0zM127.7,135.9h1.0v1.0h-1.0zM129.1,115.7h1.0v1.0h-1.0zM136.7,138.0h1.0v1.0h-1.0zM131.1,130.7h1.0v1.0h-1.0zM129.4,134.4h1.0v1.0h-1.0zM158.7,135.4h1.0v1.0h-1.0zM130.4,128.3h1.0v1.0h-1.0zM128.5,129.7h1.0v1.0h-1.0zM141.0,137.5h1.0v1.0h-1.0zM137.6,135.2h1.0v1.0h-1.0zM145.3,132.2h1.0v1.0h-1.0zM159.4,134.2h1.0v1.0h-1.0zM129.6,136.3h1.0v1.0h-1.0zM143.3,127.0h1.0v1.0h-1.0zM127.7,131.9h1.0v1.0h-1.0zM131.3,131.7h1.0v1.0h-1.0zM154.8,134.2h1.0v1.0h-1.0zM145.3,129.1h1.0v1.0h-1.0zM131.2,128.0h1.0v1.0h-1.0zM133.2,132.0h1.0v1.0h-1.0zM137.1,128.9h1.0v1.0h-1.0zM129.3,116.9h1.0v1.0h-1.0zM129.2,134.2h1.0v1.0h-1.0zM152.5,118.5h1.0v1.0h-1.0zM133.0,107.4h1.0v1.0h-1.0zM127.3,98.4h1.0v1.0h-1.0zM129.9,138.3h1.0v1.0h-1.0zM146.3,136.9h1.0v1.0h-1.0zM145.7,138.0h1.0v1.0h-1.0zM128.6,133.3h1.0v1.0h-1.0zM128.0,130.8h1.0v1.0h-1.0zM132.6,124.6h1.0v1.0h-1.0zM136.0,108.0h1.0v1.0h-1.0zM152.0,136.8h1.0v1.0h-1.0zM160.6,130.1h1.0v1.0h-1.0zM138.1,132.1h1.0v1.0h-1.0zM129.4,134.1h1.0v1.0h-1.0zM130.2,136.2h1.0v1.0h-1.0zM139.7,135.2h1.0v1.0h-1.0zM146.6,133.0h1.0v1.0h-1.0zM150.6,137.3h1.0v1.0h-1.0zM152.3,134.5h1.0v1.0h-1.0zM140.4,136.2h1.0v1.0h-1.0zM143.0,134.6h1.0v1.0h-1.0zM144.2,132.4h1.0v1.0h-1.0zM128.9,134.4h1.0v1.0h-1.0zM145.7,137.9h1.0v1.0h-1.0zM140.4,132.3h1.0v1.0h-1.0zM143.8,135.5h1.0v1.0h-1.0zM135.6,132.5h1.0v1.0h-1.0zM145.6,137.6h1.0v1.0h-1.0zM136.5,135.8h1.0v1.0h-1.0zM138.9,135.9h1.0v1.0h-1.0zM130.0,135.7h1.0v1.0h-1.0zM157.4,135.8h1.0v1.0h-1.0zM155.6,132.3h1.0v1.0h-1.0zM131.1,129.7h1.0v1.0h-1.0zM126.9,103.1h1.0v1.0h-1.0zM140.3,137.4h1.0v1.0h-1.0zM136.8,132.4h1.0v1.0h-1.0zM141.9,135.8h1.0v1.0h-1.0zM159.5,134.1h1.0v1.0h-1.0zM127.9,117.0h1.0v1.0h-1.0zM156.1,136.1h1.0v1.0h-1.0zM143.7,125.2h1.0v1.0h-1.0zM155.8,137.3h1.0v1.0h-1.0zM151.4,136.4h1.0v1.0h-1.0zM148.8,131.7h1.0v1.0h-1.0zM135.3,116.8h1.0v1.0h-1.0zM148.9,110.5h1.0v1.0h-1.0zM170.1,135.0h1.0v1.0h-1.0zM144.8,131.1h1.0v1.0h-1.0zM133.8,131.7h1.0v1.0h-1.0zM136.4,136.3h1.0v1.0h-1.0zM130.9,117.8h1.0v1.0h-1.0zM152.2,132.2h1.0v1.0h-1.0zM142.7,133.3h1.0v1.0h-1.0zM138.4,129.3h1.0v1.0h-1.0zM126.9,131.1h1.0v1.0h-1.0zM174.3,136.3h1.0v1.0h-1.0zM135.4,137.7h1.0v1.0h-1.0zM130.8,119.1h1.0v1.0h-1.0zM127.3,117.9h1.0v1.0h-1.0zM148.5,127.0h1.0v1.0h-1.0zM130.9,108.5h1.0v1.0h-1.0zM133.1,132.5h1.0v1.0h-1.0zM167.7,135.1h1.0v1.0h-1.0zM142.3,137.4h1.0v1.0h-1.0zM126.9,134.8h1.0v1.0h-1.0zM128.3,117.1h1.0v1.0h-1.0zM130.7,103.0h1.0v1.0h-1.0zM142.2,136.7h1.0v1.0h-1.0zM143.7,135.6h1.0v1.0h-1.0zM137.0,137.7h1.0v1.0h-1.0zM151.1,130.3h1.0v1.0h-1.0zM138.6,128.8h1.0v1.0h-1.0zM132.5,137.2h1.0v1.0h-1.0zM132.2,124.3h1.0v1.0h-1.0zM138.1,137.2h1.0v1.0h-1.0zM130.6,131.4h1.0v1.0h-1.0zM127.0,138.3h1.0v1.0h-1.0zM134.9,137.1h1.0v1.0h-1.0zM156.6,137.0h1.0v1.0h-1.0zM145.6,128.4h1.0v1.0h-1.0zM132.0,130.3h1.0v1.0h-1.0zM192.5,135.0h1.0v1.0h-1.0zM133.5,101.0h1.0v1.0h-1.0zM130.9,103.8h1.0v1.0h-1.0zM131.9,132.7h1.0v1.0h-1.0zM132.0,127.3h1.0v1.0h-1.0zM155.9,132.9h1.0v1.0h-1.0zM129.6,83.7h1.0v1.0h-1.0zM144.2,133.5h1.0v1.0h-1.0zM152.5,137.2h1.0v1.0h-1.0zM139.2,126.1h1.0v1.0h-1.0zM147.2,131.6h1.0v1.0h-1.0zM127.7,130.5h1.0v1.0h-1.0zM131.1,128.2h1.0v1.0h-1.0zM133.7,132.5h1.0v1.0h-1.0zM137.3,130.8h1.0v1.0h-1.0zM156.8,136.2h1.0v1.0h-1.0zM131.2,136.4h1.0v1.0h-1.0zM128.4,115.3h1.0v1.0h-1.0zM161.0,136.9h1.0v1.0h-1.0zM132.9,114.4h1.0v1.0h-1.0zM153.9,121.2h1.0v1.0h-1.0zM193.2,135.5h1.0v1.0h-1.0zM127.8,135.2h1.0v1.0h-1.0zM136.3,138.3h1.0v1.0h-1.0zM130.8,131.5h1.0v1.0h-1.0zM142.4,137.0h1.0v1.0h-1.0zM128.6,133.8h1.0v1.0h-1.0zM128.1,137.2h1.0v1.0h-1.0zM128.3,118.7h1.0v1.0h-1.0zM155.5,137.4h1.0v1.0h-1.0zM149.0,128.1h1.0v1.0h-1.0zM141.1,135.6h1.0v1.0h-1.0zM150.1,137.4h1.0v1.0h-1.0zM127.5,98.8h1.0v1.0h-1.0zM130.2,110.2h1.0v1.0h-1.0zM145.9,137.7h1.0v1.0h-1.0zM128.2,125.7h1.0v1.0h-1.0zM129.0,125.4h1.0v1.0h-1.0zM142.0,136.3h1.0v1.0h-1.0zM135.6,136.3h1.0v1.0h-1.0zM154.6,133.5h1.0v1.0h-1.0zM142.8,131.5h1.0v1.0h-1.0zM127.7,110.9h1.0v1.0h-1.0zM147.3,133.9h1.0v1.0h-1.0zM138.9,132.9h1.0v1.0h-1.0zM145.9,133.4h1.0v1.0h-1.0zM131.2,130.6h1.0v1.0h-1.0zM130.1,138.7h1.0v1.0h-1.0zM136.8,120.5h1.0v1.0h-1.0zM144.1,136.6h1.0v1.0h-1.0zM136.5,130.6h1.0v1.0h-1.0zM138.6,133.3h1.0v1.0h-1.0zM136.5,128.1h1.0v1.0h-1.0zM155.7,134.7h1.0v1.0h-1.0zM147.6,131.6h1.0v1.0h-1.0zM128.6,135.1h1.0v1.0h-1.0zM131.9,133.9h1.0v1.0h-1.0zM136.0,135.3h1.0v1.0h-1.0zM210.1,134.5h1.0v1.0h-1.0zM133.1,126.3h1.0v1.0h-1.0zM161.9,136.7h1.0v1.0h-1.0zM140.3,114.1h1.0v1.0h-1.0zM133.2,117.2h1.0v1.0h-1.0zM148.9,135.8h1.0v1.0h-1.0zM128.9,118.8h1.0v1.0h-1.0zM134.1,134.3h1.0v1.0h-1.0zM135.3,126.3h1.0v1.0h-1.0zM157.3,128.2h1.0v1.0h-1.0zM146.6,136.8h1.0v1.0h-1.0zM133.1,138.5h1.0v1.0h-1.0zM129.9,133.9h1.0v1.0h-1.0zM129.5,131.1h1.0v1.0h-1.0zM128.7,125.8h1.0v1.0h-1.0zM134.0,135.8h1.0v1.0h-1.0zM142.5,135.4h1.0v1.0h-1.0zM127.2,114.9h1.0v1.0h-1.0zM145.9,125.4h1.0v1.0h-1.0zM131.5,135.3h1.0v1.0h-1.0zM143.0,137.1h1.0v1.0h-1.0zM172.9,134.7h1.0v1.0h-1.0zM137.6,137.9h1.0v1.0h-1.0zM131.3,132.6h1.0v1.0h-1.0zM180.3,136.2h1.0v1.0h-1.0zM139.0,137.7h1.0v1.0h-1.0zM175.0,134.2h1.0v1.0h-1.0zM149.5,130.7h1.0v1.0h-1.0zM129.5,135.5h1.0v1.0h-1.0zM127.4,128.4h1.0v1.0h-1.0zM128.0,136.2h1.0v1.0h-1.0zM129.4,108.6h1.0v1.0h-1.0zM148.0,136.1h1.0v1.0h-1.0zM174.8,136.4h1.0v1.0h-1.0zM128.9,132.9h1.0v1.0h-1.0zM149.0,137.3h1.0v1.0h-1.0zM147.9,133.6h1.0v1.0h-1.0zM148.6,135.7h1.0v1.0h-1.0zM127.4,137.5h1.0v1.0h-1.0zM144.3,133.5h1.0v1.0h-1.0zM146.4,136.7h1.0v1.0h-1.0zM131.3,136.0h1.0v1.0h-1.0zM152.6,132.2h1.0v1.0h-1.0zM129.1,123.1h1.0v1.0h-1.0zM127.4,130.7h1.0v1.0h-1.0zM130.9,122.4h1.0v1.0h-1.0zM144.0,130.6h1.0v1.0h-1.0zM129.8,138.2h1.0v1.0h-1.0zM140.7,129.4h1.0v1.0h-1.0zM127.0,114.7h1.0v1.0h-1.0zM157.7,135.8h1.0v1.0h-1.0zM136.8,129.2h1.0v1.0h-1.0zM162.1,134.1h1.0v1.0h-1.0zM136.7,125.5h1.0v1.0h-1.0zM136.0,138.2h1.0v1.0h-1.0zM137.6,133.8h1.0v1.0h-1.0zM132.4,133.3h1.0v1.0h-1.0zM130.2,134.4h1.0v1.0h-1.0zM145.5,124.8h1.0v1.0h-1.0zM135.1,120.9h1.0v1.0h-1.0zM128.6,129.8h1.0v1.0h-1.0zM145.3,128.7h1.0v1.0h-1.0zM133.5,136.7h1.0v1.0h-1.0zM170.7,134.9h1.0v1.0h-1.0zM141.2,135.1h1.0v1.0h-1.0zM128.5,128.3h1.0v1.0h-1.0zM133.9,116.7h1.0v1.0h-1.0zM141.6,128.1h1.0v1.0h-1.0zM138.3,126.8h1.0v1.0h-1.0zM128.8,70.2h1.0v1.0h-1.0zM138.6,130.9h1.0v1.0h-1.0zM129.7,137.6h1.0v1.0h-1.0zM143.4,129.5h1.0v1.0h-1.0zM141.7,136.1h1.0v1.0h-1.0zM135.9,125.1h1.0v1.0h-1.0zM140.7,120.3h1.0v1.0h-1.0zM128.1,120.0h1.0v1.0h-1.0zM127.0,125.9h1.0v1.0h-1.0zM137.2,137.7h1.0v1.0h-1.0zM134.2,127.8h1.0v1.0h-1.0zM154.2,137.3h1.0v1.0h-1.0zM136.5,124.3h1.0v1.0h-1.0zM128.5,111.1h1.0v1.0h-1.0zM164.7,136.0h1.0v1.0h-1.0zM130.0,136.9h1.0v1.0h-1.0zM130.2,132.4h1.0v1.0h-1.0zM143.5,119.8h1.0v1.0h-1.0zM137.9,112.8h1.0v1.0h-1.0zM134.4,128.1h1.0v1.0h-1.0zM126.8,131.7h1.0v1.0h-1.0zM127.1,137.0h1.0v1.0h-1.0zM149.3,137.2h1.0v1.0h-1.0zM131.7,130.5h1.0v1.0h-1.0zM136.9,138.1h1.0v1.0h-1.0zM128.4,124.7h1.0v1.0h-1.0zM133.9,137.6h1.0v1.0h-1.0zM135.7,134.2h1.0v1.0h-1.0zM127.5,136.3h1.0v1.0h-1.0zM127.9,128.6h1.0v1.0h-1.0zM170.7,133.7h1.0v1.0h-1.0zM128.4,129.2h1.0v1.0h-1.0zM132.8,99.4h1.0v1.0h-1.0zM143.5,132.0h1.0v1.0h-1.0zM130.9,132.2h1.0v1.0h-1.0zM137.0,134.3h1.0v1.0h-1.0zM138.1,137.6h1.0v1.0h-1.0zM134.2,96.2h1.0v1.0h-1.0zM133.7,131.5h1.0v1.0h-1.0zM145.8,128.0h1.0v1.0h-1.0zM144.9,135.0h1.0v1.0h-1.0zM143.7,136.6h1.0v1.0h-1.0zM139.8,138.2h1.0v1.0h-1.0zM129.7,136.5h1.0v1.0h-1.0zM132.7,124.7h1.0v1.0h-1.0zM127.1,111.4h1.0v1.0h-1.0zM128.1,101.0h1.0v1.0h-1.0zM167.2,134.7h1.0v1.0h-1.0zM151.7,124.5h1.0v1.0h-1.0zM134.9,120.1h1.0v1.0h-1.0zM127.3,119.0h1.0v1.0h-1.0zM141.0,127.2h1.0v1.0h-1.0zM129.0,137.7h1.0v1.0h-1.0zM136.9,130.3h1.0v1.0h-1.0zM142.6,136.8h1.0v1.0h-1.0zM138.2,109.7h1.0v1.0h-1.0zM130.8,119.4h1.0v1.0h-1.0zM170.8,134.5h1.0v1.0h-1.0zM134.7,133.3h1.0v1.0h-1.0zM135.4,137.2h1.0v1.0h-1.0zM127.9,134.6h1.0v1.0h-1.0zM129.4,111.3h1.0v1.0h-1.0zM132.9,117.1h1.0v1.0h-1.0zM138.1,119.4h1.0v1.0h-1.0zM157.6,132.9h1.0v1.0h-1.0zM134.9,135.9h1.0v1.0h-1.0zM138.1,135.3h1.0v1.0h-1.0zM150.7,137.6h1.0v1.0h-1.0zM140.6,135.1h1.0v1.0h-1.0zM134.2,130.9h1.0v1.0h-1.0zM181.6,129.6h1.0v1.0h-1.0zM132.8,105.9h1.0v1.0h-1.0zM169.1,135.2h1.0v1.0h-1.0zM138.1,136.5h1.0v1.0h-1.0zM147.9,134.3h1.0v1.0h-1.0zM146.3,123.0h1.0v1.0h-1.0zM140.1,129.2h1.0v1.0h-1.0zM137.6,137.2h1.0v1.0h-1.0zM135.2,137.9h1.0v1.0h-1.0zM129.5,91.9h1.0v1.0h-1.0zM133.3,137.1h1.0v1.0h-1.0zM134.6,137.9h1.0v1.0h-1.0zM139.5,136.3h1.0v1.0h-1.0zM130.2,127.0h1.0v1.0h-1.0zM162.0,137.2h1.0v1.0h-1.0zM143.9,132.4h1.0v1.0h-1.0zM135.9,133.5h1.0v1.0h-1.0zM127.0,133.1h1.0v1.0h-1.0zM136.9,134.8h1.0v1.0h-1.0zM196.3,135.4h1.0v1.0h-1.0zM152.2,130.0h1.0v1.0h-1.0zM148.3,134.2h1.0v1.0h-1.0zM136.2,121.8h1.0v1.0h-1.0zM128.5,135.6h1.0v1.0h-1.0zM127.0,129.9h1.0v1.0h-1.0zM135.0,109.1h1.0v1.0h-1.0zM163.1,135.7h1.0v1.0h-1.0zM136.1,137.4h1.0v1.0h-1.0zM145.8,133.6h1.0v1.0h-1.0zM129.3,113.6h1.0v1.0h-1.0zM127.4,136.1h1.0v1.0h-1.0zM135.6,85.0h1.0v1.0h-1.0zM128.9,135.0h1.0v1.0h-1.0zM148.1,135.7h1.0v1.0h-1.0zM162.7,137.2h1.0v1.0h-1.0zM130.5,134.5h1.0v1.0h-1.0zM152.4,137.2h1.0v1.0h-1.0zM142.0,122.8h1.0v1.0h-1.0zM176.5,133.9h1.0v1.0h-1.0zM127.5,130.3h1.0v1.0h-1.0zM130.2,137.2h1.0v1.0h-1.0zM130.6,123.6h1.0v1.0h-1.0zM138.4,137.2h1.0v1.0h-1.0zM131.4,137.9h1.0v1.0h-1.0zM162.2,133.0h1.0v1.0h-1.0zM135.5,108.4h1.0v1.0h-1.0zM178.6,136.1h1.0v1.0h-1.0zM130.8,136.3h1.0v1.0h-1.0zM140.2,131.4h1.0v1.0h-1.0zM136.7,125.3h1.0v1.0h-1.0zM137.1,135.1h1.0v1.0h-1.0zM141.8,117.0h1.0v1.0h-1.0zM127.5,130.2h1.0v1.0h-1.0zM128.9,122.0h1.0v1.0h-1.0zM134.5,120.9h1.0v1.0h-1.0zM141.8,115.5h1.0v1.0h-1.0zM138.6,131.0h1.0v1.0h-1.0zM176.5,133.9h1.0v1.0h-1.0zM132.4,137.5h1.0v1.0h-1.0zM161.3,137.1h1.0v1.0h-1.0zM161.7,128.9h1.0v1.0h-1.0zM141.5,116.8h1.0v1.0h-1.0zM139.5,127.6h1.0v1.0h-1.0zM139.1,136.3h1.0v1.0h-1.0zM127.9,121.6h1.0v1.0h-1.0zM135.0,137.2h1.0v1.0h-1.0zM137.9,135.8h1.0v1.0h-1.0zM131.0,115.3h1.0v1.0h-1.0zM139.9,127.7h1.0v1.0h-1.0zM149.9,134.9h1.0v1.0h-1.0zM135.0,133.1h1.0v1.0h-1.0zM132.8,123.0h1.0v1.0h-1.0zM156.1,136.1h1.0v1.0h-1.0zM147.1,131.6h1.0v1.0h-1.0zM127.0,118.6h1.0v1.0h-1.0zM151.2,129.4h1.0v1.0h-1.0zM147.5,129.6h1.0v1.0h-1.0zM150.1,108.6h1.0v1.0h-1.0zM129.3,100.4h1.0v1.0h-1.0zM136.1,130.5h1.0v1.0h-1.0zM134.6,124.3h1.0v1.0h-1.0zM139.0,130.1h1.0v1.0h-1.0zM127.8,120.9h1.0v1.0h-1.0zM147.4,118.1h1.0v1.0h-1.0zM135.0,107.3h1.0v1.0h-1.0zM127.1,133.1h1.0v1.0h-1.0zM127.1,123.5h1.0v1.0h-1.0zM138.9,131.4h1.0v1.0h-1.0zM139.0,135.0h1.0v1.0h-1.0zM127.4,88.3h1.0v1.0h-1.0zM162.1,134.0h1.0v1.0h-1.0zM144.2,125.0h1.0v1.0h-1.0zM139.4,108.9h1.0v1.0h-1.0zM143.5,94.7h1.0v1.0h-1.0zM145.5,99.9h1.0v1.0h-1.0zM128.8,110.4h1.0v1.0h-1.0zM133.1,98.9h1.0v1.0h-1.0zM152.3,86.7h1.0v1.0h-1.0zM149.7,128.0h1.0v1.0h-1.0zM138.9,113.3h1.0v1.0h-1.0zM127.8,124.0h1.0v1.0h-1.0zM140.5,117.0h1.0v1.0h-1.0zM133.6,121.8h1.0v1.0h-1.0zM148.5,128.2h1.0v1.0h-1.0zM145.5,101.7h1.0v1.0h-1.0zM134.3,124.4h1.0v1.0h-1.0zM137.6,109.1h1.0v1.0h-1.0zM132.0,130.3h1.0v1.0h-1.0zM134.9,120.0h1.0v1.0h-1.0zM129.6,80.3h1.0v1.0h-1.0zM138.2,116.4h1.0v1.0h-1.0zM135.5,134.7h1.0v1.0h-1.0zM134.8,123.0h1.0v1.0h-1.0zM128.4,79.2h1.0v1.0h-1.0zM141.2,126.3h1.0v1.0h-1.0zM127.3,131.0h1.0v1.0h-1.0zM133.5,120.1h1.0v1.0h-1.0zM129.9,125.6h1.0v1.0h-1.0zM132.0,123.2h1.0v1.0h-1.0zM145.8,124.7h1.0v1.0h-1.0zM149.4,121.2h1.0v1.0h-1.0zM128.3,119.8h1.0v1.0h-1.0zM137.6,114.8h1.0v1.0h-1.0zM171.8,128.9h1.0v1.0h-1.0zM157.7,131.3h1.0v1.0h-1.0zM143.9,135.0h1.0v1.0h-1.0zM155.2,126.6h1.0v1.0h-1.0zM136.7,125.3h1.0v1.0h-1.0zM134.4,131.3h1.0v1.0h-1.0zM146.0,121.0h1.0v1.0h-1.0zM127.7,130.6h1.0v1.0h-1.0zM170.5,130.3h1.0v1.0h-1.0zM132.5,122.8h1.0v1.0h-1.0zM134.4,93.0h1.0v1.0h-1.0zM192.8,133.1h1.0v1.0h-1.0zM131.0,132.4h1.0v1.0h-1.0zM136.4,130.3h1.0v1.0h-1.0zM145.1,104.2h1.0v1.0h-1.0zM128.0,134.7h1.0v1.0h-1.0zM128.8,129.8h1.0v1.0h-1.0zM129.2,127.0h1.0v1.0h-1.0zM134.2,116.5h1.0v1.0h-1.0zM182.3,80.9h1.0v1.0h-1.0zM135.7,120.4h1.0v1.0h-1.0zM129.1,121.6h1.0v1.0h-1.0zM161.8,104.2h1.0v1.0h-1.0zM129.3,132.5h1.0v1.0h-1.0zM164.6,118.0h1.0v1.0h-1.0zM150.2,134.1h1.0v1.0h-1.0zM142.5,134.7h1.0v1.0h-1.0zM148.6,112.5h1.0v1.0h-1.0zM133.2,135.0h1.0v1.0h-1.0zM148.3,43.7h1.0v1.0h-1.0zM142.6,128.6h1.0v1.0h-1.0zM133.3,111.2h1.0v1.0h-1.0zM183.2,128.6h1.0v1.0h-1.0zM130.9,54.6h1.0v1.0h-1.0zM135.9,126.7h1.0v1.0h-1.0zM132.9,116.7h1.0v1.0h-1.0zM192.7,126.0h1.0v1.0h-1.0zM158.3,127.8h1.0v1.0h-1.0zM135.8,112.0h1.0v1.0h-1.0zM184.4,115.0h1.0v1.0h-1.0zM146.7,110.0h1.0v1.0h-1.0zM167.8,91.3h1.0v1.0h-1.0zM139.2,128.1h1.0v1.0h-1.0zM126.9,124.4h1.0v1.0h-1.0zM134.0,135.1h1.0v1.0h-1.0zM207.9,129.8h1.0v1.0h-1.0zM170.6,134.8h1.0v1.0h-1.0zM134.1,113.2h1.0v1.0h-1.0zM145.0,119.1h1.0v1.0h-1.0zM137.7,133.7h1.0v1.0h-1.0zM155.8,114.6h1.0v1.0h-1.0zM137.4,123.3h1.0v1.0h-1.0zM153.3,125.3h1.0v1.0h-1.0zM137.3,125.6h1.0v1.0h-1.0zM148.5,116.1h1.0v1.0h-1.0zM133.5,113.7h1.0v1.0h-1.0zM134.5,119.1h1.0v1.0h-1.0zM134.5,102.3h1.0v1.0h-1.0zM172.7,113.6h1.0v1.0h-1.0zM134.6,128.9h1.0v1.0h-1.0zM136.1,121.8h1.0v1.0h-1.0zM127.4,123.8h1.0v1.0h-1.0zM169.7,134.1h1.0v1.0h-1.0zM162.9,123.0h1.0v1.0h-1.0zM147.7,117.0h1.0v1.0h-1.0zM149.6,127.3h1.0v1.0h-1.0zM128.9,107.6h1.0v1.0h-1.0zM161.0,116.8h1.0v1.0h-1.0zM130.8,125.2h1.0v1.0h-1.0zM138.6,128.6h1.0v1.0h-1.0zM137.8,126.3h1.0v1.0h-1.0zM191.0,121.0h1.0v1.0h-1.0zM187.8,101.0h1.0v1.0h-1.0zM130.0,114.0h1.0v1.0h-1.0zM134.6,122.1h1.0v1.0h-1.0zM140.3,115.9h1.0v1.0h-1.0zM132.7,118.9h1.0v1.0h-1.0zM134.3,113.3h1.0v1.0h-1.0zM137.9,120.4h1.0v1.0h-1.0zM132.2,135.0h1.0v1.0h-1.0zM163.6,124.5h1.0v1.0h-1.0zM143.7,109.8h1.0v1.0h-1.0zM162.8,128.1h1.0v1.0h-1.0zM197.9,128.0h1.0v1.0h-1.0zM147.9,109.6h1.0v1.0h-1.0zM134.2,127.3h1.0v1.0h-1.0zM134.3,129.1h1.0v1.0h-1.0zM135.5,108.2h1.0v1.0h-1.0zM127.8,70.3h1.0v1.0h-1.0zM152.3,123.4h1.0v1.0h-1.0zM143.6,130.0h1.0v1.0h-1.0zM150.4,105.5h1.0v1.0h-1.0zM134.7,125.2h1.0v1.0h-1.0zM130.9,131.0h1.0v1.0h-1.0zM157.9,120.4h1.0v1.0h-1.0zM136.5,120.5h1.0v1.0h-1.0zM130.2,135.0h1.0v1.0h-1.0zM134.0,122.9h1.0v1.0h-1.0zM130.2,123.9h1.0v1.0h-1.0zM133.2,130.7h1.0v1.0h-1.0zM148.8,128.7h1.0v1.0h-1.0zM148.9,115.3h1.0v1.0h-1.0zM134.5,134.6h1.0v1.0h-1.0zM156.9,123.6h1.0v1.0h-1.0zM141.0,118.6h1.0v1.0h-1.0zM139.8,101.2h1.0v1.0h-1.0zM127.0,85.7h1.0v1.0h-1.0zM142.4,127.6h1.0v1.0h-1.0zM165.5,102.9h1.0v1.0h-1.0zM141.6,134.9h1.0v1.0h-1.0zM142.7,127.5h1.0v1.0h-1.0zM140.7,109.8h1.0v1.0h-1.0zM129.1,108.5h1.0v1.0h-1.0zM132.9,130.9h1.0v1.0h-1.0zM127.4,133.5h1.0v1.0h-1.0zM131.9,124.3h1.0v1.0h-1.0zM172.6,132.4h1.0v1.0h-1.0zM132.4,128.4h1.0v1.0h-1.0zM143.5,128.8h1.0v1.0h-1.0zM144.9,132.8h1.0v1.0h-1.0zM127.6,122.7h1.0v1.0h-1.0zM147.8,133.0h1.0v1.0h-1.0zM127.6,119.3h1.0v1.0h-1.0zM127.9,98.0h1.0v1.0h-1.0zM145.9,132.6h1.0v1.0h-1.0zM135.4,134.3h1.0v1.0h-1.0zM128.3,128.9h1.0v1.0h-1.0zM161.0,100.8h1.0v1.0h-1.0zM149.6,120.6h1.0v1.0h-1.0zM141.1,124.9h1.0v1.0h-1.0zM144.2,125.3h1.0v1.0h-1.0zM135.1,109.2h1.0v1.0h-1.0zM132.7,127.6h1.0v1.0h-1.0zM145.3,87.7h1.0v1.0h-1.0zM133.7,127.0h1.0v1.0h-1.0zM135.2,131.7h1.0v1.0h-1.0zM134.0,112.8h1.0v1.0h-1.0zM130.2,125.8h1.0v1.0h-1.0zM132.3,122.8h1.0v1.0h-1.0zM151.0,133.3h1.0v1.0h-1.0zM137.7,132.1h1.0v1.0h-1.0zM143.8,118.9h1.0v1.0h-1.0zM130.9,131.3h1.0v1.0h-1.0zM132.7,129.4h1.0v1.0h-1.0zM163.2,105.5h1.0v1.0h-1.0zM152.3,127.9h1.0v1.0h-1.0zM136.8,131.9h1.0v1.0h-1.0zM136.9,92.1h1.0v1.0h-1.0zM128.4,127.9h1.0v1.0h-1.0zM130.4,108.5h1.0v1.0h-1.0zM132.7,125.5h1.0v1.0h-1.0zM127.7,118.3h1.0v1.0h-1.0zM138.6,112.1h1.0v1.0h-1.0zM147.6,115.6h1.0v1.0h-1.0zM131.8,131.0h1.0v1.0h-1.0zM141.7,134.4h1.0v1.0h-1.0zM171.8,116.9h1.0v1.0h-1.0zM137.9,128.7h1.0v1.0h-1.0zM128.1,123.5h1.0v1.0h-1.0zM151.0,133.3h1.0v1.0h-1.0zM128.5,118.6h1.0v1.0h-1.0zM137.2,112.7h1.0v1.0h-1.0zM135.5,77.5h1.0v1.0h-1.0zM160.4,129.5h1.0v1.0h-1.0zM139.3,122.5h1.0v1.0h-1.0zM136.6,110.8h1.0v1.0h-1.0zM146.7,110.7h1.0v1.0h-1.0zM131.6,125.0h1.0v1.0h-1.0zM139.6,122.6h1.0v1.0h-1.0zM127.1,111.2h1.0v1.0h-1.0zM136.5,132.6h1.0v1.0h-1.0zM158.2,123.5h1.0v1.0h-1.0zM148.8,115.9h1.0v1.0h-1.0zM142.7,100.1h1.0v1.0h-1.0zM127.8,129.3h1.0v1.0h-1.0zM129.7,120.7h1.0v1.0h-1.0zM130.9,134.7h1.0v1.0h-1.0zM129.2,132.3h1.0v1.0h-1.0zM139.5,126.4h1.0v1.0h-1.0zM137.0,134.9h1.0v1.0h-1.0zM139.1,130.9h1.0v1.0h-1.0zM128.4,134.2h1.0v1.0h-1.0zM129.5,127.8h1.0v1.0h-1.0zM129.8,126.2h1.0v1.0h-1.0zM129.7,116.1h1.0v1.0h-1.0zM160.8,129.5h1.0v1.0h-1.0zM128.0,87.2h1.0v1.0h-1.0zM128.3,120.1h1.0v1.0h-1.0zM149.8,125.7h1.0v1.0h-1.0zM162.9,132.8h1.0v1.0h-1.0zM147.6,101.2h1.0v1.0h-1.0zM163.8,108.1h1.0v1.0h-1.0zM136.2,124.8h1.0v1.0h-1.0zM157.6,128.3h1.0v1.0h-1.0zM131.6,134.6h1.0v1.0h-1.0zM130.5,132.9h1.0v1.0h-1.0zM170.0,129.8h1.0v1.0h-1.0zM133.9,82.7h1.0v1.0h-1.0zM145.9,127.0h1.0v1.0h-1.0zM128.6,128.6h1.0v1.0h-1.0zM132.4,92.8h1.0v1.0h-1.0zM135.7,83.6h1.0v1.0h-1.0zM132.0,134.4h1.0v1.0h-1.0zM164.2,134.0h1.0v1.0h-1.0zM152.1,122.2h1.0v1.0h-1.0zM132.3,109.4h1.0v1.0h-1.0zM136.0,76.5h1.0v1.0h-1.0zM140.1,94.0h1.0v1.0h-1.0zM170.2,128.3h1.0v1.0h-1.0zM146.0,116.5h1.0v1.0h-1.0zM144.2,134.7h1.0v1.0h-1.0zM145.8,114.6h1.0v1.0h-1.0zM130.3,133.6h1.0v1.0h-1.0zM128.0,123.9h1.0v1.0h-1.0zM128.7,108.2h1.0v1.0h-1.0zM135.6,57.9h1.0v1.0h-1.0zM148.4,127.1h1.0v1.0h-1.0zM130.1,127.1h1.0v1.0h-1.0zM142.0,106.9h1.0v1.0h-1.0zM163.0,129.5h1.0v1.0h-1.0zM127.2,119.5h1.0v1.0h-1.0zM145.8,120.2h1.0v1.0h-1.0zM153.3,111.2h1.0v1.0h-1.0zM142.8,110.5h1.0v1.0h-1.0zM129.0,93.4h1.0v1.0h-1.0zM144.7,133.7h1.0v1.0h-1.0zM129.8,120.4h1.0v1.0h-1.0zM132.8,95.6h1.0v1.0h-1.0zM132.2,125.6h1.0v1.0h-1.0zM138.2,94.9h1.0v1.0h-1.0zM132.7,103.3h1.0v1.0h-1.0zM147.7,123.1h1.0v1.0h-1.0zM174.4,104.4h1.0v1.0h-1.0zM149.4,123.8h1.0v1.0h-1.0zM127.6,131.5h1.0v1.0h-1.0zM143.9,133.3h1.0v1.0h-1.0zM143.6,129.0h1.0v1.0h-1.0zM134.8,110.4h1.0v1.0h-1.0zM156.7,115.4h1.0v1.0h-1.0zM136.5,124.1h1.0v1.0h-1.0zM195.8,97.9h1.0v1.0h-1.0zM142.1,133.9h1.0v1.0h-1.0zM164.6,134.4h1.0v1.0h-1.0zM128.9,119.7h1.0v1.0h-1.0zM130.4,115.1h1.0v1.0h-1.0zM145.7,132.5h1.0v1.0h-1.0zM165.7,44.5h1.0v1.0h-1.0zM144.2,77.6h1.0v1.0h-1.0zM153.1,125.9h1.0v1.0h-1.0zM155.1,95.3h1.0v1.0h-1.0zM146.2,133.8h1.0v1.0h-1.0zM134.4,117.7h1.0v1.0h-1.0zM134.2,132.5h1.0v1.0h-1.0zM136.7,132.9h1.0v1.0h-1.0zM137.3,133.6h1.0v1.0h-1.0zM147.9,131.7h1.0v1.0h-1.0zM171.5,133.5h1.0v1.0h-1.0zM143.1,120.4h1.0v1.0h-1.0zM130.4,121.0h1.0v1.0h-1.0zM139.8,121.4h1.0v1.0h-1.0zM130.2,125.8h1.0v1.0h-1.0zM156.3,121.3h1.0v1.0h-1.0zM131.4,129.3h1.0v1.0h-1.0zM161.2,134.3h1.0v1.0h-1.0zM137.4,124.8h1.0v1.0h-1.0zM136.0,135.0h1.0v1.0h-1.0zM128.7,108.7h1.0v1.0h-1.0zM136.7,130.2h1.0v1.0h-1.0zM136.6,134.3h1.0v1.0h-1.0zM128.2,109.9h1.0v1.0h-1.0zM150.0,131.9h1.0v1.0h-1.0zM133.0,133.9h1.0v1.0h-1.0zM133.1,124.6h1.0v1.0h-1.0zM149.6,125.0h1.0v1.0h-1.0zM157.5,44.5h1.0v1.0h-1.0zM140.5,134.4h1.0v1.0h-1.0zM129.2,119.1h1.0v1.0h-1.0zM129.1,102.3h1.0v1.0h-1.0zM127.7,134.3h1.0v1.0h-1.0zM135.3,123.5h1.0v1.0h-1.0zM141.6,133.3h1.0v1.0h-1.0zM133.5,128.5h1.0v1.0h-1.0zM148.6,113.3h1.0v1.0h-1.0zM146.1,132.2h1.0v1.0h-1.0zM136.9,99.8h1.0v1.0h-1.0zM130.0,129.0h1.0v1.0h-1.0zM142.4,58.8h1.0v1.0h-1.0zM127.2,118.3h1.0v1.0h-1.0zM136.9,124.3h1.0v1.0h-1.0zM156.7,133.6h1.0v1.0h-1.0zM141.7,129.6h1.0v1.0h-1.0zM149.7,117.2h1.0v1.0h-1.0zM135.6,132.7h1.0v1.0h-1.0zM150.4,117.9h1.0v1.0h-1.0zM140.3,115.5h1.0v1.0h-1.0zM175.3,131.1h1.0v1.0h-1.0zM145.9,111.6h1.0v1.0h-1.0zM131.9,101.8h1.0v1.0h-1.0zM133.0,90.5h1.0v1.0h-1.0zM141.0,83.7h1.0v1.0h-1.0zM161.9,113.3h1.0v1.0h-1.0zM134.4,126.3h1.0v1.0h-1.0zM141.2,111.7h1.0v1.0h-1.0zM135.6,102.4h1.0v1.0h-1.0zM130.8,124.6h1.0v1.0h-1.0zM129.4,132.4h1.0v1.0h-1.0zM132.4,134.4h1.0v1.0h-1.0zM140.6,121.3h1.0v1.0h-1.0zM135.0,112.3h1.0v1.0h-1.0zM139.7,118.7h1.0v1.0h-1.0zM128.3,129.4h1.0v1.0h-1.0zM127.2,132.6h1.0v1.0h-1.0zM157.7,133.0h1.0v1.0h-1.0zM141.6,128.3h1.0v1.0h-1.0zM145.0,105.8h1.0v1.0h-1.0zM155.6,87.3h1.0v1.0h-1.0zM181.8,127.8h1.0v1.0h-1.0zM198.9,114.6h1.0v1.0h-1.0zM132.1,129.4h1.0v1.0h-1.0zM138.9,108.4h1.0v1.0h-1.0zM128.5,103.4h1.0v1.0h-1.0zM144.9,122.2h1.0v1.0h-1.0zM135.3,128.2h1.0v1.0h-1.0zM135.3,117.1h1.0v1.0h-1.0zM136.3,117.2h1.0v1.0h-1.0zM160.8,133.8h1.0v1.0h-1.0zM127.1,94.6h1.0v1.0h-1.0zM130.3,111.1h1.0v1.0h-1.0zM135.3,131.4h1.0v1.0h-1.0zM127.0,127.1h1.0v1.0h-1.0zM141.7,134.3h1.0v1.0h-1.0zM127.0,130.2h1.0v1.0h-1.0zM161.5,115.3h1.0v1.0h-1.0zM131.7,127.7h1.0v1.0h-1.0zM135.6,117.5h1.0v1.0h-1.0zM132.3,128.8h1.0v1.0h-1.0zM138.2,131.2h1.0v1.0h-1.0zM136.0,115.4h1.0v1.0h-1.0zM138.3,134.3h1.0v1.0h-1.0zM133.8,123.0h1.0v1.0h-1.0zM131.1,128.1h1.0v1.0h-1.0zM140.2,128.6h1.0v1.0h-1.0zM130.1,105.4h1.0v1.0h-1.0zM127.9,101.3h1.0v1.0h-1.0zM128.5,123.6h1.0v1.0h-1.0zM139.6,127.6h1.0v1.0h-1.0zM142.8,104.4h1.0v1.0h-1.0zM133.1,134.2h1.0v1.0h-1.0zM130.5,105.0h1.0v1.0h-1.0zM141.7,115.1h1.0v1.0h-1.0zM134.9,129.5h1.0v1.0h-1.0zM145.9,123.1h1.0v1.0h-1.0zM166.6,132.6h1.0v1.0h-1.0zM133.7,118.3h1.0v1.0h-1.0zM165.5,126.1h1.0v1.0h-1.0zM152.0,133.4h1.0v1.0h-1.0zM143.4,129.4h1.0v1.0h-1.0zM146.1,130.0h1.0v1.0h-1.0zM130.2,130.6h1.0v1.0h-1.0zM147.8,117.3h1.0v1.0h-1.0zM166.5,127.5h1.0v1.0h-1.0zM127.9,111.5h1.0v1.0h-1.0zM131.7,117.0h1.0v1.0h-1.0zM137.8,126.7h1.0v1.0h-1.0zM127.3,131.4h1.0v1.0h-1.0zM149.3,126.3h1.0v1.0h-1.0zM170.8,81.1h1.0v1.0h-1.0zM126.9,110.7h1.0v1.0h-1.0zM142.6,122.7h1.0v1.0h-1.0zM169.1,119.9h1.0v1.0h-1.0zM144.7,115.9h1.0v1.0h-1.0zM136.7,107.8h1.0v1.0h-1.0zM133.9,119.2h1.0v1.0h-1.0zM149.5,98.4h1.0v1.0h-1.0zM129.1,117.5h1.0v1.0h-1.0zM133.6,112.3h1.0v1.0h-1.0zM140.7,63.1h1.0v1.0h-1.0zM129.0,101.8h1.0v1.0h-1.0zM147.0,116.3h1.0v1.0h-1.0zM135.9,108.7h1.0v1.0h-1.0zM171.8,84.9h1.0v1.0h-1.0zM140.3,122.3h1.0v1.0h-1.0zM136.0,79.8h1.0v1.0h-1.0zM138.6,111.2h1.0v1.0h-1.0zM147.8,123.1h1.0v1.0h-1.0zM148.4,93.9h1.0v1.0h-1.0zM129.3,110.0h1.0v1.0h-1.0zM166.8,116.2h1.0v1.0h-1.0zM142.4,113.0h1.0v1.0h-1.0zM143.4,111.2h1.0v1.0h-1.0zM135.5,56.5h1.0v1.0h-1.0zM135.2,107.7h1.0v1.0h-1.0zM136.2,71.4h1.0v1.0h-1.0zM136.3,94.3h1.0v1.0h-1.0zM130.8,103.7h1.0v1.0h-1.0zM133.3,60.1h1.0v1.0h-1.0zM136.2,44.3h1.0v1.0h-1.0zM144.1,113.2h1.0v1.0h-1.0zM143.3,54.3h1.0v1.0h-1.0zM151.2,78.7h1.0v1.0h-1.0zM144.1,98.9h1.0v1.0h-1.0zM129.9,77.5h1.0v1.0h-1.0zM147.9,96.8h1.0v1.0h-1.0zM134.3,86.5h1.0v1.0h-1.0zM142.3,114.0h1.0v1.0h-1.0zM157.3,94.4h1.0v1.0h-1.0zM164.6,93.0h1.0v1.0h-1.0zM136.8,42.8h1.0v1.0h-1.0zM175.5,95.0h1.0v1.0h-1.0zM138.6,106.0h1.0v1.0h-1.0zM127.8,66.6h1.0v1.0h-1.0zM163.5,100.5h1.0v1.0h-1.0zM139.8,81.6h1.0v1.0h-1.0zM127.3,110.8h1.0v1.0h-1.0zM132.8,99.6h1.0v1.0h-1.0zM135.8,99.7h1.0v1.0h-1.0zM173.8,110.3h1.0v1.0h-1.0zM129.3,123.8h1.0v1.0h-1.0zM164.0,107.6h1.0v1.0h-1.0zM138.8,123.3h1.0v1.0h-1.0zM129.1,124.1h1.0v1.0h-1.0zM173.4,122.9h1.0v1.0h-1.0zM134.8,107.4h1.0v1.0h-1.0zM144.4,117.6h1.0v1.0h-1.0zM148.2,97.5h1.0v1.0h-1.0zM128.9,115.0h1.0v1.0h-1.0zM129.1,115.2h1.0v1.0h-1.0zM131.8,123.3h1.0v1.0h-1.0zM160.8,115.7h1.0v1.0h-1.0zM155.0,80.2h1.0v1.0h-1.0zM159.6,123.5h1.0v1.0h-1.0zM145.0,74.3h1.0v1.0h-1.0zM147.5,99.9h1.0v1.0h-1.0zM138.3,78.9h1.0v1.0h-1.0zM142.6,112.8h1.0v1.0h-1.0zM140.9,107.5h1.0v1.0h-1.0zM131.1,94.9h1.0v1.0h-1.0zM163.9,96.4h1.0v1.0h-1.0zM127.0,110.6h1.0v1.0h-1.0zM156.8,120.5h1.0v1.0h-1.0zM141.3,94.1h1.0v1.0h-1.0zM142.6,113.6h1.0v1.0h-1.0zM127.2,92.3h1.0v1.0h-1.0zM130.6,100.1h1.0v1.0h-1.0zM142.2,90.6h1.0v1.0h-1.0zM155.2,70.2h1.0v1.0h-1.0zM131.0,90.8h1.0v1.0h-1.0zM136.6,92.6h1.0v1.0h-1.0zM151.5,110.4h1.0v1.0h-1.0zM187.6,109.1h1.0v1.0h-1.0zM139.8,91.3h1.0v1.0h-1.0zM130.2,65.0h1.0v1.0h-1.0zM135.2,67.0h1.0v1.0h-1.0zM130.1,120.7h1.0v1.0h-1.0zM145.2,116.9h1.0v1.0h-1.0zM138.8,118.3h1.0v1.0h-1.0zM153.4,89.2h1.0v1.0h-1.0zM150.7,120.4h1.0v1.0h-1.0zM127.8,101.3h1.0v1.0h-1.0zM128.6,91.2h1.0v1.0h-1.0zM143.2,53.7h1.0v1.0h-1.0zM162.0,96.3h1.0v1.0h-1.0zM163.0,105.6h1.0v1.0h-1.0zM133.9,122.5h1.0v1.0h-1.0zM151.9,95.5h1.0v1.0h-1.0zM147.5,105.4h1.0v1.0h-1.0zM139.3,58.4h1.0v1.0h-1.0zM136.6,120.2h1.0v1.0h-1.0zM189.1,86.7h1.0v1.0h-1.0zM138.7,119.7h1.0v1.0h-1.0zM140.8,106.5h1.0v1.0h-1.0zM136.9,83.8h1.0v1.0h-1.0zM131.7,115.4h1.0v1.0h-1.0zM163.3,117.2h1.0v1.0h-1.0zM153.4,115.8h1.0v1.0h-1.0zM137.7,107.6h1.0v1.0h-1.0zM132.7,78.8h1.0v1.0h-1.0zM185.1,56.5h1.0v1.0h-1.0zM130.4,123.5h1.0v1.0h-1.0zM138.8,88.9h1.0v1.0h-1.0zM143.2,39.5h1.0v1.0h-1.0zM150.5,116.2h1.0v1.0h-1.0zM137.4,122.4h1.0v1.0h-1.0zM137.1,87.8h1.0v1.0h-1.0zM134.7,118.8h1.0v1.0h-1.0zM142.8,64.9h1.0v1.0h-1.0zM148.2,121.1h1.0v1.0h-1.0zM138.5,117.3h1.0v1.0h-1.0zM161.3,110.0h1.0v1.0h-1.0zM138.9,69.2h1.0v1.0h-1.0zM134.1,108.6h1.0v1.0h-1.0zM134.4,103.9h1.0v1.0h-1.0zM148.4,113.5h1.0v1.0h-1.0zM147.3,109.8h1.0v1.0h-1.0zM163.5,102.9h1.0v1.0h-1.0zM153.6,101.9h1.0v1.0h-1.0zM151.5,111.2h1.0v1.0h-1.0zM130.1,112.3h1.0v1.0h-1.0zM134.9,123.8h1.0v1.0h-1.0zM157.0,104.7h1.0v1.0h-1.0zM140.3,92.3h1.0v1.0h-1.0zM128.2,120.6h1.0v1.0h-1.0zM152.9,123.1h1.0v1.0h-1.0zM168.7,105.6h1.0v1.0h-1.0zM197.1,72.9h1.0v1.0h-1.0zM137.6,113.1h1.0v1.0h-1.0zM138.6,85.8h1.0v1.0h-1.0zM139.6,90.8h1.0v1.0h-1.0zM155.3,105.3h1.0v1.0h-1.0zM154.8,106.3h1.0v1.0h-1.0zM144.8,109.9h1.0v1.0h-1.0zM144.1,102.7h1.0v1.0h-1.0zM129.1,102.3h1.0v1.0h-1.0zM181.4,116.9h1.0v1.0h-1.0zM157.6,116.5h1.0v1.0h-1.0zM152.6,115.5h1.0v1.0h-1.0zM145.5,85.1h1.0v1.0h-1.0zM127.5,76.2h1.0v1.0h-1.0zM142.1,116.8h1.0v1.0h-1.0zM134.4,103.0h1.0v1.0h-1.0zM154.7,119.0h1.0v1.0h-1.0zM128.3,117.3h1.0v1.0h-1.0zM147.6,110.6h1.0v1.0h-1.0zM156.5,90.2h1.0v1.0h-1.0zM161.4,138.8h1.0v1.0h-1.0zM156.5,139.0h1.0v1.0h-1.0zM170.9,138.9h1.0v1.0h-1.0zM171.8,139.0h1.0v1.0h-1.0zM212.1,136.6h1.0v1.0h-1.0zM195.5,137.1h1.0v1.0h-1.0zM157.9,138.8h1.0v1.0h-1.0zM169.5,138.8h1.0v1.0h-1.0zM173.2,138.0h1.0v1.0h-1.0zM172.5,138.8h1.0v1.0h-1.0zM208.7,136.2h1.0v1.0h-1.0zM163.2,138.3h1.0v1.0h-1.0zM160.8,139.4h1.0v1.0h-1.0zM158.5,139.1h1.0v1.0h-1.0zM156.5,139.6h1.0v1.0h-1.0zM175.4,139.0h1.0v1.0h-1.0zM169.4,138.7h1.0v1.0h-1.0zM174.1,138.7h1.0v1.0h-1.0zM164.6,139.2h1.0v1.0h-1.0zM154.2,138.8h1.0v1.0h-1.0zM161.4,139.2h1.0v1.0h-1.0zM198.3,137.4h1.0v1.0h-1.0zM166.6,139.2h1.0v1.0h-1.0zM162.6,138.4h1.0v1.0h-1.0zM182.3,137.5h1.0v1.0h-1.0zM194.0,137.8h1.0v1.0h-1.0zM154.8,139.8h1.0v1.0h-1.0zM171.1,138.4h1.0v1.0h-1.0zM161.5,138.6h1.0v1.0h-1.0zM158.0,139.0h1.0v1.0h-1.0zM162.7,139.4h1.0v1.0h-1.0zM178.3,138.6h1.0v1.0h-1.0zM180.2,137.7h1.0v1.0h-1.0zM163.3,138.9h1.0v1.0h-1.0zM157.7,139.6h1.0v1.0h-1.0zM173.4,138.6h1.0v1.0h-1.0zM167.4,138.9h1.0v1.0h-1.0zM159.0,139.5h1.0v1.0h-1.0zM177.3,138.3h1.0v1.0h-1.0zM156.6,138.6h1.0v1.0h-1.0zM156.7,139.6h1.0v1.0h-1.0zM156.7,139.1h1.0v1.0h-1.0zM178.4,138.8h1.0v1.0h-1.0zM196.1,137.1h1.0v1.0h-1.0zM182.9,138.1h1.0v1.0h-1.0zM163.3,139.4h1.0v1.0h-1.0zM158.9,138.5h1.0v1.0h-1.0zM159.4,138.5h1.0v1.0h-1.0zM183.1,137.4h1.0v1.0h-1.0zM156.4,139.3h1.0v1.0h-1.0zM183.1,138.2h1.0v1.0h-1.0zM158.5,139.8h1.0v1.0h-1.0zM166.4,138.7h1.0v1.0h-1.0zM157.8,139.5h1.0v1.0h-1.0zM170.3,139.0h1.0v1.0h-1.0zM179.0,137.6h1.0v1.0h-1.0zM162.8,139.4h1.0v1.0h-1.0zM167.7,139.0h1.0v1.0h-1.0zM155.8,138.9h1.0v1.0h-1.0zM167.3,139.0h1.0v1.0h-1.0zM158.6,138.8h1.0v1.0h-1.0zM194.4,137.6h1.0v1.0h-1.0zM168.3,139.0h1.0v1.0h-1.0zM164.1,138.7h1.0v1.0h-1.0zM159.9,138.9h1.0v1.0h-1.0zM166.7,139.4h1.0v1.0h-1.0zM156.0,139.3h1.0v1.0h-1.0zM156.6,139.1h1.0v1.0h-1.0zM168.6,138.4h1.0v1.0h-1.0zM189.2,137.5h1.0v1.0h-1.0zM178.0,138.7h1.0v1.0h-1.0zM187.5,137.1h1.0v1.0h-1.0zM168.5,138.2h1.0v1.0h-1.0zM167.0,138.8h1.0v1.0h-1.0zM156.8,139.2h1.0v1.0h-1.0zM174.3,137.9h1.0v1.0h-1.0zM190.5,137.6h1.0v1.0h-1.0zM201.2,137.3h1.0v1.0h-1.0zM154.3,139.4h1.0v1.0h-1.0zM166.6,138.3h1.0v1.0h-1.0zM158.3,139.8h1.0v1.0h-1.0zM174.8,138.8h1.0v1.0h-1.0zM185.0,137.8h1.0v1.0h-1.0zM156.3,139.2h1.0v1.0h-1.0zM178.0,138.6h1.0v1.0h-1.0zM204.7,137.6h1.0v1.0h-1.0zM156.6,139.0h1.0v1.0h-1.0zM172.3,138.3h1.0v1.0h-1.0zM195.8,137.8h1.0v1.0h-1.0zM154.7,139.2h1.0v1.0h-1.0zM161.0,139.1h1.0v1.0h-1.0zM162.1,138.4h1.0v1.0h-1.0zM159.4,138.8h1.0v1.0h-1.0zM167.6,139.0h1.0v1.0h-1.0zM193.5,137.8h1.0v1.0h-1.0zM159.8,139.5h1.0v1.0h-1.0zM173.6,138.1h1.0v1.0h-1.0zM161.3,139.5h1.0v1.0h-1.0zM168.7,138.8h1.0v1.0h-1.0zM167.0,138.5h1.0v1.0h-1.0zM154.0,139.9h1.0v1.0h-1.0zM181.8,137.5h1.0v1.0h-1.0zM155.4,139.6h1.0v1.0h-1.0zM163.0,138.4h1.0v1.0h-1.0zM160.0,138.4h1.0v1.0h-1.0zM155.5,138.6h1.0v1.0h-1.0zM154.9,139.1h1.0v1.0h-1.0zM212.0,136.3h1.0v1.0h-1.0zM193.8,137.7h1.0v1.0h-1.0zM204.5,136.4h1.0v1.0h-1.0zM159.2,138.7h1.0v1.0h-1.0zM194.6,137.8h1.0v1.0h-1.0zM162.0,138.5h1.0v1.0h-1.0zM167.8,138.1h1.0v1.0h-1.0zM163.2,138.9h1.0v1.0h-1.0zM156.9,139.5h1.0v1.0h-1.0zM187.8,138.1h1.0v1.0h-1.0zM190.8,137.2h1.0v1.0h-1.0zM167.7,138.9h1.0v1.0h-1.0zM154.0,139.8h1.0v1.0h-1.0zM182.6,137.3h1.0v1.0h-1.0zM207.4,137.1h1.0v1.0h-1.0zM198.9,137.3h1.0v1.0h-1.0zM161.4,138.4h1.0v1.0h-1.0zM181.8,137.8h1.0v1.0h-1.0zM159.4,139.6h1.0v1.0h-1.0zM157.2,139.5h1.0v1.0h-1.0zM157.4,139.0h1.0v1.0h-1.0zM160.1,139.4h1.0v1.0h-1.0zM188.1,137.9h1.0v1.0h-1.0zM154.0,140.0h1.0v1.0h-1.0zM167.0,139.4h1.0v1.0h-1.0zM167.2,139.4h1.0v1.0h-1.0zM164.3,138.7h1.0v1.0h-1.0zM166.6,139.1h1.0v1.0h-1.0zM183.6,137.3h1.0v1.0h-1.0zM181.3,137.4h1.0v1.0h-1.0zM211.9,136.8h1.0v1.0h-1.0zM166.7,138.8h1.0v1.0h-1.0zM179.1,138.6h1.0v1.0h-1.0zM158.1,139.2h1.0v1.0h-1.0zM166.7,138.0h1.0v1.0h-1.0zM160.6,139.7h1.0v1.0h-1.0zM161.9,138.4h1.0v1.0h-1.0zM155.6,139.2h1.0v1.0h-1.0zM168.9,138.1h1.0v1.0h-1.0zM160.4,138.8h1.0v1.0h-1.0zM203.5,136.3h1.0v1.0h-1.0zM167.5,138.9h1.0v1.0h-1.0zM171.1,138.2h1.0v1.0h-1.0zM172.5,138.2h1.0v1.0h-1.0zM161.9,138.6h1.0v1.0h-1.0zM161.0,139.4h1.0v1.0h-1.0zM155.7,139.1h1.0v1.0h-1.0zM157.0,139.5h1.0v1.0h-1.0zM159.7,139.2h1.0v1.0h-1.0zM162.7,138.2h1.0v1.0h-1.0zM166.1,138.7h1.0v1.0h-1.0zM162.3,138.8h1.0v1.0h-1.0zM175.9,134.4h1.0v1.0h-1.0zM163.3,136.3h1.0v1.0h-1.0zM156.6,137.4h1.0v1.0h-1.0zM155.2,137.1h1.0v1.0h-1.0zM154.5,136.3h1.0v1.0h-1.0zM165.0,137.5h1.0v1.0h-1.0zM172.3,135.2h1.0v1.0h-1.0zM166.7,135.6h1.0v1.0h-1.0zM174.6,132.8h1.0v1.0h-1.0zM155.6,135.1h1.0v1.0h-1.0zM158.0,132.5h1.0v1.0h-1.0zM160.0,137.2h1.0v1.0h-1.0zM154.4,120.3h1.0v1.0h-1.0zM155.6,137.3h1.0v1.0h-1.0zM188.7,136.8h1.0v1.0h-1.0zM160.8,135.8h1.0v1.0h-1.0zM168.8,131.4h1.0v1.0h-1.0zM201.7,134.7h1.0v1.0h-1.0zM155.1,137.5h1.0v1.0h-1.0zM154.0,137.2h1.0v1.0h-1.0zM166.6,128.4h1.0v1.0h-1.0zM155.3,137.2h1.0v1.0h-1.0zM182.6,133.5h1.0v1.0h-1.0zM160.6,138.0h1.0v1.0h-1.0zM154.7,137.5h1.0v1.0h-1.0zM166.4,137.8h1.0v1.0h-1.0zM163.1,130.9h1.0v1.0h-1.0zM154.0,137.1h1.0v1.0h-1.0zM160.9,134.2h1.0v1.0h-1.0zM171.3,132.9h1.0v1.0h-1.0zM161.4,136.5h1.0v1.0h-1.0zM166.8,135.4h1.0v1.0h-1.0zM188.4,133.8h1.0v1.0h-1.0zM165.4,133.4h1.0v1.0h-1.0zM162.5,135.3h1.0v1.0h-1.0zM168.1,134.0h1.0v1.0h-1.0zM158.7,135.4h1.0v1.0h-1.0zM201.8,129.2h1.0v1.0h-1.0zM164.5,136.5h1.0v1.0h-1.0zM156.5,136.2h1.0v1.0h-1.0zM161.2,135.8h1.0v1.0h-1.0zM157.8,135.6h1.0v1.0h-1.0zM165.1,137.6h1.0v1.0h-1.0zM168.0,132.6h1.0v1.0h-1.0zM156.8,137.2h1.0v1.0h-1.0zM154.5,135.8h1.0v1.0h-1.0zM168.6,135.6h1.0v1.0h-1.0zM165.5,134.1h1.0v1.0h-1.0zM154.5,138.3h1.0v1.0h-1.0zM163.2,127.1h1.0v1.0h-1.0zM169.9,135.3h1.0v1.0h-1.0zM157.9,137.8h1.0v1.0h-1.0zM167.5,131.8h1.0v1.0h-1.0zM160.5,137.9h1.0v1.0h-1.0zM158.2,133.1h1.0v1.0h-1.0zM173.1,135.5h1.0v1.0h-1.0zM182.4,135.2h1.0v1.0h-1.0zM154.3,137.6h1.0v1.0h-1.0zM182.7,132.0h1.0v1.0h-1.0zM155.1,137.1h1.0v1.0h-1.0zM160.5,135.5h1.0v1.0h-1.0zM154.3,127.7h1.0v1.0h-1.0zM163.8,136.8h1.0v1.0h-1.0zM154.4,134.9h1.0v1.0h-1.0zM189.1,131.5h1.0v1.0h-1.0zM179.4,128.6h1.0v1.0h-1.0zM168.2,137.7h1.0v1.0h-1.0zM158.8,134.6h1.0v1.0h-1.0zM161.0,137.2h1.0v1.0h-1.0zM154.9,130.0h1.0v1.0h-1.0zM168.3,136.4h1.0v1.0h-1.0zM162.2,129.4h1.0v1.0h-1.0zM156.0,134.2h1.0v1.0h-1.0zM157.4,128.4h1.0v1.0h-1.0zM174.9,125.0h1.0v1.0h-1.0zM160.2,135.3h1.0v1.0h-1.0zM159.0,136.5h1.0v1.0h-1.0zM193.9,121.8h1.0v1.0h-1.0zM185.1,134.3h1.0v1.0h-1.0zM168.0,127.7h1.0v1.0h-1.0zM161.3,127.5h1.0v1.0h-1.0zM174.7,136.2h1.0v1.0h-1.0zM159.8,133.3h1.0v1.0h-1.0zM156.3,137.2h1.0v1.0h-1.0zM156.8,138.0h1.0v1.0h-1.0zM185.1,111.4h1.0v1.0h-1.0zM176.3,134.6h1.0v1.0h-1.0zM171.8,132.8h1.0v1.0h-1.0zM161.5,135.1h1.0v1.0h-1.0zM155.7,137.3h1.0v1.0h-1.0zM159.4,136.4h1.0v1.0h-1.0zM168.0,136.8h1.0v1.0h-1.0zM157.5,129.5h1.0v1.0h-1.0zM173.8,126.2h1.0v1.0h-1.0zM173.6,136.7h1.0v1.0h-1.0zM162.7,130.5h1.0v1.0h-1.0zM175.3,136.5h1.0v1.0h-1.0zM162.5,134.4h1.0v1.0h-1.0zM154.1,137.4h1.0v1.0h-1.0zM171.6,133.1h1.0v1.0h-1.0zM161.7,134.6h1.0v1.0h-1.0zM163.7,136.3h1.0v1.0h-1.0zM155.1,132.7h1.0v1.0h-1.0zM173.2,135.3h1.0v1.0h-1.0zM173.1,130.2h1.0v1.0h-1.0zM169.3,130.8h1.0v1.0h-1.0zM198.1,136.4h1.0v1.0h-1.0zM191.0,134.3h1.0v1.0h-1.0zM173.5,132.0h1.0v1.0h-1.0zM155.3,134.7h1.0v1.0h-1.0zM155.2,132.9h1.0v1.0h-1.0zM159.3,136.3h1.0v1.0h-1.0zM158.1,131.3h1.0v1.0h-1.0zM167.3,136.4h1.0v1.0h-1.0zM171.5,136.9h1.0v1.0h-1.0zM175.0,133.6h1.0v1.0h-1.0zM172.9,133.6h1.0v1.0h-1.0zM169.4,135.2h1.0v1.0h-1.0zM165.6,134.5h1.0v1.0h-1.0zM158.3,136.8h1.0v1.0h-1.0zM174.8,130.3h1.0v1.0h-1.0zM197.7,131.6h1.0v1.0h-1.0zM163.1,136.0h1.0v1.0h-1.0zM169.9,133.4h1.0v1.0h-1.0zM191.3,131.0h1.0v1.0h-1.0zM160.3,136.9h1.0v1.0h-1.0zM154.6,132.1h1.0v1.0h-1.0zM161.2,136.1h1.0v1.0h-1.0zM154.7,135.6h1.0v1.0h-1.0zM183.7,135.8h1.0v1.0h-1.0zM171.7,131.7h1.0v1.0h-1.0zM168.0,134.1h1.0v1.0h-1.0zM157.7,133.6h1.0v1.0h-1.0zM165.4,123.5h1.0v1.0h-1.0zM163.4,136.3h1.0v1.0h-1.0zM184.8,133.0h1.0v1.0h-1.0zM159.4,133.8h1.0v1.0h-1.0zM156.1,137.6h1.0v1.0h-1.0zM182.0,134.6h1.0v1.0h-1.0zM175.0,136.6h1.0v1.0h-1.0zM162.2,137.0h1.0v1.0h-1.0zM175.1,133.7h1.0v1.0h-1.0zM160.5,136.2h1.0v1.0h-1.0zM157.0,137.4h1.0v1.0h-1.0zM169.2,136.3h1.0v1.0h-1.0zM155.4,136.4h1.0v1.0h-1.0zM161.8,119.3h1.0v1.0h-1.0z" fill="#c23a2a" fill-opacity="1"/>
<path d="M93.2,28.0h1.3v1.3h-1.3zM96.6,34.8h1.3v1.3h-1.3zM95.1,38.6h1.3v1.3h-1.3zM93.8,105.6h1.3v1.3h-1.3zM95.6,111.8h1.3v1.3h-1.3zM93.8,118.6h1.3v1.3h-1.3zM94.3,126.8h1.3v1.3h-1.3zM54.4,139.8h1.3v1.3h-1.3zM51.4,139.3h1.3v1.3h-1.3z" fill="#1f8a4c" fill-opacity="1"/>
<path d="M151.2,25.5h1.3v1.3h-1.3zM175.8,17.2h1.3v1.3h-1.3zM130.0,34.4h1.3v1.3h-1.3zM163.2,24.7h1.3v1.3h-1.3zM142.3,42.1h1.3v1.3h-1.3zM156.7,53.1h1.3v1.3h-1.3zM172.3,45.5h1.3v1.3h-1.3zM168.7,46.6h1.3v1.3h-1.3zM173.0,54.0h1.3v1.3h-1.3zM168.7,63.2h1.3v1.3h-1.3zM173.0,71.6h1.3v1.3h-1.3zM169.0,122.0h1.3v1.3h-1.3z" fill="#c23a2a" fill-opacity="1"/>
<rect x="45.2" y="15.0" width="186.8" height="129.8" fill="none" stroke="#222" stroke-width="1.3"/>
<circle cx="204.8" cy="27.7" r="2.3" fill="#b22222"/>
<circle cx="204.8" cy="34.7" r="2.3" fill="#138a3e"/>
<text x="210.50" y="30.20" font-size="7" text-anchor="start" fill="#222" font-weight="normal" font-style="normal" stroke="#222" stroke-width="0.14" >Up</text>
<text x="210.50" y="37.20" font-size="7" text-anchor="start" fill="#222" font-weight="normal" font-style="normal" stroke="#222" stroke-width="0.14" >Down</text>
<line x1="87.60" y1="25.50" x2="93.90" y2="28.60" stroke="#2e8b57" stroke-width="0.35" />
<rect x="64.5" y="20.1" width="23.099999999999994" height="7.299999999999997" rx="1.2" fill="#fff" fill-opacity="0.9" stroke="#c4c4c4" stroke-width="0.6"/>
<text x="76.05" y="25.35" font-size="4.6" text-anchor="middle" fill="#2e8b57" font-weight="normal" font-style="normal"  stroke="none">MTHFD1L</text>
<line x1="77.50" y1="35.50" x2="97.30" y2="35.40" stroke="#2e8b57" stroke-width="0.35" />
<line x1="77.50" y1="39.80" x2="95.80" y2="39.30" stroke="#2e8b57" stroke-width="0.35" />
<rect x="65.7" y="32" width="11.799999999999997" height="7.299999999999997" rx="1.2" fill="#fff" fill-opacity="0.9" stroke="#c4c4c4" stroke-width="0.6"/>
<text x="71.60" y="37.25" font-size="4.6" text-anchor="middle" fill="#2e8b57" font-weight="normal" font-style="normal"  stroke="none">SCD</text>
<rect x="64.5" y="40" width="16.700000000000003" height="7.600000000000001" rx="1.2" fill="#fff" fill-opacity="0.9" stroke="#c4c4c4" stroke-width="0.6"/>
<text x="72.85" y="45.40" font-size="4.6" text-anchor="middle" fill="#2e8b57" font-weight="normal" font-style="normal"  stroke="none">SPAG5</text>
<line x1="83.80" y1="90.80" x2="94.50" y2="106.30" stroke="#2e8b57" stroke-width="0.35" />
<rect x="60" y="83.8" width="23.799999999999997" height="7.0" rx="1.2" fill="#fff" fill-opacity="0.9" stroke="#c4c4c4" stroke-width="0.6"/>
<text x="71.90" y="88.90" font-size="4.6" text-anchor="middle" fill="#2e8b57" font-weight="normal" font-style="normal"  stroke="none">ATP5MC1</text>
<line x1="78.30" y1="107.50" x2="96.30" y2="112.50" stroke="#2e8b57" stroke-width="0.35" />
<rect x="59.3" y="102.5" width="19.0" height="6.299999999999997" rx="1.2" fill="#fff" fill-opacity="0.9" stroke="#c4c4c4" stroke-width="0.6"/>
<text x="68.80" y="107.25" font-size="4.6" text-anchor="middle" fill="#2e8b57" font-weight="normal" font-style="normal"  stroke="none">ATP1A1</text>
<line x1="78.30" y1="119.30" x2="94.50" y2="119.30" stroke="#2e8b57" stroke-width="0.35" />
<rect x="59.3" y="116.3" width="19.0" height="6.200000000000003" rx="1.2" fill="#fff" fill-opacity="0.9" stroke="#c4c4c4" stroke-width="0.6"/>
<text x="68.80" y="121.00" font-size="4.6" text-anchor="middle" fill="#2e8b57" font-weight="normal" font-style="normal"  stroke="none">ATP2A2</text>
<line x1="75.00" y1="130.00" x2="95.00" y2="127.50" stroke="#2e8b57" stroke-width="0.35" />
<rect x="55" y="127.5" width="20" height="6.800000000000011" rx="1.2" fill="#fff" fill-opacity="0.9" stroke="#c4c4c4" stroke-width="0.6"/>
<text x="65.00" y="132.50" font-size="4.6" text-anchor="middle" fill="#2e8b57" font-weight="normal" font-style="normal"  stroke="none">NDUFS3</text>
<rect x="75" y="132.5" width="21.299999999999997" height="6.300000000000011" rx="1.2" fill="#fff" fill-opacity="0.9" stroke="#c4c4c4" stroke-width="0.6"/>
<text x="85.65" y="137.25" font-size="4.6" text-anchor="middle" fill="#2e8b57" font-weight="normal" font-style="normal"  stroke="none">NDUFB2</text>
<rect x="139.6" y="18.2" width="14.700000000000017" height="5.900000000000002" rx="1.2" fill="#fff" fill-opacity="0.9" stroke="#c4c4c4" stroke-width="0.6"/>
<text x="146.95" y="22.75" font-size="4.6" text-anchor="middle" fill="#d05545" font-weight="normal" font-style="normal"  stroke="none">RGS9</text>
<rect x="178.1" y="18.9" width="10.599999999999994" height="6.400000000000002" rx="1.2" fill="#fff" fill-opacity="0.9" stroke="#c4c4c4" stroke-width="0.6"/>
<text x="183.40" y="23.70" font-size="4.6" text-anchor="middle" fill="#d05545" font-weight="normal" font-style="normal"  stroke="none">BMF</text>
<rect x="133" y="31.9" width="16.099999999999994" height="6.800000000000004" rx="1.2" fill="#fff" fill-opacity="0.9" stroke="#c4c4c4" stroke-width="0.6"/>
<text x="141.05" y="36.90" font-size="4.6" text-anchor="middle" fill="#d05545" font-weight="normal" font-style="normal"  stroke="none">WIPF1</text>
<line x1="163.90" y1="25.30" x2="170.00" y2="31.00" stroke="#d05545" stroke-width="0.35" />
<rect x="168.9" y="30.0" width="13.0" height="6.299999999999997" rx="1.2" fill="#fff" fill-opacity="0.9" stroke="#c4c4c4" stroke-width="0.6"/>
<text x="175.40" y="34.75" font-size="4.6" text-anchor="middle" fill="#d05545" font-weight="normal" font-style="normal"  stroke="none">SPP1</text>
<rect x="141.6" y="46.2" width="17.80000000000001" height="6.099999999999994" rx="1.2" fill="#fff" fill-opacity="0.9" stroke="#c4c4c4" stroke-width="0.6"/>
<text x="150.50" y="50.85" font-size="4.6" text-anchor="middle" fill="#d05545" font-weight="normal" font-style="normal"  stroke="none">HBEGF</text>
<line x1="173.00" y1="46.10" x2="183.20" y2="46.10" stroke="#d05545" stroke-width="0.35" />
<rect x="183.2" y="43.3" width="14.0" height="6.5" rx="1.2" fill="#fff" fill-opacity="0.9" stroke="#c4c4c4" stroke-width="0.6"/>
<text x="190.20" y="48.15" font-size="4.6" text-anchor="middle" fill="#d05545" font-weight="normal" font-style="normal"  stroke="none">RGS8</text>
<line x1="169.30" y1="47.30" x2="186.00" y2="51.90" stroke="#d05545" stroke-width="0.35" />
<rect x="185.3" y="51.9" width="15.399999999999977" height="7.100000000000001" rx="1.2" fill="#fff" fill-opacity="0.9" stroke="#c4c4c4" stroke-width="0.6"/>
<text x="193.00" y="57.05" font-size="4.6" text-anchor="middle" fill="#d05545" font-weight="normal" font-style="normal"  stroke="none">GZMA</text>
<line x1="169.70" y1="122.70" x2="175.30" y2="119.40" stroke="#d05545" stroke-width="0.35" />
<rect x="173.9" y="112.4" width="17.599999999999994" height="7.0" rx="1.2" fill="#fff" fill-opacity="0.9" stroke="#c4c4c4" stroke-width="0.6"/>
<text x="182.70" y="117.50" font-size="4.6" text-anchor="middle" fill="#d05545" font-weight="normal" font-style="normal"  stroke="none">GHET1</text>
<text x="250.50" y="14.90" font-size="10.4" text-anchor="start" fill="#111" font-weight="bold" font-style="normal" stroke="#111" stroke-width="0.14" >B</text>
<text x="270.80" y="44.30" font-size="6.6" text-anchor="start" fill="#222" font-weight="normal" font-style="normal" stroke="#222" stroke-width="0.14" >KEGG_Oxidative phosphorylation</text>
<line x1="282.00" y1="53.30" x2="360.20" y2="53.30" stroke="#ececec" stroke-width="0.5" />
<line x1="282.00" y1="60.13" x2="360.20" y2="60.13" stroke="#ececec" stroke-width="0.5" />
<line x1="282.00" y1="66.96" x2="360.20" y2="66.96" stroke="#ececec" stroke-width="0.5" />
<line x1="282.00" y1="73.79" x2="360.20" y2="73.79" stroke="#ececec" stroke-width="0.5" />
<line x1="282.00" y1="80.62" x2="360.20" y2="80.62" stroke="#ececec" stroke-width="0.5" />
<line x1="295.03" y1="48.50" x2="295.03" y2="86.60" stroke="#ececec" stroke-width="0.5" />
<line x1="308.07" y1="48.50" x2="308.07" y2="86.60" stroke="#ececec" stroke-width="0.5" />
<line x1="321.10" y1="48.50" x2="321.10" y2="86.60" stroke="#ececec" stroke-width="0.5" />
<line x1="334.13" y1="48.50" x2="334.13" y2="86.60" stroke="#ececec" stroke-width="0.5" />
<line x1="347.17" y1="48.50" x2="347.17" y2="86.60" stroke="#ececec" stroke-width="0.5" />
<line x1="353.21" y1="87.60" x2="353.21" y2="100.50" stroke="#000" stroke-width="0.8" stroke-opacity="0.08"/>
<line x1="323.60" y1="87.60" x2="323.60" y2="100.50" stroke="#000" stroke-width="0.8" stroke-opacity="0.08"/>
<line x1="335.89" y1="87.60" x2="335.89" y2="100.50" stroke="#000" stroke-width="0.8" stroke-opacity="0.08"/>
<line x1="351.65" y1="87.60" x2="351.65" y2="100.50" stroke="#000" stroke-width="0.8" stroke-opacity="0.08"/>
<line x1="310.76" y1="87.60" x2="310.76" y2="100.50" stroke="#000" stroke-width="0.8" stroke-opacity="0.08"/>
<line x1="331.30" y1="87.60" x2="331.30" y2="100.50" stroke="#000" stroke-width="0.8" stroke-opacity="0.08"/>
<line x1="335.59" y1="87.60" x2="335.59" y2="100.50" stroke="#000" stroke-width="0.8" stroke-opacity="0.08"/>
<line x1="356.40" y1="87.60" x2="356.40" y2="100.50" stroke="#000" stroke-width="0.8" stroke-opacity="0.08"/>
<line x1="290.78" y1="87.60" x2="290.78" y2="100.50" stroke="#000" stroke-width="0.8" stroke-opacity="0.08"/>
<line x1="295.57" y1="87.60" x2="295.57" y2="100.50" stroke="#000" stroke-width="0.8" stroke-opacity="0.08"/>
<line x1="317.88" y1="87.60" x2="317.88" y2="100.50" stroke="#000" stroke-width="0.8" stroke-opacity="0.08"/>
<line x1="349.73" y1="87.60" x2="349.73" y2="100.50" stroke="#000" stroke-width="0.8" stroke-opacity="0.08"/>
<line x1="350.73" y1="87.60" x2="350.73" y2="100.50" stroke="#000" stroke-width="0.8" stroke-opacity="0.08"/>
<line x1="302.55" y1="87.60" x2="302.55" y2="100.50" stroke="#000" stroke-width="0.8" stroke-opacity="0.08"/>
<line x1="354.91" y1="87.60" x2="354.91" y2="100.50" stroke="#000" stroke-width="0.8" stroke-opacity="0.08"/>
<line x1="332.08" y1="87.60" x2="332.08" y2="100.50" stroke="#000" stroke-width="0.8" stroke-opacity="0.08"/>
<line x1="357.50" y1="87.60" x2="357.50" y2="100.50" stroke="#000" stroke-width="0.8" stroke-opacity="0.08"/>
<line x1="355.72" y1="87.60" x2="355.72" y2="100.50" stroke="#000" stroke-width="0.8" stroke-opacity="0.08"/>
<line x1="298.25" y1="87.60" x2="298.25" y2="100.50" stroke="#000" stroke-width="0.8" stroke-opacity="0.08"/>
<line x1="357.85" y1="87.60" x2="357.85" y2="100.50" stroke="#000" stroke-width="0.8" stroke-opacity="0.08"/>
<line x1="328.90" y1="87.60" x2="328.90" y2="100.50" stroke="#000" stroke-width="0.8" stroke-opacity="0.08"/>
<line x1="304.49" y1="87.60" x2="304.49" y2="100.50" stroke="#000" stroke-width="0.8" stroke-opacity="0.08"/>
<line x1="328.04" y1="87.60" x2="328.04" y2="100.50" stroke="#000" stroke-width="0.8" stroke-opacity="0.08"/>
<line x1="296.19" y1="87.60" x2="296.19" y2="100.50" stroke="#000" stroke-width="0.8" stroke-opacity="0.08"/>
<line x1="345.42" y1="87.60" x2="345.42" y2="100.50" stroke="#000" stroke-width="0.8" stroke-opacity="0.08"/>
<line x1="333.13" y1="87.60" x2="333.13" y2="100.50" stroke="#000" stroke-width="0.8" stroke-opacity="0.08"/>
<line x1="299.98" y1="87.60" x2="299.98" y2="100.50" stroke="#000" stroke-width="0.8" stroke-opacity="0.08"/>
<line x1="310.58" y1="87.60" x2="310.58" y2="100.50" stroke="#000" stroke-width="0.8" stroke-opacity="0.08"/>
<line x1="330.72" y1="87.60" x2="330.72" y2="100.50" stroke="#000" stroke-width="0.8" stroke-opacity="0.08"/>
<line x1="347.11" y1="87.60" x2="347.11" y2="100.50" stroke="#000" stroke-width="0.8" stroke-opacity="0.08"/>
<line x1="314.47" y1="87.60" x2="314.47" y2="100.50" stroke="#000" stroke-width="0.8" stroke-opacity="0.08"/>
<line x1="299.70" y1="87.60" x2="299.70" y2="100.50" stroke="#000" stroke-width="0.8" stroke-opacity="0.08"/>
<line x1="320.40" y1="87.60" x2="320.40" y2="100.50" stroke="#000" stroke-width="0.8" stroke-opacity="0.08"/>
<line x1="295.58" y1="87.60" x2="295.58" y2="100.50" stroke="#000" stroke-width="0.8" stroke-opacity="0.08"/>
<line x1="319.02" y1="87.60" x2="319.02" y2="100.50" stroke="#000" stroke-width="0.8" stroke-opacity="0.08"/>
<line x1="352.32" y1="87.60" x2="352.32" y2="100.50" stroke="#000" stroke-width="0.8" stroke-opacity="0.08"/>
<line x1="286.90" y1="87.60" x2="286.90" y2="100.50" stroke="#000" stroke-width="0.6" stroke-opacity="0.25"/>
<line x1="294.60" y1="87.60" x2="294.60" y2="100.50" stroke="#000" stroke-width="0.6" stroke-opacity="0.3"/>
<line x1="295.30" y1="87.60" x2="295.30" y2="100.50" stroke="#000" stroke-width="0.6" stroke-opacity="0.3"/>
<line x1="296.60" y1="87.60" x2="296.60" y2="100.50" stroke="#000" stroke-width="0.6" stroke-opacity="0.25"/>
<line x1="299.40" y1="87.60" x2="299.40" y2="100.50" stroke="#000" stroke-width="0.6" stroke-opacity="0.5"/>
<line x1="301.40" y1="87.60" x2="301.40" y2="100.50" stroke="#000" stroke-width="0.6" stroke-opacity="0.25"/>
<line x1="304.30" y1="87.60" x2="304.30" y2="100.50" stroke="#000" stroke-width="0.6" stroke-opacity="0.7"/>
<line x1="305.00" y1="87.60" x2="305.00" y2="100.50" stroke="#000" stroke-width="0.6" stroke-opacity="0.6"/>
<line x1="305.80" y1="87.60" x2="305.80" y2="100.50" stroke="#000" stroke-width="0.6" stroke-opacity="0.7"/>
<line x1="306.60" y1="87.60" x2="306.60" y2="100.50" stroke="#000" stroke-width="0.6" stroke-opacity="0.6"/>
<line x1="308.70" y1="87.60" x2="308.70" y2="100.50" stroke="#000" stroke-width="0.6" stroke-opacity="0.3"/>
<line x1="310.40" y1="87.60" x2="310.40" y2="100.50" stroke="#000" stroke-width="0.6" stroke-opacity="0.45"/>
<line x1="311.10" y1="87.60" x2="311.10" y2="100.50" stroke="#000" stroke-width="0.6" stroke-opacity="0.45"/>
<line x1="315.20" y1="87.60" x2="315.20" y2="100.50" stroke="#000" stroke-width="0.6" stroke-opacity="0.7"/>
<line x1="316.00" y1="87.60" x2="316.00" y2="100.50" stroke="#000" stroke-width="0.6" stroke-opacity="0.8"/>
<line x1="316.80" y1="87.60" x2="316.80" y2="100.50" stroke="#000" stroke-width="0.6" stroke-opacity="0.6"/>
<line x1="317.60" y1="87.60" x2="317.60" y2="100.50" stroke="#000" stroke-width="0.6" stroke-opacity="0.7"/>
<line x1="319.60" y1="87.60" x2="319.60" y2="100.50" stroke="#000" stroke-width="0.6" stroke-opacity="0.8"/>
<line x1="320.50" y1="87.60" x2="320.50" y2="100.50" stroke="#000" stroke-width="0.6" stroke-opacity="0.8"/>
<line x1="322.80" y1="87.60" x2="322.80" y2="100.50" stroke="#000" stroke-width="0.6" stroke-opacity="0.3"/>
<line x1="324.80" y1="87.60" x2="324.80" y2="100.50" stroke="#000" stroke-width="0.6" stroke-opacity="0.3"/>
<line x1="329.00" y1="87.60" x2="329.00" y2="100.50" stroke="#000" stroke-width="0.6" stroke-opacity="0.5"/>
<line x1="329.80" y1="87.60" x2="329.80" y2="100.50" stroke="#000" stroke-width="0.6" stroke-opacity="0.55"/>
<line x1="330.60" y1="87.60" x2="330.60" y2="100.50" stroke="#000" stroke-width="0.6" stroke-opacity="0.5"/>
<line x1="331.40" y1="87.60" x2="331.40" y2="100.50" stroke="#000" stroke-width="0.6" stroke-opacity="0.6"/>
<line x1="332.40" y1="87.60" x2="332.40" y2="100.50" stroke="#000" stroke-width="0.6" stroke-opacity="0.5"/>
<line x1="334.90" y1="87.60" x2="334.90" y2="100.50" stroke="#000" stroke-width="0.6" stroke-opacity="0.45"/>
<line x1="336.50" y1="87.60" x2="336.50" y2="100.50" stroke="#000" stroke-width="0.6" stroke-opacity="0.8"/>
<line x1="337.40" y1="87.60" x2="337.40" y2="100.50" stroke="#000" stroke-width="0.6" stroke-opacity="0.8"/>
<line x1="338.00" y1="87.60" x2="338.00" y2="100.50" stroke="#000" stroke-width="0.6" stroke-opacity="0.7"/>
<line x1="339.80" y1="87.60" x2="339.80" y2="100.50" stroke="#000" stroke-width="0.6" stroke-opacity="0.35"/>
<line x1="341.80" y1="87.60" x2="341.80" y2="100.50" stroke="#000" stroke-width="0.6" stroke-opacity="0.5"/>
<line x1="343.20" y1="87.60" x2="343.20" y2="100.50" stroke="#000" stroke-width="0.6" stroke-opacity="0.8"/>
<line x1="344.20" y1="87.60" x2="344.20" y2="100.50" stroke="#000" stroke-width="0.6" stroke-opacity="0.8"/>
<line x1="346.20" y1="87.60" x2="346.20" y2="100.50" stroke="#000" stroke-width="0.6" stroke-opacity="0.65"/>
<line x1="347.00" y1="87.60" x2="347.00" y2="100.50" stroke="#000" stroke-width="0.6" stroke-opacity="0.6"/>
<line x1="349.00" y1="87.60" x2="349.00" y2="100.50" stroke="#000" stroke-width="0.6" stroke-opacity="0.5"/>
<line x1="349.80" y1="87.60" x2="349.80" y2="100.50" stroke="#000" stroke-width="0.6" stroke-opacity="0.5"/>
<line x1="351.00" y1="87.60" x2="351.00" y2="100.50" stroke="#000" stroke-width="0.6" stroke-opacity="0.8"/>
<line x1="351.90" y1="87.60" x2="351.90" y2="100.50" stroke="#000" stroke-width="0.6" stroke-opacity="0.85"/>
<line x1="352.80" y1="87.60" x2="352.80" y2="100.50" stroke="#000" stroke-width="0.6" stroke-opacity="0.9"/>
<line x1="353.60" y1="87.60" x2="353.60" y2="100.50" stroke="#000" stroke-width="0.6" stroke-opacity="0.8"/>
<line x1="355.50" y1="87.60" x2="355.50" y2="100.50" stroke="#000" stroke-width="0.6" stroke-opacity="0.85"/>
<line x1="357.20" y1="87.60" x2="357.20" y2="100.50" stroke="#000" stroke-width="0.6" stroke-opacity="0.5"/>
<line x1="358.80" y1="87.60" x2="358.80" y2="100.50" stroke="#000" stroke-width="0.6" stroke-opacity="0.55"/>
<line x1="359.40" y1="87.60" x2="359.40" y2="100.50" stroke="#000" stroke-width="0.6" stroke-opacity="0.5"/>
<defs><linearGradient id="gB" x1="0" x2="1" y1="0" y2="0"><stop offset="0" stop-color="#e0141c"/><stop offset="0.22" stop-color="#e42830"/><stop offset="0.42" stop-color="#ec4c5c"/><stop offset="0.44" stop-color="#f0a0c8"/><stop offset="0.55" stop-color="#f2b8dc"/><stop offset="0.58" stop-color="#d4d4f8"/><stop offset="0.73" stop-color="#b4b4f2"/><stop offset="0.76" stop-color="#6a6aea"/><stop offset="0.88" stop-color="#3a3ad8"/><stop offset="0.9" stop-color="#0a0ac0"/><stop offset="1" stop-color="#00009a"/></linearGradient></defs>
<rect x="282.00" y="100.50" width="78.20" height="2.50" fill="url(#gB)" />
<path d="M282.20,49.60 L284.00,51.50 L285.70,52.70 L287.50,53.40 L290.00,55.50 L295.20,59.40 L300.00,61.80 L304.80,64.00 L307.70,64.00 L312.00,66.50 L316.30,69.00 L322.00,71.80 L326.00,74.80 L329.70,78.50 L333.00,81.50 L335.50,83.30 L339.30,83.90 L342.20,85.20 L345.00,84.00 L347.00,82.40 L349.50,79.50 L351.80,75.60 L353.20,70.00 L353.70,68.00 L355.60,63.20 L356.50,59.00 L357.50,57.40 L359.00,54.50 L360.00,52.70" fill="none" stroke="#1ef01e" stroke-width="1.1" stroke-linejoin="round"/>
<line x1="282.00" y1="48.50" x2="282.00" y2="103.40" stroke="#111" stroke-width="1.1" />
<line x1="281.50" y1="103.40" x2="361.70" y2="103.40" stroke="#111" stroke-width="1.1" />
<line x1="279.20" y1="53.30" x2="282.00" y2="53.30" stroke="#111" stroke-width="0.8" />
<text transform="translate(275.80,55.45) scale(0.1,0.1000)" font-size="60.0" text-anchor="end" fill="#222" stroke="#222" stroke-width="0.8">0.0</text>
<line x1="279.20" y1="60.13" x2="282.00" y2="60.13" stroke="#111" stroke-width="0.8" />
<text transform="translate(275.80,62.28) scale(0.1,0.1000)" font-size="60.0" text-anchor="end" fill="#222" stroke="#222" stroke-width="0.8">&#8722;0.1</text>
<line x1="279.20" y1="66.96" x2="282.00" y2="66.96" stroke="#111" stroke-width="0.8" />
<text transform="translate(275.80,69.11) scale(0.1,0.1000)" font-size="60.0" text-anchor="end" fill="#222" stroke="#222" stroke-width="0.8">&#8722;0.2</text>
<line x1="279.20" y1="73.79" x2="282.00" y2="73.79" stroke="#111" stroke-width="0.8" />
<text transform="translate(275.80,75.94) scale(0.1,0.1000)" font-size="60.0" text-anchor="end" fill="#222" stroke="#222" stroke-width="0.8">&#8722;0.3</text>
<line x1="279.20" y1="80.62" x2="282.00" y2="80.62" stroke="#111" stroke-width="0.8" />
<text transform="translate(275.80,82.77) scale(0.1,0.1000)" font-size="60.0" text-anchor="end" fill="#222" stroke="#222" stroke-width="0.8">&#8722;0.4</text>
<text x="284.70" y="78.00" font-size="6.3" text-anchor="start" fill="#222" font-weight="normal" font-style="normal"  stroke="#222" stroke-width="0.08">NES = &#8722;1.42</text>
<text x="284.70" y="85.40" font-size="6.3" fill="#222" stroke="#222" stroke-width="0.08"><tspan font-style="italic">P</tspan> = 0.0</text>
<text x="276.30" y="114.30" font-size="6.9" text-anchor="start" fill="#222" font-weight="normal" font-style="normal"  textLength="92.7" lengthAdjust="spacingAndGlyphs" stroke="#222" stroke-width="0.1">Panobinostat (positively correlated)</text>
<text transform="translate(258.20,69.30) rotate(-90)" font-size="8.6" text-anchor="middle" fill="#222" stroke="#222" stroke-width="0.3" textLength="64.5" lengthAdjust="spacingAndGlyphs">Enrichment score (ES)</text>
<text x="390.10" y="14.90" font-size="10.4" text-anchor="start" fill="#111" font-weight="bold" font-style="normal" stroke="#111" stroke-width="0.14" >C</text>
<text x="417.60" y="44.20" font-size="6.9" text-anchor="start" fill="#222" font-weight="normal" font-style="normal" stroke="#222" stroke-width="0.14" >KEGG_Pyruvate metabolism</text>
<line x1="421.20" y1="50.75" x2="502.30" y2="50.75" stroke="#ececec" stroke-width="0.5" />
<line x1="421.20" y1="56.64" x2="502.30" y2="56.64" stroke="#ececec" stroke-width="0.5" />
<line x1="421.20" y1="62.53" x2="502.30" y2="62.53" stroke="#ececec" stroke-width="0.5" />
<line x1="421.20" y1="68.42" x2="502.30" y2="68.42" stroke="#ececec" stroke-width="0.5" />
<line x1="421.20" y1="74.31" x2="502.30" y2="74.31" stroke="#ececec" stroke-width="0.5" />
<line x1="421.20" y1="80.20" x2="502.30" y2="80.20" stroke="#ececec" stroke-width="0.5" />
<line x1="421.20" y1="86.09" x2="502.30" y2="86.09" stroke="#ececec" stroke-width="0.5" />
<line x1="434.72" y1="48.50" x2="434.72" y2="86.60" stroke="#ececec" stroke-width="0.5" />
<line x1="448.23" y1="48.50" x2="448.23" y2="86.60" stroke="#ececec" stroke-width="0.5" />
<line x1="461.75" y1="48.50" x2="461.75" y2="86.60" stroke="#ececec" stroke-width="0.5" />
<line x1="475.27" y1="48.50" x2="475.27" y2="86.60" stroke="#ececec" stroke-width="0.5" />
<line x1="488.78" y1="48.50" x2="488.78" y2="86.60" stroke="#ececec" stroke-width="0.5" />
<line x1="462.65" y1="87.60" x2="462.65" y2="100.50" stroke="#000" stroke-width="0.8" stroke-opacity="0.08"/>
<line x1="497.25" y1="87.60" x2="497.25" y2="100.50" stroke="#000" stroke-width="0.8" stroke-opacity="0.08"/>
<line x1="492.53" y1="87.60" x2="492.53" y2="100.50" stroke="#000" stroke-width="0.8" stroke-opacity="0.08"/>
<line x1="449.75" y1="87.60" x2="449.75" y2="100.50" stroke="#000" stroke-width="0.8" stroke-opacity="0.08"/>
<line x1="494.14" y1="87.60" x2="494.14" y2="100.50" stroke="#000" stroke-width="0.8" stroke-opacity="0.08"/>
<line x1="480.12" y1="87.60" x2="480.12" y2="100.50" stroke="#000" stroke-width="0.8" stroke-opacity="0.08"/>
<line x1="431.75" y1="87.60" x2="431.75" y2="100.50" stroke="#000" stroke-width="0.8" stroke-opacity="0.08"/>
<line x1="498.71" y1="87.60" x2="498.71" y2="100.50" stroke="#000" stroke-width="0.8" stroke-opacity="0.08"/>
<line x1="453.26" y1="87.60" x2="453.26" y2="100.50" stroke="#000" stroke-width="0.8" stroke-opacity="0.08"/>
<line x1="457.28" y1="87.60" x2="457.28" y2="100.50" stroke="#000" stroke-width="0.8" stroke-opacity="0.08"/>
<line x1="466.04" y1="87.60" x2="466.04" y2="100.50" stroke="#000" stroke-width="0.8" stroke-opacity="0.08"/>
<line x1="477.09" y1="87.60" x2="477.09" y2="100.50" stroke="#000" stroke-width="0.8" stroke-opacity="0.08"/>
<line x1="441.36" y1="87.60" x2="441.36" y2="100.50" stroke="#000" stroke-width="0.8" stroke-opacity="0.08"/>
<line x1="483.23" y1="87.60" x2="483.23" y2="100.50" stroke="#000" stroke-width="0.8" stroke-opacity="0.08"/>
<line x1="491.88" y1="87.60" x2="491.88" y2="100.50" stroke="#000" stroke-width="0.8" stroke-opacity="0.08"/>
<line x1="472.10" y1="87.60" x2="472.10" y2="100.50" stroke="#000" stroke-width="0.8" stroke-opacity="0.08"/>
<line x1="489.68" y1="87.60" x2="489.68" y2="100.50" stroke="#000" stroke-width="0.8" stroke-opacity="0.08"/>
<line x1="479.40" y1="87.60" x2="479.40" y2="100.50" stroke="#000" stroke-width="0.8" stroke-opacity="0.08"/>
<line x1="491.45" y1="87.60" x2="491.45" y2="100.50" stroke="#000" stroke-width="0.8" stroke-opacity="0.08"/>
<line x1="446.80" y1="87.60" x2="446.80" y2="100.50" stroke="#000" stroke-width="0.8" stroke-opacity="0.08"/>
<line x1="425.70" y1="87.60" x2="425.70" y2="100.50" stroke="#000" stroke-width="0.6" stroke-opacity="0.3"/>
<line x1="431.30" y1="87.60" x2="431.30" y2="100.50" stroke="#000" stroke-width="0.6" stroke-opacity="0.5"/>
<line x1="448.70" y1="87.60" x2="448.70" y2="100.50" stroke="#000" stroke-width="0.6" stroke-opacity="0.35"/>
<line x1="455.50" y1="87.60" x2="455.50" y2="100.50" stroke="#000" stroke-width="0.6" stroke-opacity="0.25"/>
<line x1="458.00" y1="87.60" x2="458.00" y2="100.50" stroke="#000" stroke-width="0.6" stroke-opacity="0.25"/>
<line x1="460.40" y1="87.60" x2="460.40" y2="100.50" stroke="#000" stroke-width="0.6" stroke-opacity="0.25"/>
<line x1="460.90" y1="87.60" x2="460.90" y2="100.50" stroke="#000" stroke-width="0.6" stroke-opacity="0.25"/>
<line x1="462.70" y1="87.60" x2="462.70" y2="100.50" stroke="#000" stroke-width="0.6" stroke-opacity="0.25"/>
<line x1="464.00" y1="87.60" x2="464.00" y2="100.50" stroke="#000" stroke-width="0.6" stroke-opacity="0.25"/>
<line x1="466.40" y1="87.60" x2="466.40" y2="100.50" stroke="#000" stroke-width="0.6" stroke-opacity="0.5"/>
<line x1="468.80" y1="87.60" x2="468.80" y2="100.50" stroke="#000" stroke-width="0.6" stroke-opacity="0.35"/>
<line x1="472.40" y1="87.60" x2="472.40" y2="100.50" stroke="#000" stroke-width="0.6" stroke-opacity="0.45"/>
<line x1="473.30" y1="87.60" x2="473.30" y2="100.50" stroke="#000" stroke-width="0.6" stroke-opacity="0.45"/>
<line x1="477.30" y1="87.60" x2="477.30" y2="100.50" stroke="#000" stroke-width="0.6" stroke-opacity="0.5"/>
<line x1="480.50" y1="87.60" x2="480.50" y2="100.50" stroke="#000" stroke-width="0.6" stroke-opacity="0.3"/>
<line x1="486.50" y1="87.60" x2="486.50" y2="100.50" stroke="#000" stroke-width="0.6" stroke-opacity="0.3"/>
<line x1="489.20" y1="87.60" x2="489.20" y2="100.50" stroke="#000" stroke-width="0.6" stroke-opacity="0.5"/>
<line x1="493.60" y1="87.60" x2="493.60" y2="100.50" stroke="#000" stroke-width="0.6" stroke-opacity="0.45"/>
<line x1="494.50" y1="87.60" x2="494.50" y2="100.50" stroke="#000" stroke-width="0.6" stroke-opacity="0.45"/>
<line x1="496.30" y1="87.60" x2="496.30" y2="100.50" stroke="#000" stroke-width="0.6" stroke-opacity="0.45"/>
<line x1="497.20" y1="87.60" x2="497.20" y2="100.50" stroke="#000" stroke-width="0.6" stroke-opacity="0.45"/>
<line x1="498.90" y1="87.60" x2="498.90" y2="100.50" stroke="#000" stroke-width="0.6" stroke-opacity="0.45"/>
<line x1="499.80" y1="87.60" x2="499.80" y2="100.50" stroke="#000" stroke-width="0.6" stroke-opacity="0.45"/>
<line x1="500.70" y1="87.60" x2="500.70" y2="100.50" stroke="#000" stroke-width="0.6" stroke-opacity="0.45"/>
<line x1="501.60" y1="87.60" x2="501.60" y2="100.50" stroke="#000" stroke-width="0.6" stroke-opacity="0.45"/>
<defs><linearGradient id="gC" x1="0" x2="1" y1="0" y2="0"><stop offset="0" stop-color="#e0141c"/><stop offset="0.22" stop-color="#e42830"/><stop offset="0.42" stop-color="#ec4c5c"/><stop offset="0.44" stop-color="#f0a0c8"/><stop offset="0.55" stop-color="#f2b8dc"/><stop offset="0.58" stop-color="#d4d4f8"/><stop offset="0.73" stop-color="#b4b4f2"/><stop offset="0.76" stop-color="#6a6aea"/><stop offset="0.88" stop-color="#3a3ad8"/><stop offset="0.9" stop-color="#0a0ac0"/><stop offset="1" stop-color="#00009a"/></linearGradient></defs>
<rect x="421.20" y="100.50" width="81.10" height="2.50" fill="url(#gC)" />
<path d="M421.40,50.70 L423.50,52.20 L425.70,53.60 L427.60,51.70 L429.90,53.60 L431.80,49.40 L440.00,55.50 L448.70,61.30 L457.00,65.50 L465.90,69.90 L472.00,74.00 L477.40,78.50 L483.00,81.00 L487.90,83.30 L489.30,84.80 L490.80,83.30 L492.70,85.20 L495.60,80.40 L498.50,72.80 L500.40,64.20 L501.50,57.00 L502.30,50.40" fill="none" stroke="#1ef01e" stroke-width="1.1" stroke-linejoin="round"/>
<line x1="421.20" y1="48.50" x2="421.20" y2="103.40" stroke="#111" stroke-width="1.1" />
<line x1="420.70" y1="103.40" x2="503.80" y2="103.40" stroke="#111" stroke-width="1.1" />
<line x1="418.40" y1="50.75" x2="421.20" y2="50.75" stroke="#111" stroke-width="0.8" />
<text transform="translate(416.00,52.50) scale(0.1,0.0780)" font-size="65.0" text-anchor="end" fill="#222" stroke="#222" stroke-width="0.8">0.0</text>
<line x1="418.40" y1="56.64" x2="421.20" y2="56.64" stroke="#111" stroke-width="0.8" />
<text transform="translate(416.00,58.39) scale(0.1,0.0780)" font-size="65.0" text-anchor="end" fill="#222" stroke="#222" stroke-width="0.8">&#8722;0.1</text>
<line x1="418.40" y1="62.53" x2="421.20" y2="62.53" stroke="#111" stroke-width="0.8" />
<text transform="translate(416.00,64.28) scale(0.1,0.0780)" font-size="65.0" text-anchor="end" fill="#222" stroke="#222" stroke-width="0.8">&#8722;0.2</text>
<line x1="418.40" y1="68.42" x2="421.20" y2="68.42" stroke="#111" stroke-width="0.8" />
<text transform="translate(416.00,70.17) scale(0.1,0.0780)" font-size="65.0" text-anchor="end" fill="#222" stroke="#222" stroke-width="0.8">&#8722;0.3</text>
<line x1="418.40" y1="74.31" x2="421.20" y2="74.31" stroke="#111" stroke-width="0.8" />
<text transform="translate(416.00,76.06) scale(0.1,0.0780)" font-size="65.0" text-anchor="end" fill="#222" stroke="#222" stroke-width="0.8">&#8722;0.4</text>
<line x1="418.40" y1="80.20" x2="421.20" y2="80.20" stroke="#111" stroke-width="0.8" />
<text transform="translate(416.00,81.95) scale(0.1,0.0780)" font-size="65.0" text-anchor="end" fill="#222" stroke="#222" stroke-width="0.8">&#8722;0.5</text>
<line x1="418.40" y1="86.09" x2="421.20" y2="86.09" stroke="#111" stroke-width="0.8" />
<text transform="translate(416.00,87.84) scale(0.1,0.0780)" font-size="65.0" text-anchor="end" fill="#222" stroke="#222" stroke-width="0.8">&#8722;0.6</text>
<line x1="421.40" y1="103.40" x2="421.40" y2="105.60" stroke="#111" stroke-width="0.8" />
<line x1="461.30" y1="103.40" x2="461.30" y2="105.60" stroke="#111" stroke-width="0.8" />
<line x1="466.40" y1="103.40" x2="466.40" y2="105.60" stroke="#111" stroke-width="0.8" />
<line x1="474.60" y1="103.40" x2="474.60" y2="105.60" stroke="#111" stroke-width="0.8" />
<line x1="488.10" y1="103.40" x2="488.10" y2="105.60" stroke="#111" stroke-width="0.8" />
<line x1="501.20" y1="103.40" x2="501.20" y2="105.60" stroke="#111" stroke-width="0.8" />
<text x="423.40" y="77.40" font-size="6.3" text-anchor="start" fill="#222" font-weight="normal" font-style="normal"  stroke="#222" stroke-width="0.08">NES = &#8722;1.65</text>
<text x="423.40" y="84.80" font-size="6.3" fill="#222" stroke="#222" stroke-width="0.08"><tspan font-style="italic">P</tspan> = 0.0</text>
<text x="415.80" y="113.90" font-size="6.9" text-anchor="start" fill="#222" font-weight="normal" font-style="normal"  textLength="93.7" lengthAdjust="spacingAndGlyphs" stroke="#222" stroke-width="0.1">Panobinostat (positively correlated)</text>
<text transform="translate(398.00,69.00) rotate(-90)" font-size="8.6" text-anchor="middle" fill="#222" stroke="#222" stroke-width="0.3" textLength="61" lengthAdjust="spacingAndGlyphs">Enrichment score (ES)</text>
<text x="6.50" y="197.90" font-size="10.4" text-anchor="start" fill="#111" font-weight="bold" font-style="normal" stroke="#111" stroke-width="0.14" >D</text>
<text x="28.90" y="222.50" font-size="6.95" text-anchor="start" fill="#222" font-weight="normal" font-style="normal" stroke="#222" stroke-width="0.14" >KEGG_Citrate cycle_TCA cycle</text>
<line x1="37.60" y1="229.60" x2="117.50" y2="229.60" stroke="#ececec" stroke-width="0.5" />
<line x1="37.60" y1="234.24" x2="117.50" y2="234.24" stroke="#ececec" stroke-width="0.5" />
<line x1="37.60" y1="238.88" x2="117.50" y2="238.88" stroke="#ececec" stroke-width="0.5" />
<line x1="37.60" y1="243.52" x2="117.50" y2="243.52" stroke="#ececec" stroke-width="0.5" />
<line x1="37.60" y1="248.16" x2="117.50" y2="248.16" stroke="#ececec" stroke-width="0.5" />
<line x1="37.60" y1="252.80" x2="117.50" y2="252.80" stroke="#ececec" stroke-width="0.5" />
<line x1="37.60" y1="257.44" x2="117.50" y2="257.44" stroke="#ececec" stroke-width="0.5" />
<line x1="37.60" y1="262.08" x2="117.50" y2="262.08" stroke="#ececec" stroke-width="0.5" />
<line x1="50.92" y1="227.50" x2="50.92" y2="264.60" stroke="#ececec" stroke-width="0.5" />
<line x1="64.23" y1="227.50" x2="64.23" y2="264.60" stroke="#ececec" stroke-width="0.5" />
<line x1="77.55" y1="227.50" x2="77.55" y2="264.60" stroke="#ececec" stroke-width="0.5" />
<line x1="90.87" y1="227.50" x2="90.87" y2="264.60" stroke="#ececec" stroke-width="0.5" />
<line x1="104.18" y1="227.50" x2="104.18" y2="264.60" stroke="#ececec" stroke-width="0.5" />
<line x1="88.39" y1="265.60" x2="88.39" y2="277.90" stroke="#000" stroke-width="0.8" stroke-opacity="0.08"/>
<line x1="105.76" y1="265.60" x2="105.76" y2="277.90" stroke="#000" stroke-width="0.8" stroke-opacity="0.08"/>
<line x1="114.36" y1="265.60" x2="114.36" y2="277.90" stroke="#000" stroke-width="0.8" stroke-opacity="0.08"/>
<line x1="71.90" y1="265.60" x2="71.90" y2="277.90" stroke="#000" stroke-width="0.8" stroke-opacity="0.08"/>
<line x1="103.42" y1="265.60" x2="103.42" y2="277.90" stroke="#000" stroke-width="0.8" stroke-opacity="0.08"/>
<line x1="99.76" y1="265.60" x2="99.76" y2="277.90" stroke="#000" stroke-width="0.8" stroke-opacity="0.08"/>
<line x1="97.18" y1="265.60" x2="97.18" y2="277.90" stroke="#000" stroke-width="0.8" stroke-opacity="0.08"/>
<line x1="56.02" y1="265.60" x2="56.02" y2="277.90" stroke="#000" stroke-width="0.8" stroke-opacity="0.08"/>
<line x1="45.73" y1="265.60" x2="45.73" y2="277.90" stroke="#000" stroke-width="0.8" stroke-opacity="0.08"/>
<line x1="78.96" y1="265.60" x2="78.96" y2="277.90" stroke="#000" stroke-width="0.8" stroke-opacity="0.08"/>
<line x1="102.26" y1="265.60" x2="102.26" y2="277.90" stroke="#000" stroke-width="0.8" stroke-opacity="0.08"/>
<line x1="68.93" y1="265.60" x2="68.93" y2="277.90" stroke="#000" stroke-width="0.8" stroke-opacity="0.08"/>
<line x1="87.04" y1="265.60" x2="87.04" y2="277.90" stroke="#000" stroke-width="0.8" stroke-opacity="0.08"/>
<line x1="58.30" y1="265.60" x2="58.30" y2="277.90" stroke="#000" stroke-width="0.6" stroke-opacity="0.3"/>
<line x1="77.00" y1="265.60" x2="77.00" y2="277.90" stroke="#000" stroke-width="0.6" stroke-opacity="0.25"/>
<line x1="78.50" y1="265.60" x2="78.50" y2="277.90" stroke="#000" stroke-width="0.6" stroke-opacity="0.2"/>
<line x1="83.40" y1="265.60" x2="83.40" y2="277.90" stroke="#000" stroke-width="0.6" stroke-opacity="0.3"/>
<line x1="85.70" y1="265.60" x2="85.70" y2="277.90" stroke="#000" stroke-width="0.6" stroke-opacity="0.3"/>
<line x1="88.50" y1="265.60" x2="88.50" y2="277.90" stroke="#000" stroke-width="0.6" stroke-opacity="0.3"/>
<line x1="92.00" y1="265.60" x2="92.00" y2="277.90" stroke="#000" stroke-width="0.6" stroke-opacity="0.3"/>
<line x1="94.20" y1="265.60" x2="94.20" y2="277.90" stroke="#000" stroke-width="0.6" stroke-opacity="0.3"/>
<line x1="99.50" y1="265.60" x2="99.50" y2="277.90" stroke="#000" stroke-width="0.6" stroke-opacity="0.45"/>
<line x1="104.50" y1="265.60" x2="104.50" y2="277.90" stroke="#000" stroke-width="0.6" stroke-opacity="0.5"/>
<line x1="106.30" y1="265.60" x2="106.30" y2="277.90" stroke="#000" stroke-width="0.6" stroke-opacity="0.45"/>
<line x1="109.00" y1="265.60" x2="109.00" y2="277.90" stroke="#000" stroke-width="0.6" stroke-opacity="0.6"/>
<line x1="110.00" y1="265.60" x2="110.00" y2="277.90" stroke="#000" stroke-width="0.6" stroke-opacity="0.6"/>
<line x1="111.50" y1="265.60" x2="111.50" y2="277.90" stroke="#000" stroke-width="0.6" stroke-opacity="0.6"/>
<line x1="112.80" y1="265.60" x2="112.80" y2="277.90" stroke="#000" stroke-width="0.6" stroke-opacity="0.65"/>
<line x1="114.00" y1="265.60" x2="114.00" y2="277.90" stroke="#000" stroke-width="0.6" stroke-opacity="0.6"/>
<line x1="115.30" y1="265.60" x2="115.30" y2="277.90" stroke="#000" stroke-width="0.6" stroke-opacity="0.55"/>
<defs><linearGradient id="gD" x1="0" x2="1" y1="0" y2="0"><stop offset="0" stop-color="#e0141c"/><stop offset="0.22" stop-color="#e42830"/><stop offset="0.42" stop-color="#ec4c5c"/><stop offset="0.44" stop-color="#f0a0c8"/><stop offset="0.55" stop-color="#f2b8dc"/><stop offset="0.58" stop-color="#d4d4f8"/><stop offset="0.73" stop-color="#b4b4f2"/><stop offset="0.76" stop-color="#6a6aea"/><stop offset="0.88" stop-color="#3a3ad8"/><stop offset="0.9" stop-color="#0a0ac0"/><stop offset="1" stop-color="#00009a"/></linearGradient></defs>
<rect x="37.60" y="277.90" width="79.90" height="3.10" fill="url(#gD)" />
<path d="M37.40,229.60 L45.00,234.20 L52.00,237.80 L57.70,241.00 L58.70,240.40 L60.00,241.60 L72.60,248.10 L85.00,255.30 L98.10,262.60 L100.00,263.40 L102.30,263.60 L104.50,263.20 L106.60,262.60 L109.80,259.40 L111.90,251.90 L114.00,243.40 L114.60,236.00 L115.10,229.60 L117.20,230.20" fill="none" stroke="#1ef01e" stroke-width="1.1" stroke-linejoin="round"/>
<line x1="37.60" y1="227.50" x2="37.60" y2="281.40" stroke="#111" stroke-width="1.1" />
<line x1="37.10" y1="281.40" x2="119.00" y2="281.40" stroke="#111" stroke-width="1.1" />
<line x1="34.80" y1="229.60" x2="37.60" y2="229.60" stroke="#111" stroke-width="0.8" />
<text transform="translate(31.80,231.30) scale(0.1,0.0800)" font-size="62.0" text-anchor="end" fill="#222" stroke="#222" stroke-width="0.8">0.0</text>
<line x1="34.80" y1="234.24" x2="37.60" y2="234.24" stroke="#111" stroke-width="0.8" />
<text transform="translate(31.80,235.94) scale(0.1,0.0800)" font-size="62.0" text-anchor="end" fill="#222" stroke="#222" stroke-width="0.8">&#8722;0.1</text>
<line x1="34.80" y1="238.88" x2="37.60" y2="238.88" stroke="#111" stroke-width="0.8" />
<text transform="translate(31.80,240.58) scale(0.1,0.0800)" font-size="62.0" text-anchor="end" fill="#222" stroke="#222" stroke-width="0.8">&#8722;0.2</text>
<line x1="34.80" y1="243.52" x2="37.60" y2="243.52" stroke="#111" stroke-width="0.8" />
<text transform="translate(31.80,245.22) scale(0.1,0.0800)" font-size="62.0" text-anchor="end" fill="#222" stroke="#222" stroke-width="0.8">&#8722;0.3</text>
<line x1="34.80" y1="248.16" x2="37.60" y2="248.16" stroke="#111" stroke-width="0.8" />
<text transform="translate(31.80,249.86) scale(0.1,0.0800)" font-size="62.0" text-anchor="end" fill="#222" stroke="#222" stroke-width="0.8">&#8722;0.4</text>
<line x1="34.80" y1="252.80" x2="37.60" y2="252.80" stroke="#111" stroke-width="0.8" />
<text transform="translate(31.80,254.50) scale(0.1,0.0800)" font-size="62.0" text-anchor="end" fill="#222" stroke="#222" stroke-width="0.8">&#8722;0.5</text>
<line x1="34.80" y1="257.44" x2="37.60" y2="257.44" stroke="#111" stroke-width="0.8" />
<text transform="translate(31.80,259.14) scale(0.1,0.0800)" font-size="62.0" text-anchor="end" fill="#222" stroke="#222" stroke-width="0.8">&#8722;0.6</text>
<line x1="34.80" y1="262.08" x2="37.60" y2="262.08" stroke="#111" stroke-width="0.8" />
<text transform="translate(31.80,263.78) scale(0.1,0.0800)" font-size="62.0" text-anchor="end" fill="#222" stroke="#222" stroke-width="0.8">&#8722;0.7</text>
<line x1="37.70" y1="281.40" x2="37.70" y2="283.60" stroke="#111" stroke-width="0.8" />
<line x1="58.30" y1="281.40" x2="58.30" y2="283.60" stroke="#111" stroke-width="0.8" />
<line x1="77.50" y1="281.40" x2="77.50" y2="283.60" stroke="#111" stroke-width="0.8" />
<line x1="83.00" y1="281.40" x2="83.00" y2="283.60" stroke="#111" stroke-width="0.8" />
<line x1="90.30" y1="281.40" x2="90.30" y2="283.60" stroke="#111" stroke-width="0.8" />
<line x1="104.00" y1="281.40" x2="104.00" y2="283.60" stroke="#111" stroke-width="0.8" />
<line x1="117.40" y1="281.40" x2="117.40" y2="283.60" stroke="#111" stroke-width="0.8" />
<text x="40.20" y="256.60" font-size="6.3" text-anchor="start" fill="#222" font-weight="normal" font-style="normal"  stroke="#222" stroke-width="0.08">NES = &#8722;1.37</text>
<text x="40.20" y="264.00" font-size="6.3" fill="#222" stroke="#222" stroke-width="0.08"><tspan font-style="italic">P</tspan> = 0.0</text>
<text x="32.70" y="292.60" font-size="6.9" text-anchor="start" fill="#222" font-weight="normal" font-style="normal"  textLength="92.3" lengthAdjust="spacingAndGlyphs" stroke="#222" stroke-width="0.1">Panobinostat (positively correlated)</text>
<text transform="translate(14.80,246.70) rotate(-90)" font-size="8.6" text-anchor="middle" fill="#222" stroke="#222" stroke-width="0.3" textLength="61" lengthAdjust="spacingAndGlyphs">Enrichment score (ES)</text>
<text x="135.20" y="197.50" font-size="10.4" text-anchor="start" fill="#111" font-weight="bold" font-style="normal" stroke="#111" stroke-width="0.14" >E</text>
<line x1="164.00" y1="290.20" x2="167.00" y2="290.20" stroke="#111" stroke-width="0.8" />
<text x="161.00" y="292.70" font-size="7.2" text-anchor="end" fill="#222" font-weight="normal" font-style="normal" stroke="#222" stroke-width="0.14" textLength="4.1" lengthAdjust="spacingAndGlyphs">0</text>
<line x1="164.00" y1="273.71" x2="167.00" y2="273.71" stroke="#111" stroke-width="0.8" />
<text x="161.00" y="276.21" font-size="7.2" text-anchor="end" fill="#222" font-weight="normal" font-style="normal" stroke="#222" stroke-width="0.14" textLength="8.2" lengthAdjust="spacingAndGlyphs">20</text>
<line x1="164.00" y1="257.22" x2="167.00" y2="257.22" stroke="#111" stroke-width="0.8" />
<text x="161.00" y="259.72" font-size="7.2" text-anchor="end" fill="#222" font-weight="normal" font-style="normal" stroke="#222" stroke-width="0.14" textLength="8.2" lengthAdjust="spacingAndGlyphs">40</text>
<line x1="164.00" y1="240.73" x2="167.00" y2="240.73" stroke="#111" stroke-width="0.8" />
<text x="161.00" y="243.23" font-size="7.2" text-anchor="end" fill="#222" font-weight="normal" font-style="normal" stroke="#222" stroke-width="0.14" textLength="8.2" lengthAdjust="spacingAndGlyphs">60</text>
<line x1="164.00" y1="224.24" x2="167.00" y2="224.24" stroke="#111" stroke-width="0.8" />
<text x="161.00" y="226.74" font-size="7.2" text-anchor="end" fill="#222" font-weight="normal" font-style="normal" stroke="#222" stroke-width="0.14" textLength="8.2" lengthAdjust="spacingAndGlyphs">80</text>
<line x1="164.00" y1="207.75" x2="167.00" y2="207.75" stroke="#111" stroke-width="0.8" />
<text x="161.00" y="210.25" font-size="7.2" text-anchor="end" fill="#222" font-weight="normal" font-style="normal" stroke="#222" stroke-width="0.14" textLength="12.3" lengthAdjust="spacingAndGlyphs">100</text>
<text transform="translate(143.0,248.1) rotate(-90)" font-size="7.4" text-anchor="middle" fill="#222" stroke="#222" stroke-width="0.15" textLength="37" lengthAdjust="spacingAndGlyphs">Log2 readout</text>
<rect x="170.25" y="287.23" width="4.40" height="2.97" fill="#cc1236" />
<line x1="172.45" y1="287.23" x2="172.45" y2="286.57" stroke="#111" stroke-width="0.6" />
<line x1="170.85" y1="286.57" x2="174.05" y2="286.57" stroke="#222" stroke-width="0.6" />
<rect x="178.30" y="287.73" width="4.40" height="2.47" fill="#14508c" />
<line x1="180.50" y1="287.73" x2="180.50" y2="287.15" stroke="#111" stroke-width="0.6" />
<line x1="178.90" y1="287.15" x2="182.10" y2="287.15" stroke="#222" stroke-width="0.6" />
<text x="180.50" y="286.25" font-size="6.2" text-anchor="middle" fill="#111" font-weight="normal" font-style="normal" stroke="#111" stroke-width="0.14" >*</text>
<line x1="176.30" y1="290.20" x2="176.30" y2="292.80" stroke="#111" stroke-width="0.8" />
<text transform="translate(180.10,300.0) rotate(-45)" font-size="7.5" text-anchor="end" fill="#222" stroke="#222" stroke-width="0.18">PPARA</text>
<rect x="188.33" y="282.20" width="4.40" height="8.00" fill="#cc1236" />
<line x1="190.53" y1="282.20" x2="190.53" y2="281.38" stroke="#111" stroke-width="0.6" />
<line x1="188.93" y1="281.38" x2="192.13" y2="281.38" stroke="#222" stroke-width="0.6" />
<rect x="196.38" y="285.50" width="4.40" height="4.70" fill="#14508c" />
<line x1="198.58" y1="285.50" x2="198.58" y2="284.84" stroke="#111" stroke-width="0.6" />
<line x1="196.98" y1="284.84" x2="200.18" y2="284.84" stroke="#222" stroke-width="0.6" />
<text x="195.28" y="283.94" font-size="6.2" text-anchor="middle" fill="#111" font-weight="normal" font-style="normal" stroke="#111" stroke-width="0.14" >*</text>
<text x="198.58" y="283.94" font-size="6.2" text-anchor="middle" fill="#111" font-weight="normal" font-style="normal" stroke="#111" stroke-width="0.14" >*</text>
<text x="201.88" y="283.94" font-size="6.2" text-anchor="middle" fill="#111" font-weight="normal" font-style="normal" stroke="#111" stroke-width="0.14" >*</text>
<line x1="194.38" y1="290.20" x2="194.38" y2="292.80" stroke="#111" stroke-width="0.8" />
<text transform="translate(198.18,300.0) rotate(-45)" font-size="7.5" text-anchor="end" fill="#222" stroke="#222" stroke-width="0.18">NRF1</text>
<rect x="206.41" y="274.04" width="4.40" height="16.16" fill="#cc1236" />
<line x1="208.61" y1="274.04" x2="208.61" y2="271.48" stroke="#111" stroke-width="0.6" />
<line x1="207.01" y1="271.48" x2="210.21" y2="271.48" stroke="#222" stroke-width="0.6" />
<rect x="214.46" y="278.49" width="4.40" height="11.71" fill="#14508c" />
<line x1="216.66" y1="278.49" x2="216.66" y2="275.85" stroke="#111" stroke-width="0.6" />
<line x1="215.06" y1="275.85" x2="218.26" y2="275.85" stroke="#222" stroke-width="0.6" />
<line x1="212.46" y1="290.20" x2="212.46" y2="292.80" stroke="#111" stroke-width="0.8" />
<text transform="translate(216.26,300.0) rotate(-45)" font-size="7.5" text-anchor="end" fill="#222" stroke="#222" stroke-width="0.18">NDUFS8</text>
<rect x="224.49" y="285.25" width="4.40" height="4.95" fill="#cc1236" />
<line x1="226.69" y1="285.25" x2="226.69" y2="284.68" stroke="#111" stroke-width="0.6" />
<line x1="225.09" y1="284.68" x2="228.29" y2="284.68" stroke="#222" stroke-width="0.6" />
<rect x="232.54" y="286.08" width="4.40" height="4.12" fill="#14508c" />
<line x1="234.74" y1="286.08" x2="234.74" y2="285.34" stroke="#111" stroke-width="0.6" />
<line x1="233.14" y1="285.34" x2="236.34" y2="285.34" stroke="#222" stroke-width="0.6" />
<text x="234.74" y="284.44" font-size="6.2" text-anchor="middle" fill="#111" font-weight="normal" font-style="normal" stroke="#111" stroke-width="0.14" >*</text>
<line x1="230.54" y1="290.20" x2="230.54" y2="292.80" stroke="#111" stroke-width="0.8" />
<text transform="translate(234.34,300.0) rotate(-45)" font-size="7.5" text-anchor="end" fill="#222" stroke="#222" stroke-width="0.18">NFE2L2</text>
<rect x="242.57" y="258.87" width="4.40" height="31.33" fill="#cc1236" />
<line x1="244.77" y1="258.87" x2="244.77" y2="257.71" stroke="#111" stroke-width="0.6" />
<line x1="243.17" y1="257.71" x2="246.37" y2="257.71" stroke="#222" stroke-width="0.6" />
<rect x="250.62" y="272.47" width="4.40" height="17.73" fill="#14508c" />
<line x1="252.82" y1="272.47" x2="252.82" y2="271.15" stroke="#111" stroke-width="0.6" />
<line x1="251.22" y1="271.15" x2="254.42" y2="271.15" stroke="#222" stroke-width="0.6" />
<text x="249.52" y="270.25" font-size="6.2" text-anchor="middle" fill="#111" font-weight="normal" font-style="normal" stroke="#111" stroke-width="0.14" >*</text>
<text x="252.82" y="270.25" font-size="6.2" text-anchor="middle" fill="#111" font-weight="normal" font-style="normal" stroke="#111" stroke-width="0.14" >*</text>
<text x="256.12" y="270.25" font-size="6.2" text-anchor="middle" fill="#111" font-weight="normal" font-style="normal" stroke="#111" stroke-width="0.14" >*</text>
<line x1="248.62" y1="290.20" x2="248.62" y2="292.80" stroke="#111" stroke-width="0.8" />
<text transform="translate(252.42,300.0) rotate(-45)" font-size="7.5" text-anchor="end" fill="#222" stroke="#222" stroke-width="0.18">SDHB</text>
<rect x="260.65" y="218.72" width="4.40" height="71.48" fill="#cc1236" />
<line x1="262.85" y1="218.72" x2="262.85" y2="211.87" stroke="#111" stroke-width="0.6" />
<line x1="261.25" y1="211.87" x2="264.45" y2="211.87" stroke="#222" stroke-width="0.6" />
<rect x="268.70" y="243.62" width="4.40" height="46.58" fill="#14508c" />
<line x1="270.90" y1="243.62" x2="270.90" y2="238.26" stroke="#111" stroke-width="0.6" />
<line x1="269.30" y1="238.26" x2="272.50" y2="238.26" stroke="#222" stroke-width="0.6" />
<text x="269.25" y="237.36" font-size="6.2" text-anchor="middle" fill="#111" font-weight="normal" font-style="normal" stroke="#111" stroke-width="0.14" >*</text>
<text x="272.55" y="237.36" font-size="6.2" text-anchor="middle" fill="#111" font-weight="normal" font-style="normal" stroke="#111" stroke-width="0.14" >*</text>
<line x1="266.70" y1="290.20" x2="266.70" y2="292.80" stroke="#111" stroke-width="0.8" />
<text transform="translate(270.50,300.0) rotate(-45)" font-size="7.5" text-anchor="end" fill="#222" stroke="#222" stroke-width="0.18">UQCRC1</text>
<rect x="278.73" y="223.00" width="4.40" height="67.20" fill="#cc1236" />
<line x1="280.93" y1="223.00" x2="280.93" y2="220.12" stroke="#111" stroke-width="0.6" />
<line x1="279.33" y1="220.12" x2="282.53" y2="220.12" stroke="#222" stroke-width="0.6" />
<rect x="286.78" y="244.19" width="4.40" height="46.01" fill="#14508c" />
<line x1="288.98" y1="244.19" x2="288.98" y2="239.91" stroke="#111" stroke-width="0.6" />
<line x1="287.38" y1="239.91" x2="290.58" y2="239.91" stroke="#222" stroke-width="0.6" />
<text x="287.33" y="239.01" font-size="6.2" text-anchor="middle" fill="#111" font-weight="normal" font-style="normal" stroke="#111" stroke-width="0.14" >*</text>
<text x="290.63" y="239.01" font-size="6.2" text-anchor="middle" fill="#111" font-weight="normal" font-style="normal" stroke="#111" stroke-width="0.14" >*</text>
<line x1="284.78" y1="290.20" x2="284.78" y2="292.80" stroke="#111" stroke-width="0.8" />
<text transform="translate(288.58,300.0) rotate(-45)" font-size="7.5" text-anchor="end" fill="#222" stroke="#222" stroke-width="0.18">COX5B</text>
<rect x="296.81" y="237.02" width="4.40" height="53.18" fill="#cc1236" />
<line x1="299.01" y1="237.02" x2="299.01" y2="233.64" stroke="#111" stroke-width="0.6" />
<line x1="297.41" y1="233.64" x2="300.61" y2="233.64" stroke="#222" stroke-width="0.6" />
<rect x="304.86" y="255.57" width="4.40" height="34.63" fill="#14508c" />
<line x1="307.06" y1="255.57" x2="307.06" y2="252.03" stroke="#111" stroke-width="0.6" />
<line x1="305.46" y1="252.03" x2="308.66" y2="252.03" stroke="#222" stroke-width="0.6" />
<text x="305.41" y="251.13" font-size="6.2" text-anchor="middle" fill="#111" font-weight="normal" font-style="normal" stroke="#111" stroke-width="0.14" >*</text>
<text x="308.71" y="251.13" font-size="6.2" text-anchor="middle" fill="#111" font-weight="normal" font-style="normal" stroke="#111" stroke-width="0.14" >*</text>
<line x1="302.86" y1="290.20" x2="302.86" y2="292.80" stroke="#111" stroke-width="0.8" />
<text transform="translate(306.66,300.0) rotate(-45)" font-size="7.5" text-anchor="end" fill="#222" stroke="#222" stroke-width="0.18">ATP5F1A</text>
<rect x="314.89" y="279.48" width="4.40" height="10.72" fill="#cc1236" />
<line x1="317.09" y1="279.48" x2="317.09" y2="277.01" stroke="#111" stroke-width="0.6" />
<line x1="315.49" y1="277.01" x2="318.69" y2="277.01" stroke="#222" stroke-width="0.6" />
<rect x="322.94" y="283.77" width="4.40" height="6.43" fill="#14508c" />
<line x1="325.14" y1="283.77" x2="325.14" y2="281.63" stroke="#111" stroke-width="0.6" />
<line x1="323.54" y1="281.63" x2="326.74" y2="281.63" stroke="#222" stroke-width="0.6" />
<text x="325.14" y="280.73" font-size="6.2" text-anchor="middle" fill="#111" font-weight="normal" font-style="normal" stroke="#111" stroke-width="0.14" >*</text>
<line x1="320.94" y1="290.20" x2="320.94" y2="292.80" stroke="#111" stroke-width="0.8" />
<text transform="translate(324.74,300.0) rotate(-45)" font-size="7.5" text-anchor="end" fill="#222" stroke="#222" stroke-width="0.18">TFAM</text>
<rect x="332.97" y="264.89" width="4.40" height="25.31" fill="#cc1236" />
<line x1="335.17" y1="264.89" x2="335.17" y2="261.34" stroke="#111" stroke-width="0.6" />
<line x1="333.57" y1="261.34" x2="336.77" y2="261.34" stroke="#222" stroke-width="0.6" />
<rect x="341.02" y="277.01" width="4.40" height="13.19" fill="#14508c" />
<line x1="343.22" y1="277.01" x2="343.22" y2="274.53" stroke="#111" stroke-width="0.6" />
<line x1="341.62" y1="274.53" x2="344.82" y2="274.53" stroke="#222" stroke-width="0.6" />
<text x="341.57" y="273.63" font-size="6.2" text-anchor="middle" fill="#111" font-weight="normal" font-style="normal" stroke="#111" stroke-width="0.14" >*</text>
<text x="344.87" y="273.63" font-size="6.2" text-anchor="middle" fill="#111" font-weight="normal" font-style="normal" stroke="#111" stroke-width="0.14" >*</text>
<line x1="339.02" y1="290.20" x2="339.02" y2="292.80" stroke="#111" stroke-width="0.8" />
<text transform="translate(342.82,300.0) rotate(-45)" font-size="7.5" text-anchor="end" fill="#222" stroke="#222" stroke-width="0.18">POLG</text>
<rect x="351.05" y="286.82" width="4.40" height="3.38" fill="#cc1236" />
<line x1="353.25" y1="286.82" x2="353.25" y2="286.32" stroke="#111" stroke-width="0.6" />
<line x1="351.65" y1="286.32" x2="354.85" y2="286.32" stroke="#222" stroke-width="0.6" />
<rect x="359.10" y="287.07" width="4.40" height="3.13" fill="#14508c" />
<line x1="361.30" y1="287.07" x2="361.30" y2="286.65" stroke="#111" stroke-width="0.6" />
<line x1="359.70" y1="286.65" x2="362.90" y2="286.65" stroke="#222" stroke-width="0.6" />
<text x="361.30" y="285.75" font-size="6.2" text-anchor="middle" fill="#111" font-weight="normal" font-style="normal" stroke="#111" stroke-width="0.14" >*</text>
<line x1="357.10" y1="290.20" x2="357.10" y2="292.80" stroke="#111" stroke-width="0.8" />
<text transform="translate(360.90,300.0) rotate(-45)" font-size="7.5" text-anchor="end" fill="#222" stroke="#222" stroke-width="0.18">TFB1M</text>
<rect x="369.13" y="271.57" width="4.40" height="18.63" fill="#cc1236" />
<line x1="371.33" y1="271.57" x2="371.33" y2="270.91" stroke="#111" stroke-width="0.6" />
<line x1="369.73" y1="270.91" x2="372.93" y2="270.91" stroke="#222" stroke-width="0.6" />
<rect x="377.18" y="279.23" width="4.40" height="10.97" fill="#14508c" />
<line x1="379.38" y1="279.23" x2="379.38" y2="277.75" stroke="#111" stroke-width="0.6" />
<line x1="377.78" y1="277.75" x2="380.98" y2="277.75" stroke="#222" stroke-width="0.6" />
<text x="376.08" y="276.85" font-size="6.2" text-anchor="middle" fill="#111" font-weight="normal" font-style="normal" stroke="#111" stroke-width="0.14" >*</text>
<text x="379.38" y="276.85" font-size="6.2" text-anchor="middle" fill="#111" font-weight="normal" font-style="normal" stroke="#111" stroke-width="0.14" >*</text>
<text x="382.68" y="276.85" font-size="6.2" text-anchor="middle" fill="#111" font-weight="normal" font-style="normal" stroke="#111" stroke-width="0.14" >*</text>
<line x1="375.18" y1="290.20" x2="375.18" y2="292.80" stroke="#111" stroke-width="0.8" />
<text transform="translate(378.98,300.0) rotate(-45)" font-size="7.5" text-anchor="end" fill="#222" stroke="#222" stroke-width="0.18">TFB2M</text>
<line x1="167.00" y1="203.40" x2="167.00" y2="290.80" stroke="#111" stroke-width="1.0" />
<line x1="166.50" y1="290.30" x2="386.60" y2="290.30" stroke="#111" stroke-width="1.0" />
<rect x="336.30" y="207.80" width="5.20" height="4.90" fill="#cc1236" />
<rect x="336.30" y="217.90" width="5.20" height="5.20" fill="#14508c" />
<text x="344.80" y="212.70" font-size="7.0" text-anchor="start" fill="#222" font-weight="normal" font-style="normal" stroke="#222" stroke-width="0.14" >Control</text>
<text x="344.80" y="223.20" font-size="6.75" text-anchor="start" fill="#222" font-weight="normal" font-style="normal" stroke="#222" stroke-width="0.14" >Panobinostat</text>
<text x="402.80" y="197.50" font-size="10.4" text-anchor="start" fill="#111" font-weight="bold" font-style="normal" stroke="#111" stroke-width="0.14" >F</text>
<line x1="436.00" y1="290.40" x2="438.80" y2="290.40" stroke="#111" stroke-width="0.8" />
<text x="434.20" y="292.70" font-size="7.0" text-anchor="end" fill="#222" font-weight="normal" font-style="normal" stroke="#222" stroke-width="0.14" >0</text>
<line x1="436.00" y1="273.80" x2="438.80" y2="273.80" stroke="#111" stroke-width="0.8" />
<text x="434.20" y="276.10" font-size="7.0" text-anchor="end" fill="#222" font-weight="normal" font-style="normal" stroke="#222" stroke-width="0.14" >200</text>
<line x1="436.00" y1="257.20" x2="438.80" y2="257.20" stroke="#111" stroke-width="0.8" />
<text x="434.20" y="259.50" font-size="7.0" text-anchor="end" fill="#222" font-weight="normal" font-style="normal" stroke="#222" stroke-width="0.14" >400</text>
<line x1="436.00" y1="240.60" x2="438.80" y2="240.60" stroke="#111" stroke-width="0.8" />
<text x="434.20" y="242.90" font-size="7.0" text-anchor="end" fill="#222" font-weight="normal" font-style="normal" stroke="#222" stroke-width="0.14" >600</text>
<line x1="436.00" y1="224.00" x2="438.80" y2="224.00" stroke="#111" stroke-width="0.8" />
<text x="434.20" y="226.30" font-size="7.0" text-anchor="end" fill="#222" font-weight="normal" font-style="normal" stroke="#222" stroke-width="0.14" >800</text>
<line x1="436.00" y1="207.40" x2="438.80" y2="207.40" stroke="#111" stroke-width="0.8" />
<text x="434.20" y="209.70" font-size="7.0" text-anchor="end" fill="#222" font-weight="normal" font-style="normal" stroke="#222" stroke-width="0.14" >1000</text>
<text transform="translate(410.2,246.6) rotate(-90)" font-size="7.6" text-anchor="middle" fill="#222" stroke="#222" stroke-width="0.35" textLength="26" lengthAdjust="spacingAndGlyphs">ROS MFI</text>
<rect x="446.60" y="219.60" width="16.00" height="70.80" fill="#cc1236" />
<line x1="454.60" y1="219.60" x2="454.60" y2="217.11" stroke="#222" stroke-width="0.8" />
<line x1="450.40" y1="217.11" x2="458.80" y2="217.11" stroke="#222" stroke-width="0.8" />
<rect x="480.20" y="254.29" width="16.00" height="36.11" fill="#14508c" />
<line x1="488.20" y1="254.29" x2="488.20" y2="252.47" stroke="#222" stroke-width="0.8" />
<line x1="484.00" y1="252.47" x2="492.40" y2="252.47" stroke="#222" stroke-width="0.8" />
<path d="M454.6,214.4 V210.4 H488.4 V214.4" fill="none" stroke="#222" stroke-width="0.8"/>
<text x="467.57" y="208.80" font-size="5.8" text-anchor="middle" fill="#111" font-weight="normal" font-style="normal" stroke="#111" stroke-width="0.14" >*</text>
<text x="470.32" y="208.80" font-size="5.8" text-anchor="middle" fill="#111" font-weight="normal" font-style="normal" stroke="#111" stroke-width="0.14" >*</text>
<text x="473.07" y="208.80" font-size="5.8" text-anchor="middle" fill="#111" font-weight="normal" font-style="normal" stroke="#111" stroke-width="0.14" >*</text>
<text x="475.82" y="208.80" font-size="5.8" text-anchor="middle" fill="#111" font-weight="normal" font-style="normal" stroke="#111" stroke-width="0.14" >*</text>
<line x1="438.80" y1="203.80" x2="438.80" y2="290.90" stroke="#111" stroke-width="1.0" />
<line x1="438.30" y1="290.40" x2="505.00" y2="290.40" stroke="#111" stroke-width="1.0" />
<line x1="454.60" y1="290.40" x2="454.60" y2="292.70" stroke="#111" stroke-width="0.8" />
<line x1="488.10" y1="290.40" x2="488.10" y2="292.70" stroke="#111" stroke-width="0.8" />
<text x="452.60" y="301.60" font-size="7.3" text-anchor="middle" fill="#222" font-weight="normal" font-style="normal" stroke="#222" stroke-width="0.14" >Control</text>
<text x="492.50" y="301.60" font-size="7.3" text-anchor="middle" fill="#222" font-weight="normal" font-style="normal" stroke="#222" stroke-width="0.14" >Panobinostat</text>
<rect x="0" y="0" width="520" height="1.1" fill="#000"/><rect x="0" y="0" width="1.2" height="329" fill="#000"/><rect x="518.8" y="0" width="1.2" height="329" fill="#000"/><rect x="0" y="327.8" width="520" height="1.2" fill="#000"/>
</svg>
</body></html>
